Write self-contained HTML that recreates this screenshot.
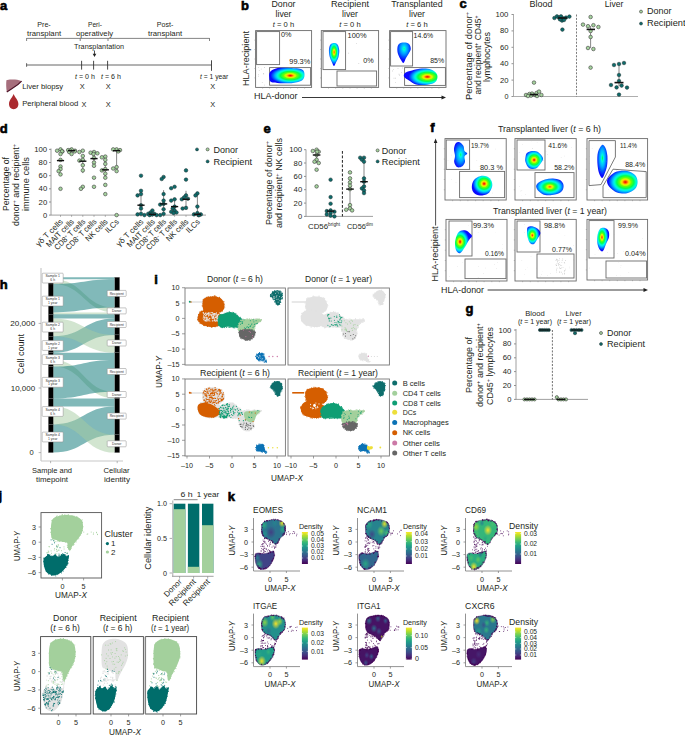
<!DOCTYPE html>
<html><head><meta charset="utf-8"><style>
html,body{margin:0;padding:0;background:#fff;}
svg{display:block;font-family:"Liberation Sans",sans-serif;}
</style></head><body>
<svg width="685" height="736" viewBox="0 0 685 736" fill="#231f20">
<defs><radialGradient id="jg1" cx="0.6" cy="0.5" fx="0.6" fy="0.5" r="0.62"><stop offset="0.000" stop-color="#f00000"/><stop offset="0.050" stop-color="#f93200"/><stop offset="0.100" stop-color="#ff7000"/><stop offset="0.150" stop-color="#ffc000"/><stop offset="0.200" stop-color="#e9ed00"/><stop offset="0.250" stop-color="#b6ff00"/><stop offset="0.300" stop-color="#70ff00"/><stop offset="0.350" stop-color="#4bff1b"/><stop offset="0.400" stop-color="#25ff35"/><stop offset="0.450" stop-color="#00ff50"/><stop offset="0.500" stop-color="#00ff87"/><stop offset="0.550" stop-color="#00ffbf"/><stop offset="0.600" stop-color="#00f2e6"/><stop offset="0.650" stop-color="#00d3f6"/><stop offset="0.700" stop-color="#00b0ff"/><stop offset="0.750" stop-color="#0088ff"/><stop offset="0.800" stop-color="#0060ff"/><stop offset="0.850" stop-color="#0535ff"/><stop offset="0.900" stop-color="#0a0aff"/><stop offset="0.950" stop-color="#0a0aff"/><stop offset="1.000" stop-color="#0a0aff"/></radialGradient>
<radialGradient id="jg2" cx="0.5" cy="0.4" fx="0.5" fy="0.4" r="0.6"><stop offset="0.000" stop-color="#fb3a00"/><stop offset="0.050" stop-color="#ff7100"/><stop offset="0.100" stop-color="#ffb500"/><stop offset="0.150" stop-color="#eee300"/><stop offset="0.200" stop-color="#c8ff00"/><stop offset="0.250" stop-color="#84ff00"/><stop offset="0.300" stop-color="#43ff20"/><stop offset="0.350" stop-color="#21ff39"/><stop offset="0.400" stop-color="#00ff52"/><stop offset="0.450" stop-color="#00ff7e"/><stop offset="0.500" stop-color="#00ffb1"/><stop offset="0.550" stop-color="#00fde1"/><stop offset="0.600" stop-color="#00e4ed"/><stop offset="0.650" stop-color="#00c7fb"/><stop offset="0.700" stop-color="#00a2ff"/><stop offset="0.750" stop-color="#007dff"/><stop offset="0.800" stop-color="#0159ff"/><stop offset="0.850" stop-color="#0532ff"/><stop offset="0.900" stop-color="#0a0aff"/><stop offset="0.950" stop-color="#0a0aff"/><stop offset="1.000" stop-color="#0a0aff"/></radialGradient>
<radialGradient id="jg3" cx="0.5" cy="0.3" fx="0.5" fy="0.3" r="0.6"><stop offset="0.000" stop-color="#00ff8a"/><stop offset="0.050" stop-color="#00ffae"/><stop offset="0.100" stop-color="#00ffd4"/><stop offset="0.150" stop-color="#00f2e6"/><stop offset="0.200" stop-color="#00e0ef"/><stop offset="0.250" stop-color="#00d0f7"/><stop offset="0.300" stop-color="#00c0ff"/><stop offset="0.350" stop-color="#00b3ff"/><stop offset="0.400" stop-color="#00a6ff"/><stop offset="0.450" stop-color="#009aff"/><stop offset="0.500" stop-color="#008bff"/><stop offset="0.550" stop-color="#007cff"/><stop offset="0.600" stop-color="#006cff"/><stop offset="0.650" stop-color="#0159ff"/><stop offset="0.700" stop-color="#0349ff"/><stop offset="0.750" stop-color="#043bff"/><stop offset="0.800" stop-color="#062cff"/><stop offset="0.850" stop-color="#081bff"/><stop offset="0.900" stop-color="#0a0aff"/><stop offset="0.950" stop-color="#0a0aff"/><stop offset="1.000" stop-color="#0a0aff"/></radialGradient>
<radialGradient id="jg4" cx="0.7" cy="0.5" fx="0.7" fy="0.5" r="0.62"><stop offset="0.000" stop-color="#f00000"/><stop offset="0.050" stop-color="#f93200"/><stop offset="0.100" stop-color="#ff7000"/><stop offset="0.150" stop-color="#ffc000"/><stop offset="0.200" stop-color="#e9ed00"/><stop offset="0.250" stop-color="#b6ff00"/><stop offset="0.300" stop-color="#70ff00"/><stop offset="0.350" stop-color="#4bff1b"/><stop offset="0.400" stop-color="#25ff35"/><stop offset="0.450" stop-color="#00ff50"/><stop offset="0.500" stop-color="#00ff87"/><stop offset="0.550" stop-color="#00ffbf"/><stop offset="0.600" stop-color="#00f2e6"/><stop offset="0.650" stop-color="#00d3f6"/><stop offset="0.700" stop-color="#00b0ff"/><stop offset="0.750" stop-color="#0088ff"/><stop offset="0.800" stop-color="#0060ff"/><stop offset="0.850" stop-color="#0535ff"/><stop offset="0.900" stop-color="#0a0aff"/><stop offset="0.950" stop-color="#0a0aff"/><stop offset="1.000" stop-color="#0a0aff"/></radialGradient>
<radialGradient id="jg5" cx="0.5" cy="0.5" fx="0.5" fy="0.5" r="0.6"><stop offset="0.000" stop-color="#00ff70"/><stop offset="0.050" stop-color="#00ff95"/><stop offset="0.100" stop-color="#00ffbd"/><stop offset="0.150" stop-color="#00fbe2"/><stop offset="0.200" stop-color="#00e8eb"/><stop offset="0.250" stop-color="#00d7f4"/><stop offset="0.300" stop-color="#00c6fc"/><stop offset="0.350" stop-color="#00bcff"/><stop offset="0.400" stop-color="#00afff"/><stop offset="0.450" stop-color="#00a1ff"/><stop offset="0.500" stop-color="#0092ff"/><stop offset="0.550" stop-color="#0082ff"/><stop offset="0.600" stop-color="#0071ff"/><stop offset="0.650" stop-color="#005dff"/><stop offset="0.700" stop-color="#024cff"/><stop offset="0.750" stop-color="#043dff"/><stop offset="0.800" stop-color="#062eff"/><stop offset="0.850" stop-color="#081cff"/><stop offset="0.900" stop-color="#0a0aff"/><stop offset="0.950" stop-color="#0a0aff"/><stop offset="1.000" stop-color="#0a0aff"/></radialGradient>
<radialGradient id="jg6" cx="0.6" cy="0.4" fx="0.6" fy="0.4" r="0.62"><stop offset="0.000" stop-color="#f00000"/><stop offset="0.050" stop-color="#f93200"/><stop offset="0.100" stop-color="#ff7000"/><stop offset="0.150" stop-color="#ffc000"/><stop offset="0.200" stop-color="#e9ed00"/><stop offset="0.250" stop-color="#b6ff00"/><stop offset="0.300" stop-color="#70ff00"/><stop offset="0.350" stop-color="#4bff1b"/><stop offset="0.400" stop-color="#25ff35"/><stop offset="0.450" stop-color="#00ff50"/><stop offset="0.500" stop-color="#00ff87"/><stop offset="0.550" stop-color="#00ffbf"/><stop offset="0.600" stop-color="#00f2e6"/><stop offset="0.650" stop-color="#00d3f6"/><stop offset="0.700" stop-color="#00b0ff"/><stop offset="0.750" stop-color="#0088ff"/><stop offset="0.800" stop-color="#0060ff"/><stop offset="0.850" stop-color="#0535ff"/><stop offset="0.900" stop-color="#0a0aff"/><stop offset="0.950" stop-color="#0a0aff"/><stop offset="1.000" stop-color="#0a0aff"/></radialGradient>
<radialGradient id="jg7" cx="0.5" cy="0.5" fx="0.5" fy="0.5" r="0.62"><stop offset="0.000" stop-color="#f00000"/><stop offset="0.050" stop-color="#f93200"/><stop offset="0.100" stop-color="#ff7000"/><stop offset="0.150" stop-color="#ffc000"/><stop offset="0.200" stop-color="#e9ed00"/><stop offset="0.250" stop-color="#b6ff00"/><stop offset="0.300" stop-color="#70ff00"/><stop offset="0.350" stop-color="#4bff1b"/><stop offset="0.400" stop-color="#25ff35"/><stop offset="0.450" stop-color="#00ff50"/><stop offset="0.500" stop-color="#00ff87"/><stop offset="0.550" stop-color="#00ffbf"/><stop offset="0.600" stop-color="#00f2e6"/><stop offset="0.650" stop-color="#00d3f6"/><stop offset="0.700" stop-color="#00b0ff"/><stop offset="0.750" stop-color="#0088ff"/><stop offset="0.800" stop-color="#0060ff"/><stop offset="0.850" stop-color="#0535ff"/><stop offset="0.900" stop-color="#0a0aff"/><stop offset="0.950" stop-color="#0a0aff"/><stop offset="1.000" stop-color="#0a0aff"/></radialGradient>
<radialGradient id="jg8" cx="0.5" cy="0.5" fx="0.5" fy="0.5" r="0.6"><stop offset="0.000" stop-color="#fe4800"/><stop offset="0.050" stop-color="#ff8400"/><stop offset="0.100" stop-color="#fdc400"/><stop offset="0.150" stop-color="#e9ec00"/><stop offset="0.200" stop-color="#baff00"/><stop offset="0.250" stop-color="#77ff00"/><stop offset="0.300" stop-color="#38ff28"/><stop offset="0.350" stop-color="#16ff40"/><stop offset="0.400" stop-color="#00ff5e"/><stop offset="0.450" stop-color="#00ff8a"/><stop offset="0.500" stop-color="#00ffbb"/><stop offset="0.550" stop-color="#00f9e3"/><stop offset="0.600" stop-color="#00e1ef"/><stop offset="0.650" stop-color="#00c4fd"/><stop offset="0.700" stop-color="#009eff"/><stop offset="0.750" stop-color="#007aff"/><stop offset="0.800" stop-color="#0157ff"/><stop offset="0.850" stop-color="#0531ff"/><stop offset="0.900" stop-color="#0a0aff"/><stop offset="0.950" stop-color="#0a0aff"/><stop offset="1.000" stop-color="#0a0aff"/></radialGradient>
<radialGradient id="jg9" cx="0.5" cy="0.4" fx="0.5" fy="0.4" r="0.58"><stop offset="0.000" stop-color="#06ff4c"/><stop offset="0.050" stop-color="#00ff71"/><stop offset="0.100" stop-color="#00ff9c"/><stop offset="0.150" stop-color="#00ffca"/><stop offset="0.200" stop-color="#00f4e5"/><stop offset="0.250" stop-color="#00e1ef"/><stop offset="0.300" stop-color="#00d0f7"/><stop offset="0.350" stop-color="#00c6fc"/><stop offset="0.400" stop-color="#00bbff"/><stop offset="0.450" stop-color="#00adff"/><stop offset="0.500" stop-color="#009cff"/><stop offset="0.550" stop-color="#008cff"/><stop offset="0.600" stop-color="#0079ff"/><stop offset="0.650" stop-color="#0063ff"/><stop offset="0.700" stop-color="#0251ff"/><stop offset="0.750" stop-color="#0441ff"/><stop offset="0.800" stop-color="#0631ff"/><stop offset="0.850" stop-color="#081dff"/><stop offset="0.900" stop-color="#0a0aff"/><stop offset="0.950" stop-color="#0a0aff"/><stop offset="1.000" stop-color="#0a0aff"/></radialGradient>
<radialGradient id="jg10" cx="0.6" cy="0.5" fx="0.6" fy="0.5" r="0.62"><stop offset="0.000" stop-color="#f00000"/><stop offset="0.050" stop-color="#f93200"/><stop offset="0.100" stop-color="#ff7000"/><stop offset="0.150" stop-color="#ffc000"/><stop offset="0.200" stop-color="#e9ed00"/><stop offset="0.250" stop-color="#b6ff00"/><stop offset="0.300" stop-color="#70ff00"/><stop offset="0.350" stop-color="#4bff1b"/><stop offset="0.400" stop-color="#25ff35"/><stop offset="0.450" stop-color="#00ff50"/><stop offset="0.500" stop-color="#00ff87"/><stop offset="0.550" stop-color="#00ffbf"/><stop offset="0.600" stop-color="#00f2e6"/><stop offset="0.650" stop-color="#00d3f6"/><stop offset="0.700" stop-color="#00b0ff"/><stop offset="0.750" stop-color="#0088ff"/><stop offset="0.800" stop-color="#0060ff"/><stop offset="0.850" stop-color="#0535ff"/><stop offset="0.900" stop-color="#0a0aff"/><stop offset="0.950" stop-color="#0a0aff"/><stop offset="1.000" stop-color="#0a0aff"/></radialGradient>
<radialGradient id="jg11" cx="0.3" cy="0.5" fx="0.3" fy="0.5" r="0.6"><stop offset="0.000" stop-color="#f00000"/><stop offset="0.050" stop-color="#f93200"/><stop offset="0.100" stop-color="#ff7000"/><stop offset="0.150" stop-color="#ffc000"/><stop offset="0.200" stop-color="#e9ed00"/><stop offset="0.250" stop-color="#b6ff00"/><stop offset="0.300" stop-color="#70ff00"/><stop offset="0.350" stop-color="#4bff1b"/><stop offset="0.400" stop-color="#25ff35"/><stop offset="0.450" stop-color="#00ff50"/><stop offset="0.500" stop-color="#00ff87"/><stop offset="0.550" stop-color="#00ffbf"/><stop offset="0.600" stop-color="#00f2e6"/><stop offset="0.650" stop-color="#00d3f6"/><stop offset="0.700" stop-color="#00b0ff"/><stop offset="0.750" stop-color="#0088ff"/><stop offset="0.800" stop-color="#0060ff"/><stop offset="0.850" stop-color="#0535ff"/><stop offset="0.900" stop-color="#0a0aff"/><stop offset="0.950" stop-color="#0a0aff"/><stop offset="1.000" stop-color="#0a0aff"/></radialGradient>
<radialGradient id="jg12" cx="0.4" cy="0.5" fx="0.4" fy="0.5" r="0.6"><stop offset="0.000" stop-color="#f72400"/><stop offset="0.050" stop-color="#ff5500"/><stop offset="0.100" stop-color="#ff9b00"/><stop offset="0.150" stop-color="#f4d600"/><stop offset="0.200" stop-color="#ddff00"/><stop offset="0.250" stop-color="#96ff00"/><stop offset="0.300" stop-color="#54ff14"/><stop offset="0.350" stop-color="#31ff2d"/><stop offset="0.400" stop-color="#0dff47"/><stop offset="0.450" stop-color="#00ff6d"/><stop offset="0.500" stop-color="#00ffa1"/><stop offset="0.550" stop-color="#00ffd6"/><stop offset="0.600" stop-color="#00eaeb"/><stop offset="0.650" stop-color="#00ccf9"/><stop offset="0.700" stop-color="#00a7ff"/><stop offset="0.750" stop-color="#0081ff"/><stop offset="0.800" stop-color="#015cff"/><stop offset="0.850" stop-color="#0533ff"/><stop offset="0.900" stop-color="#0a0aff"/><stop offset="0.950" stop-color="#0a0aff"/><stop offset="1.000" stop-color="#0a0aff"/></radialGradient>
<radialGradient id="jg13" cx="0.4" cy="0.4" fx="0.4" fy="0.4" r="0.6"><stop offset="0.000" stop-color="#f72400"/><stop offset="0.050" stop-color="#ff5500"/><stop offset="0.100" stop-color="#ff9b00"/><stop offset="0.150" stop-color="#f4d600"/><stop offset="0.200" stop-color="#ddff00"/><stop offset="0.250" stop-color="#96ff00"/><stop offset="0.300" stop-color="#54ff14"/><stop offset="0.350" stop-color="#31ff2d"/><stop offset="0.400" stop-color="#0dff47"/><stop offset="0.450" stop-color="#00ff6d"/><stop offset="0.500" stop-color="#00ffa1"/><stop offset="0.550" stop-color="#00ffd6"/><stop offset="0.600" stop-color="#00eaeb"/><stop offset="0.650" stop-color="#00ccf9"/><stop offset="0.700" stop-color="#00a7ff"/><stop offset="0.750" stop-color="#0081ff"/><stop offset="0.800" stop-color="#015cff"/><stop offset="0.850" stop-color="#0533ff"/><stop offset="0.900" stop-color="#0a0aff"/><stop offset="0.950" stop-color="#0a0aff"/><stop offset="1.000" stop-color="#0a0aff"/></radialGradient>
<clipPath id="kc14"><path d="M261.8 524.9 C262.3 523.6 263.2 522.2 264.4 521.4 C265.7 520.6 267.7 520.5 269.3 520.2 C271 519.8 272.7 519.4 274.5 519.5 C276.2 519.6 278.2 520 279.8 520.6 C281.4 521.2 283.2 521.9 284.1 523.1 C285 524.3 285.3 525.9 285.4 527.5 C285.6 529.1 285.3 531.4 285 532.8 C284.6 534.1 284 534.5 283.3 535.4 C282.5 536.3 281.4 536.8 280.5 538 C279.6 539.2 278.8 541.3 278 542.4 C277.2 543.5 276.5 544.5 275.8 544.6 C275.1 544.7 274.4 543.9 273.6 543.3 C272.8 542.6 272 541.5 271 540.7 C270 540 268.7 539.5 267.5 538.9 C266.3 538.3 264.9 538.1 264 537.2 C263 536.3 262.2 535 261.8 533.7 C261.4 532.4 261.5 530.9 261.5 529.4 C261.5 527.9 261.3 526.2 261.8 524.9 Z"/><path d="M255.3 554.2 C255.9 553.2 257.5 553 258.8 552.9 C260.1 552.8 261.7 553.8 263.1 553.8 C264.6 553.8 266.2 553.3 267.5 552.9 C268.8 552.6 270 551.9 271 551.7 C272 551.4 273 550.6 273.6 551.2 C274.2 551.9 274.6 554 274.5 555.6 C274.4 557.2 273.5 559.2 272.8 560.8 C272.1 562.4 271.1 563.9 270.1 565.2 C269.1 566.4 267.9 567.6 266.6 568.3 C265.3 569 263.6 569.6 262.3 569.6 C261 569.6 259.8 569.2 258.8 568.3 C257.8 567.4 256.7 565.8 256.1 564.3 C255.5 562.8 255.2 560.8 255.1 559.1 C255 557.4 254.7 555.2 255.3 554.2 Z"/></clipPath>
<radialGradient id="hs15"><stop offset="0" stop-color="#eae527" stop-opacity="0.95"/><stop offset="1" stop-color="#eae527" stop-opacity="0"/></radialGradient>
<radialGradient id="hs16"><stop offset="0" stop-color="#28a883" stop-opacity="0.95"/><stop offset="1" stop-color="#28a883" stop-opacity="0"/></radialGradient>
<radialGradient id="hs17"><stop offset="0" stop-color="#2cac80" stop-opacity="0.95"/><stop offset="1" stop-color="#2cac80" stop-opacity="0"/></radialGradient>
<radialGradient id="hs18"><stop offset="0" stop-color="#22908c" stop-opacity="0.95"/><stop offset="1" stop-color="#22908c" stop-opacity="0"/></radialGradient>
<radialGradient id="hs19"><stop offset="0" stop-color="#423d83" stop-opacity="0.95"/><stop offset="1" stop-color="#423d83" stop-opacity="0"/></radialGradient>
<radialGradient id="hs20"><stop offset="0" stop-color="#26838e" stop-opacity="0.95"/><stop offset="1" stop-color="#26838e" stop-opacity="0"/></radialGradient>
<radialGradient id="hs21"><stop offset="0" stop-color="#2cac80" stop-opacity="0.95"/><stop offset="1" stop-color="#2cac80" stop-opacity="0"/></radialGradient>
<radialGradient id="hs22"><stop offset="0" stop-color="#26838e" stop-opacity="0.95"/><stop offset="1" stop-color="#26838e" stop-opacity="0"/></radialGradient>
<linearGradient id="vg23" x1="0" y1="1" x2="0" y2="0"><stop offset="0.00" stop-color="#440154"/><stop offset="0.11" stop-color="#482878"/><stop offset="0.22" stop-color="#3e4a89"/><stop offset="0.33" stop-color="#31688e"/><stop offset="0.44" stop-color="#26828e"/><stop offset="0.56" stop-color="#1f9e89"/><stop offset="0.67" stop-color="#35b779"/><stop offset="0.78" stop-color="#6ece58"/><stop offset="0.89" stop-color="#b5de2b"/><stop offset="1.00" stop-color="#fde725"/></linearGradient>
<clipPath id="kc24"><path d="M365.8 524.9 C366.3 523.6 367.2 522.2 368.4 521.4 C369.7 520.6 371.7 520.5 373.3 520.2 C375 519.8 376.7 519.4 378.5 519.5 C380.2 519.6 382.2 520 383.8 520.6 C385.4 521.2 387.2 521.9 388.1 523.1 C389 524.3 389.3 525.9 389.4 527.5 C389.6 529.1 389.3 531.4 389 532.8 C388.6 534.1 388 534.5 387.3 535.4 C386.5 536.3 385.4 536.8 384.5 538 C383.6 539.2 382.8 541.3 382 542.4 C381.2 543.5 380.5 544.5 379.8 544.6 C379.1 544.7 378.4 543.9 377.6 543.3 C376.8 542.6 376 541.5 375 540.7 C374 540 372.7 539.5 371.5 538.9 C370.3 538.3 368.9 538.1 368 537.2 C367 536.3 366.2 535 365.8 533.7 C365.4 532.4 365.5 530.9 365.5 529.4 C365.5 527.9 365.3 526.2 365.8 524.9 Z"/><path d="M359.3 554.2 C359.9 553.2 361.5 553 362.8 552.9 C364.1 552.8 365.7 553.8 367.1 553.8 C368.6 553.8 370.2 553.3 371.5 552.9 C372.8 552.6 374 551.9 375 551.7 C376 551.4 377 550.6 377.6 551.2 C378.2 551.9 378.6 554 378.5 555.6 C378.4 557.2 377.5 559.2 376.8 560.8 C376.1 562.4 375.1 563.9 374.1 565.2 C373.1 566.4 371.9 567.6 370.6 568.3 C369.3 569 367.6 569.6 366.3 569.6 C365 569.6 363.8 569.2 362.8 568.3 C361.8 567.4 360.7 565.8 360.1 564.3 C359.5 562.8 359.2 560.8 359.1 559.1 C359 557.4 358.7 555.2 359.3 554.2 Z"/></clipPath>
<radialGradient id="hs25"><stop offset="0" stop-color="#eae527" stop-opacity="0.95"/><stop offset="1" stop-color="#eae527" stop-opacity="0"/></radialGradient>
<radialGradient id="hs26"><stop offset="0" stop-color="#6fce57" stop-opacity="0.95"/><stop offset="1" stop-color="#6fce57" stop-opacity="0"/></radialGradient>
<radialGradient id="hs27"><stop offset="0" stop-color="#46be6f" stop-opacity="0.95"/><stop offset="1" stop-color="#46be6f" stop-opacity="0"/></radialGradient>
<radialGradient id="hs28"><stop offset="0" stop-color="#28a883" stop-opacity="0.95"/><stop offset="1" stop-color="#28a883" stop-opacity="0"/></radialGradient>
<radialGradient id="hs29"><stop offset="0" stop-color="#404386" stop-opacity="0.95"/><stop offset="1" stop-color="#404386" stop-opacity="0"/></radialGradient>
<radialGradient id="hs30"><stop offset="0" stop-color="#28a883" stop-opacity="0.95"/><stop offset="1" stop-color="#28a883" stop-opacity="0"/></radialGradient>
<linearGradient id="vg31" x1="0" y1="1" x2="0" y2="0"><stop offset="0.00" stop-color="#440154"/><stop offset="0.11" stop-color="#482878"/><stop offset="0.22" stop-color="#3e4a89"/><stop offset="0.33" stop-color="#31688e"/><stop offset="0.44" stop-color="#26828e"/><stop offset="0.56" stop-color="#1f9e89"/><stop offset="0.67" stop-color="#35b779"/><stop offset="0.78" stop-color="#6ece58"/><stop offset="0.89" stop-color="#b5de2b"/><stop offset="1.00" stop-color="#fde725"/></linearGradient>
<clipPath id="kc32"><path d="M473.8 524.9 C474.3 523.6 475.2 522.2 476.4 521.4 C477.7 520.6 479.7 520.5 481.3 520.2 C483 519.8 484.7 519.4 486.5 519.5 C488.2 519.6 490.2 520 491.8 520.6 C493.4 521.2 495.2 521.9 496.1 523.1 C497 524.3 497.3 525.9 497.4 527.5 C497.6 529.1 497.3 531.4 497 532.8 C496.6 534.1 496 534.5 495.3 535.4 C494.5 536.3 493.4 536.8 492.5 538 C491.6 539.2 490.8 541.3 490 542.4 C489.2 543.5 488.5 544.5 487.8 544.6 C487.1 544.7 486.4 543.9 485.6 543.3 C484.8 542.6 484 541.5 483 540.7 C482 540 480.7 539.5 479.5 538.9 C478.3 538.3 476.9 538.1 476 537.2 C475 536.3 474.2 535 473.8 533.7 C473.4 532.4 473.5 530.9 473.5 529.4 C473.5 527.9 473.3 526.2 473.8 524.9 Z"/><path d="M467.3 554.2 C467.9 553.2 469.5 553 470.8 552.9 C472.1 552.8 473.7 553.8 475.1 553.8 C476.6 553.8 478.2 553.3 479.5 552.9 C480.8 552.6 482 551.9 483 551.7 C484 551.4 485 550.6 485.6 551.2 C486.2 551.9 486.6 554 486.5 555.6 C486.4 557.2 485.5 559.2 484.8 560.8 C484.1 562.4 483.1 563.9 482.1 565.2 C481.1 566.4 479.9 567.6 478.6 568.3 C477.3 569 475.6 569.6 474.3 569.6 C473 569.6 471.8 569.2 470.8 568.3 C469.8 567.4 468.7 565.8 468.1 564.3 C467.5 562.8 467.2 560.8 467.1 559.1 C467 557.4 466.7 555.2 467.3 554.2 Z"/></clipPath>
<radialGradient id="hs33"><stop offset="0" stop-color="#fde725" stop-opacity="0.95"/><stop offset="1" stop-color="#fde725" stop-opacity="0"/></radialGradient>
<radialGradient id="hs34"><stop offset="0" stop-color="#9cd83b" stop-opacity="0.95"/><stop offset="1" stop-color="#9cd83b" stop-opacity="0"/></radialGradient>
<radialGradient id="hs35"><stop offset="0" stop-color="#46be6f" stop-opacity="0.95"/><stop offset="1" stop-color="#46be6f" stop-opacity="0"/></radialGradient>
<radialGradient id="hs36"><stop offset="0" stop-color="#46be6f" stop-opacity="0.95"/><stop offset="1" stop-color="#46be6f" stop-opacity="0"/></radialGradient>
<radialGradient id="hs37"><stop offset="0" stop-color="#28a883" stop-opacity="0.95"/><stop offset="1" stop-color="#28a883" stop-opacity="0"/></radialGradient>
<radialGradient id="hs38"><stop offset="0" stop-color="#26838e" stop-opacity="0.95"/><stop offset="1" stop-color="#26838e" stop-opacity="0"/></radialGradient>
<radialGradient id="hs39"><stop offset="0" stop-color="#fde725" stop-opacity="0.95"/><stop offset="1" stop-color="#fde725" stop-opacity="0"/></radialGradient>
<radialGradient id="hs40"><stop offset="0" stop-color="#60c860" stop-opacity="0.95"/><stop offset="1" stop-color="#60c860" stop-opacity="0"/></radialGradient>
<radialGradient id="hs41"><stop offset="0" stop-color="#46be6f" stop-opacity="0.95"/><stop offset="1" stop-color="#46be6f" stop-opacity="0"/></radialGradient>
<radialGradient id="hs42"><stop offset="0" stop-color="#2a788e" stop-opacity="0.95"/><stop offset="1" stop-color="#2a788e" stop-opacity="0"/></radialGradient>
<linearGradient id="vg43" x1="0" y1="1" x2="0" y2="0"><stop offset="0.00" stop-color="#440154"/><stop offset="0.11" stop-color="#482878"/><stop offset="0.22" stop-color="#3e4a89"/><stop offset="0.33" stop-color="#31688e"/><stop offset="0.44" stop-color="#26828e"/><stop offset="0.56" stop-color="#1f9e89"/><stop offset="0.67" stop-color="#35b779"/><stop offset="0.78" stop-color="#6ece58"/><stop offset="0.89" stop-color="#b5de2b"/><stop offset="1.00" stop-color="#fde725"/></linearGradient>
<clipPath id="kc44"><path d="M261.8 620.5 C262.3 619.2 263.2 617.8 264.4 617 C265.7 616.2 267.7 616.1 269.3 615.8 C271 615.4 272.7 615 274.5 615.1 C276.2 615.2 278.2 615.6 279.8 616.2 C281.4 616.8 283.2 617.5 284.1 618.7 C285 619.9 285.3 621.5 285.4 623.1 C285.6 624.7 285.3 627 285 628.4 C284.6 629.7 284 630.1 283.3 631 C282.5 631.9 281.4 632.4 280.5 633.6 C279.6 634.8 278.8 636.9 278 638 C277.2 639.1 276.5 640.1 275.8 640.2 C275.1 640.3 274.4 639.5 273.6 638.9 C272.8 638.2 272 637.1 271 636.3 C270 635.6 268.7 635.1 267.5 634.5 C266.3 633.9 264.9 633.7 264 632.8 C263 631.9 262.2 630.6 261.8 629.3 C261.4 628 261.5 626.5 261.5 625 C261.5 623.5 261.3 621.8 261.8 620.5 Z"/><path d="M255.3 649.8 C255.9 648.8 257.5 648.6 258.8 648.5 C260.1 648.5 261.7 649.4 263.1 649.4 C264.6 649.4 266.2 648.9 267.5 648.5 C268.8 648.2 270 647.5 271 647.3 C272 647 273 646.2 273.6 646.8 C274.2 647.5 274.6 649.6 274.5 651.2 C274.4 652.8 273.5 654.8 272.8 656.4 C272.1 658 271.1 659.5 270.1 660.8 C269.1 662 267.9 663.2 266.6 663.9 C265.3 664.6 263.6 665.2 262.3 665.2 C261 665.2 259.8 664.8 258.8 663.9 C257.8 663 256.7 661.4 256.1 659.9 C255.5 658.4 255.2 656.4 255.1 654.7 C255 653 254.7 650.8 255.3 649.8 Z"/></clipPath>
<radialGradient id="hs45"><stop offset="0" stop-color="#fde725" stop-opacity="0.95"/><stop offset="1" stop-color="#fde725" stop-opacity="0"/></radialGradient>
<radialGradient id="hs46"><stop offset="0" stop-color="#89d447" stop-opacity="0.95"/><stop offset="1" stop-color="#89d447" stop-opacity="0"/></radialGradient>
<radialGradient id="hs47"><stop offset="0" stop-color="#60c860" stop-opacity="0.95"/><stop offset="1" stop-color="#60c860" stop-opacity="0"/></radialGradient>
<radialGradient id="hs48"><stop offset="0" stop-color="#9cd83b" stop-opacity="0.95"/><stop offset="1" stop-color="#9cd83b" stop-opacity="0"/></radialGradient>
<radialGradient id="hs49"><stop offset="0" stop-color="#2f6c8e" stop-opacity="0.95"/><stop offset="1" stop-color="#2f6c8e" stop-opacity="0"/></radialGradient>
<radialGradient id="hs50"><stop offset="0" stop-color="#fde725" stop-opacity="0.95"/><stop offset="1" stop-color="#fde725" stop-opacity="0"/></radialGradient>
<radialGradient id="hs51"><stop offset="0" stop-color="#28a883" stop-opacity="0.95"/><stop offset="1" stop-color="#28a883" stop-opacity="0"/></radialGradient>
<radialGradient id="hs52"><stop offset="0" stop-color="#32b37b" stop-opacity="0.95"/><stop offset="1" stop-color="#32b37b" stop-opacity="0"/></radialGradient>
<linearGradient id="vg53" x1="0" y1="1" x2="0" y2="0"><stop offset="0.00" stop-color="#440154"/><stop offset="0.11" stop-color="#482878"/><stop offset="0.22" stop-color="#3e4a89"/><stop offset="0.33" stop-color="#31688e"/><stop offset="0.44" stop-color="#26828e"/><stop offset="0.56" stop-color="#1f9e89"/><stop offset="0.67" stop-color="#35b779"/><stop offset="0.78" stop-color="#6ece58"/><stop offset="0.89" stop-color="#b5de2b"/><stop offset="1.00" stop-color="#fde725"/></linearGradient>
<clipPath id="kc54"><path d="M365.8 620.5 C366.3 619.2 367.2 617.8 368.4 617 C369.7 616.2 371.7 616.1 373.3 615.8 C375 615.4 376.7 615 378.5 615.1 C380.2 615.2 382.2 615.6 383.8 616.2 C385.4 616.8 387.2 617.5 388.1 618.7 C389 619.9 389.3 621.5 389.4 623.1 C389.6 624.7 389.3 627 389 628.4 C388.6 629.7 388 630.1 387.3 631 C386.5 631.9 385.4 632.4 384.5 633.6 C383.6 634.8 382.8 636.9 382 638 C381.2 639.1 380.5 640.1 379.8 640.2 C379.1 640.3 378.4 639.5 377.6 638.9 C376.8 638.2 376 637.1 375 636.3 C374 635.6 372.7 635.1 371.5 634.5 C370.3 633.9 368.9 633.7 368 632.8 C367 631.9 366.2 630.6 365.8 629.3 C365.4 628 365.5 626.5 365.5 625 C365.5 623.5 365.3 621.8 365.8 620.5 Z"/><path d="M359.3 649.8 C359.9 648.8 361.5 648.6 362.8 648.5 C364.1 648.5 365.7 649.4 367.1 649.4 C368.6 649.4 370.2 648.9 371.5 648.5 C372.8 648.2 374 647.5 375 647.3 C376 647 377 646.2 377.6 646.8 C378.2 647.5 378.6 649.6 378.5 651.2 C378.4 652.8 377.5 654.8 376.8 656.4 C376.1 658 375.1 659.5 374.1 660.8 C373.1 662 371.9 663.2 370.6 663.9 C369.3 664.6 367.6 665.2 366.3 665.2 C365 665.2 363.8 664.8 362.8 663.9 C361.8 663 360.7 661.4 360.1 659.9 C359.5 658.4 359.2 656.4 359.1 654.7 C359 653 358.7 650.8 359.3 649.8 Z"/></clipPath>
<radialGradient id="hs55"><stop offset="0" stop-color="#2f6c8e" stop-opacity="0.95"/><stop offset="1" stop-color="#2f6c8e" stop-opacity="0"/></radialGradient>
<radialGradient id="hs56"><stop offset="0" stop-color="#355f8c" stop-opacity="0.95"/><stop offset="1" stop-color="#355f8c" stop-opacity="0"/></radialGradient>
<radialGradient id="hs57"><stop offset="0" stop-color="#2c738e" stop-opacity="0.95"/><stop offset="1" stop-color="#2c738e" stop-opacity="0"/></radialGradient>
<radialGradient id="hs58"><stop offset="0" stop-color="#355f8c" stop-opacity="0.95"/><stop offset="1" stop-color="#355f8c" stop-opacity="0"/></radialGradient>
<radialGradient id="hs59"><stop offset="0" stop-color="#bcdf2a" stop-opacity="0.95"/><stop offset="1" stop-color="#bcdf2a" stop-opacity="0"/></radialGradient>
<radialGradient id="hs60"><stop offset="0" stop-color="#28a883" stop-opacity="0.95"/><stop offset="1" stop-color="#28a883" stop-opacity="0"/></radialGradient>
<radialGradient id="hs61"><stop offset="0" stop-color="#3b528a" stop-opacity="0.95"/><stop offset="1" stop-color="#3b528a" stop-opacity="0"/></radialGradient>
<radialGradient id="hs62"><stop offset="0" stop-color="#3b528a" stop-opacity="0.95"/><stop offset="1" stop-color="#3b528a" stop-opacity="0"/></radialGradient>
<radialGradient id="hs63"><stop offset="0" stop-color="#355f8c" stop-opacity="0.95"/><stop offset="1" stop-color="#355f8c" stop-opacity="0"/></radialGradient>
<radialGradient id="hs64"><stop offset="0" stop-color="#404386" stop-opacity="0.95"/><stop offset="1" stop-color="#404386" stop-opacity="0"/></radialGradient>
<linearGradient id="vg65" x1="0" y1="1" x2="0" y2="0"><stop offset="0.00" stop-color="#440154"/><stop offset="0.11" stop-color="#482878"/><stop offset="0.22" stop-color="#3e4a89"/><stop offset="0.33" stop-color="#31688e"/><stop offset="0.44" stop-color="#26828e"/><stop offset="0.56" stop-color="#1f9e89"/><stop offset="0.67" stop-color="#35b779"/><stop offset="0.78" stop-color="#6ece58"/><stop offset="0.89" stop-color="#b5de2b"/><stop offset="1.00" stop-color="#fde725"/></linearGradient>
<clipPath id="kc66"><path d="M473.8 620.5 C474.3 619.2 475.2 617.8 476.4 617 C477.7 616.2 479.7 616.1 481.3 615.8 C483 615.4 484.7 615 486.5 615.1 C488.2 615.2 490.2 615.6 491.8 616.2 C493.4 616.8 495.2 617.5 496.1 618.7 C497 619.9 497.3 621.5 497.4 623.1 C497.6 624.7 497.3 627 497 628.4 C496.6 629.7 496 630.1 495.3 631 C494.5 631.9 493.4 632.4 492.5 633.6 C491.6 634.8 490.8 636.9 490 638 C489.2 639.1 488.5 640.1 487.8 640.2 C487.1 640.3 486.4 639.5 485.6 638.9 C484.8 638.2 484 637.1 483 636.3 C482 635.6 480.7 635.1 479.5 634.5 C478.3 633.9 476.9 633.7 476 632.8 C475 631.9 474.2 630.6 473.8 629.3 C473.4 628 473.5 626.5 473.5 625 C473.5 623.5 473.3 621.8 473.8 620.5 Z"/><path d="M467.3 649.8 C467.9 648.8 469.5 648.6 470.8 648.5 C472.1 648.5 473.7 649.4 475.1 649.4 C476.6 649.4 478.2 648.9 479.5 648.5 C480.8 648.2 482 647.5 483 647.3 C484 647 485 646.2 485.6 646.8 C486.2 647.5 486.6 649.6 486.5 651.2 C486.4 652.8 485.5 654.8 484.8 656.4 C484.1 658 483.1 659.5 482.1 660.8 C481.1 662 479.9 663.2 478.6 663.9 C477.3 664.6 475.6 665.2 474.3 665.2 C473 665.2 471.8 664.8 470.8 663.9 C469.8 663 468.7 661.4 468.1 659.9 C467.5 658.4 467.2 656.4 467.1 654.7 C467 653 466.7 650.8 467.3 649.8 Z"/></clipPath>
<radialGradient id="hs67"><stop offset="0" stop-color="#fde725" stop-opacity="0.95"/><stop offset="1" stop-color="#fde725" stop-opacity="0"/></radialGradient>
<radialGradient id="hs68"><stop offset="0" stop-color="#7cd14f" stop-opacity="0.95"/><stop offset="1" stop-color="#7cd14f" stop-opacity="0"/></radialGradient>
<radialGradient id="hs69"><stop offset="0" stop-color="#32b37b" stop-opacity="0.95"/><stop offset="1" stop-color="#32b37b" stop-opacity="0"/></radialGradient>
<radialGradient id="hs70"><stop offset="0" stop-color="#32b37b" stop-opacity="0.95"/><stop offset="1" stop-color="#32b37b" stop-opacity="0"/></radialGradient>
<radialGradient id="hs71"><stop offset="0" stop-color="#1f9d89" stop-opacity="0.95"/><stop offset="1" stop-color="#1f9d89" stop-opacity="0"/></radialGradient>
<radialGradient id="hs72"><stop offset="0" stop-color="#3b528a" stop-opacity="0.95"/><stop offset="1" stop-color="#3b528a" stop-opacity="0"/></radialGradient>
<radialGradient id="hs73"><stop offset="0" stop-color="#423d83" stop-opacity="0.95"/><stop offset="1" stop-color="#423d83" stop-opacity="0"/></radialGradient>
<radialGradient id="hs74"><stop offset="0" stop-color="#472b79" stop-opacity="0.95"/><stop offset="1" stop-color="#472b79" stop-opacity="0"/></radialGradient>
<linearGradient id="vg75" x1="0" y1="1" x2="0" y2="0"><stop offset="0.00" stop-color="#440154"/><stop offset="0.11" stop-color="#482878"/><stop offset="0.22" stop-color="#3e4a89"/><stop offset="0.33" stop-color="#31688e"/><stop offset="0.44" stop-color="#26828e"/><stop offset="0.56" stop-color="#1f9e89"/><stop offset="0.67" stop-color="#35b779"/><stop offset="0.78" stop-color="#6ece58"/><stop offset="0.89" stop-color="#b5de2b"/><stop offset="1.00" stop-color="#fde725"/></linearGradient></defs>
<text x="0" y="10.2" font-size="13" font-weight="bold" fill="#000" stroke="#000" stroke-width="0.6">a</text>
<text x="241" y="10" font-size="13" font-weight="bold" fill="#000" stroke="#000" stroke-width="0.6">b</text>
<text x="459.5" y="8.4" font-size="13" font-weight="bold" fill="#000" stroke="#000" stroke-width="0.6">c</text>
<text x="-0.3" y="132.7" font-size="13" font-weight="bold" fill="#000" stroke="#000" stroke-width="0.6">d</text>
<text x="263.5" y="132.5" font-size="13" font-weight="bold" fill="#000" stroke="#000" stroke-width="0.6">e</text>
<text x="430.3" y="132.2" font-size="13" font-weight="bold" fill="#000" stroke="#000" stroke-width="0.6">f</text>
<text x="465.5" y="312.5" font-size="13" font-weight="bold" fill="#000" stroke="#000" stroke-width="0.6">g</text>
<text x="-0.3" y="289" font-size="13" font-weight="bold" fill="#000" stroke="#000" stroke-width="0.6">h</text>
<text x="154.3" y="284.3" font-size="13" font-weight="bold" fill="#000" stroke="#000" stroke-width="0.6">i</text>
<text x="-1.6" y="499.5" font-size="13" font-weight="bold" fill="#000" stroke="#000" stroke-width="0.6">j</text>
<text x="227.8" y="501" font-size="13" font-weight="bold" fill="#000" stroke="#000" stroke-width="0.6">k</text>
<text x="44" y="26.8" font-size="7.4" text-anchor="middle" textLength="13.5" lengthAdjust="spacingAndGlyphs">Pre-</text>
<text x="27" y="36" font-size="7.4" textLength="34.2" lengthAdjust="spacingAndGlyphs">transplant</text>
<text x="95" y="26.8" font-size="7.4" text-anchor="middle" textLength="14" lengthAdjust="spacingAndGlyphs">Peri-</text>
<text x="76" y="36" font-size="7.4" textLength="37.2" lengthAdjust="spacingAndGlyphs">operatively</text>
<text x="165" y="26.8" font-size="7.4" text-anchor="middle" textLength="16.5" lengthAdjust="spacingAndGlyphs">Post-</text>
<text x="148" y="36" font-size="7.4" textLength="34.2" lengthAdjust="spacingAndGlyphs">transplant</text>
<line x1="26.6" y1="38.4" x2="209.5" y2="38.4" stroke="#777" stroke-width="0.9"/>
<line x1="26.6" y1="38" x2="26.6" y2="41" stroke="#777" stroke-width="0.9"/>
<line x1="80.2" y1="38" x2="80.2" y2="41" stroke="#777" stroke-width="0.9"/>
<line x1="108" y1="38" x2="108" y2="41" stroke="#777" stroke-width="0.9"/>
<line x1="209.5" y1="38" x2="209.5" y2="41" stroke="#777" stroke-width="0.9"/>
<text x="74" y="48.6" font-size="7.4" textLength="50" lengthAdjust="spacingAndGlyphs">Transplantation</text>
<line x1="94.5" y1="50.5" x2="94.5" y2="54.5" stroke="#222" stroke-width="0.8"/>
<path d="M92.7 53.8 L96.3 53.8 L94.5 57 Z" fill="#222"/>
<line x1="26.4" y1="65" x2="211.5" y2="65" stroke="#555" stroke-width="0.9"/>
<line x1="26.6" y1="63.2" x2="26.6" y2="66.8" stroke="#555" stroke-width="0.9"/>
<line x1="81.6" y1="60.8" x2="81.6" y2="69.6" stroke="#333" stroke-width="0.9"/>
<line x1="93.6" y1="60.8" x2="93.6" y2="69.6" stroke="#333" stroke-width="0.9"/>
<line x1="107.6" y1="60.8" x2="107.6" y2="69.6" stroke="#333" stroke-width="0.9"/>
<line x1="211.5" y1="60.3" x2="211.5" y2="70.8" stroke="#333" stroke-width="0.9"/>
<text x="75" y="79" font-size="7.4" textLength="20" lengthAdjust="spacingAndGlyphs"><tspan font-style="italic">t</tspan> = 0 h</text>
<text x="101" y="79" font-size="7.4" textLength="20" lengthAdjust="spacingAndGlyphs"><tspan font-style="italic">t</tspan> = 6 h</text>
<text x="200" y="79" font-size="7.4" textLength="28.3" lengthAdjust="spacingAndGlyphs"><tspan font-style="italic">t</tspan> = 1 year</text>
<text x="22.2" y="88.6" font-size="7.5" textLength="41" lengthAdjust="spacingAndGlyphs">Liver biopsy</text>
<text x="22.2" y="106.4" font-size="7.5" textLength="56" lengthAdjust="spacingAndGlyphs">Peripheral blood</text>
<text x="82.2" y="88.6" font-size="7.4" text-anchor="middle">X</text>
<text x="108.2" y="88.6" font-size="7.4" text-anchor="middle">X</text>
<text x="212.6" y="88.6" font-size="7.4" text-anchor="middle">X</text>
<text x="84" y="106.8" font-size="7.4" text-anchor="middle">X</text>
<text x="108.2" y="106.8" font-size="7.4" text-anchor="middle">X</text>
<text x="212.6" y="106.8" font-size="7.4" text-anchor="middle">X</text>
<path d="M6.4 80.2 C8 79.3 12 79.2 15 79.6 C18 80 20.5 80.6 21.6 81.2 C19.5 83.6 16 86.2 12.5 88.3 C10.5 89.7 8.5 91 6.8 92 C6.2 88 6 84 6.4 80.2 Z" fill="#a66e7c"/>
<path d="M21.6 81.2 C19.5 83.6 16 86.2 12.5 88.3 C10.5 89.7 8.5 91 6.8 92" fill="none" stroke="#4c1428" stroke-width="1.1"/>
<path d="M13.6 94 C12.4 97.5 9 100 9 104 C9 107 11 109.2 13.7 109.2 C16.4 109.2 18.4 107 18.4 104 C18.4 100 15 97.5 13.6 94 Z" fill="#ab2a2f"/>
<text x="283.5" y="6.7" font-size="8.2" text-anchor="middle" textLength="24" lengthAdjust="spacingAndGlyphs">Donor</text>
<text x="283.5" y="16.9" font-size="8.2" text-anchor="middle" textLength="16" lengthAdjust="spacingAndGlyphs">liver</text>
<text x="283.5" y="26.9" font-size="8" text-anchor="middle" textLength="21.3" lengthAdjust="spacingAndGlyphs"><tspan font-style="italic">t</tspan> = 0 h</text>
<text x="350" y="6.7" font-size="8.2" text-anchor="middle" textLength="38" lengthAdjust="spacingAndGlyphs">Recipient</text>
<text x="350" y="16.9" font-size="8.2" text-anchor="middle" textLength="16" lengthAdjust="spacingAndGlyphs">liver</text>
<text x="350" y="26.9" font-size="8" text-anchor="middle" textLength="21.3" lengthAdjust="spacingAndGlyphs"><tspan font-style="italic">t</tspan> = 0 h</text>
<text x="417" y="6.7" font-size="8.2" text-anchor="middle" textLength="51.5" lengthAdjust="spacingAndGlyphs">Transplanted</text>
<text x="417" y="16.9" font-size="8.2" text-anchor="middle" textLength="16" lengthAdjust="spacingAndGlyphs">liver</text>
<text x="417" y="26.9" font-size="8" text-anchor="middle" textLength="21.3" lengthAdjust="spacingAndGlyphs"><tspan font-style="italic">t</tspan> = 6 h</text>
<rect x="255.6" y="30.6" width="56" height="56.8" fill="none" stroke="#6b6b6b" stroke-width="0.9"/>
<line x1="254.4" y1="40.1" x2="255.6" y2="40.1" stroke="#888" stroke-width="0.5"/>
<line x1="254.4" y1="49.5" x2="255.6" y2="49.5" stroke="#888" stroke-width="0.5"/>
<line x1="254.4" y1="59" x2="255.6" y2="59" stroke="#888" stroke-width="0.5"/>
<line x1="254.4" y1="68.5" x2="255.6" y2="68.5" stroke="#888" stroke-width="0.5"/>
<line x1="254.4" y1="77.9" x2="255.6" y2="77.9" stroke="#888" stroke-width="0.5"/>
<line x1="262.6" y1="87.4" x2="262.6" y2="88.6" stroke="#888" stroke-width="0.5"/>
<line x1="269.6" y1="87.4" x2="269.6" y2="88.6" stroke="#888" stroke-width="0.5"/>
<line x1="276.6" y1="87.4" x2="276.6" y2="88.6" stroke="#888" stroke-width="0.5"/>
<line x1="283.6" y1="87.4" x2="283.6" y2="88.6" stroke="#888" stroke-width="0.5"/>
<line x1="290.6" y1="87.4" x2="290.6" y2="88.6" stroke="#888" stroke-width="0.5"/>
<line x1="297.6" y1="87.4" x2="297.6" y2="88.6" stroke="#888" stroke-width="0.5"/>
<line x1="304.6" y1="87.4" x2="304.6" y2="88.6" stroke="#888" stroke-width="0.5"/>
<rect x="256.6" y="31.6" width="23" height="33" fill="none" stroke="#6b6b6b" stroke-width="0.9"/>
<rect x="269.6" y="67.6" width="41" height="17.6" fill="none" stroke="#6b6b6b" stroke-width="0.9"/>
<path d="M270 72 C271.1 70.6 272.7 69.1 276 68.4 C279.3 67.7 285.7 67.8 290 68 C294.3 68.2 299.6 68.3 302 69.5 C304.4 70.7 304.5 73.2 304.5 75 C304.5 76.8 303.9 79.2 302 80.5 C300.1 81.8 296.7 82.5 293 83 C289.3 83.5 283.7 83.4 280 83.2 C276.3 83 272.8 83 271 82 C269.2 81 269.4 78.7 269.2 77 C269 75.3 268.9 73.4 270 72 Z" fill="url(#jg1)"/>
<text x="281" y="37.2" font-size="6.6" textLength="10.5" lengthAdjust="spacingAndGlyphs">0%</text>
<text x="289.3" y="64.3" font-size="6.6" textLength="21" lengthAdjust="spacingAndGlyphs">99.3%</text>
<rect x="321.3" y="30.6" width="57.3" height="56.8" fill="none" stroke="#6b6b6b" stroke-width="0.9"/>
<line x1="320.1" y1="40.1" x2="321.3" y2="40.1" stroke="#888" stroke-width="0.5"/>
<line x1="320.1" y1="49.5" x2="321.3" y2="49.5" stroke="#888" stroke-width="0.5"/>
<line x1="320.1" y1="59" x2="321.3" y2="59" stroke="#888" stroke-width="0.5"/>
<line x1="320.1" y1="68.5" x2="321.3" y2="68.5" stroke="#888" stroke-width="0.5"/>
<line x1="320.1" y1="77.9" x2="321.3" y2="77.9" stroke="#888" stroke-width="0.5"/>
<line x1="328.5" y1="87.4" x2="328.5" y2="88.6" stroke="#888" stroke-width="0.5"/>
<line x1="335.6" y1="87.4" x2="335.6" y2="88.6" stroke="#888" stroke-width="0.5"/>
<line x1="342.8" y1="87.4" x2="342.8" y2="88.6" stroke="#888" stroke-width="0.5"/>
<line x1="350" y1="87.4" x2="350" y2="88.6" stroke="#888" stroke-width="0.5"/>
<line x1="357.1" y1="87.4" x2="357.1" y2="88.6" stroke="#888" stroke-width="0.5"/>
<line x1="364.3" y1="87.4" x2="364.3" y2="88.6" stroke="#888" stroke-width="0.5"/>
<line x1="371.4" y1="87.4" x2="371.4" y2="88.6" stroke="#888" stroke-width="0.5"/>
<rect x="323" y="31.6" width="22.6" height="38" fill="none" stroke="#6b6b6b" stroke-width="0.9"/>
<rect x="337" y="71" width="39.6" height="15" fill="none" stroke="#6b6b6b" stroke-width="0.9"/>
<path d="M334 43 C335.2 43 336.6 43.3 337.5 44.5 C338.4 45.7 339 47.9 339.2 50 C339.4 52.1 339 54.9 338.5 57 C338 59.1 336.8 61 336 62.5 C335.2 64 334.7 66 334 66 C333.3 66 332.8 64.2 332 62.5 C331.2 60.8 330 58.2 329.5 56 C329 53.8 328.8 50.9 329 49 C329.2 47.1 329.7 45.5 330.5 44.5 C331.3 43.5 332.8 43 334 43 Z" fill="url(#jg2)"/>
<text x="347.5" y="37.8" font-size="6.6" textLength="19" lengthAdjust="spacingAndGlyphs">100%</text>
<text x="363.2" y="63" font-size="6.6" textLength="10.5" lengthAdjust="spacingAndGlyphs">0%</text>
<rect x="389.6" y="30.6" width="56.4" height="56.8" fill="none" stroke="#6b6b6b" stroke-width="0.9"/>
<line x1="388.4" y1="40.1" x2="389.6" y2="40.1" stroke="#888" stroke-width="0.5"/>
<line x1="388.4" y1="49.5" x2="389.6" y2="49.5" stroke="#888" stroke-width="0.5"/>
<line x1="388.4" y1="59" x2="389.6" y2="59" stroke="#888" stroke-width="0.5"/>
<line x1="388.4" y1="68.5" x2="389.6" y2="68.5" stroke="#888" stroke-width="0.5"/>
<line x1="388.4" y1="77.9" x2="389.6" y2="77.9" stroke="#888" stroke-width="0.5"/>
<line x1="396.7" y1="87.4" x2="396.7" y2="88.6" stroke="#888" stroke-width="0.5"/>
<line x1="403.7" y1="87.4" x2="403.7" y2="88.6" stroke="#888" stroke-width="0.5"/>
<line x1="410.8" y1="87.4" x2="410.8" y2="88.6" stroke="#888" stroke-width="0.5"/>
<line x1="417.8" y1="87.4" x2="417.8" y2="88.6" stroke="#888" stroke-width="0.5"/>
<line x1="424.9" y1="87.4" x2="424.9" y2="88.6" stroke="#888" stroke-width="0.5"/>
<line x1="431.9" y1="87.4" x2="431.9" y2="88.6" stroke="#888" stroke-width="0.5"/>
<line x1="438.9" y1="87.4" x2="438.9" y2="88.6" stroke="#888" stroke-width="0.5"/>
<rect x="390.6" y="31.6" width="22" height="34.4" fill="none" stroke="#6b6b6b" stroke-width="0.9"/>
<rect x="404.6" y="67.6" width="40.8" height="17.8" fill="none" stroke="#6b6b6b" stroke-width="0.9"/>
<path d="M399 44 C400.1 43.1 402.3 42.6 404 42.6 C405.7 42.6 407.9 42.9 409 44 C410.1 45.1 410.9 47.3 410.8 49 C410.7 50.7 409.3 52.5 408.5 54 C407.7 55.5 406.8 56.5 406 58 C405.2 59.5 404.3 62.7 403.5 63 C402.7 63.3 401.9 61.5 401 60 C400.1 58.5 398.6 56 398 54 C397.4 52 397.2 49.7 397.4 48 C397.6 46.3 397.9 44.9 399 44 Z" fill="url(#jg3)"/>
<path d="M405 73 C406.3 71.9 409.2 71.2 412 70.5 C414.8 69.8 418.8 68.8 422 68.6 C425.2 68.4 428.6 68.7 431 69.5 C433.4 70.3 435.4 72 436.5 73.5 C437.6 75 437.7 76.9 437.3 78.5 C436.9 80.1 436.1 81.9 434 83 C431.9 84.1 428 84.8 425 85 C422 85.2 418.7 85.2 416 84.5 C413.3 83.8 411 81.8 409 80.5 C407 79.2 404.9 78.2 404.2 77 C403.5 75.8 403.7 74.1 405 73 Z" fill="url(#jg4)"/>
<text x="413.6" y="37.8" font-size="6.6" textLength="19.6" lengthAdjust="spacingAndGlyphs">14.6%</text>
<text x="430.2" y="63" font-size="6.6" textLength="14" lengthAdjust="spacingAndGlyphs">85%</text>
<circle cx="261.2" cy="69" r="0.3" fill="#777"/>
<circle cx="264.5" cy="67.4" r="0.3" fill="#777"/>
<circle cx="263.4" cy="73.3" r="0.3" fill="#777"/>
<circle cx="258.6" cy="76.1" r="0.3" fill="#777"/>
<circle cx="258.4" cy="74.7" r="0.3" fill="#777"/>
<circle cx="258.7" cy="67.8" r="0.3" fill="#777"/>
<circle cx="262.2" cy="82.5" r="0.3" fill="#777"/>
<circle cx="259.2" cy="70.5" r="0.3" fill="#777"/>
<circle cx="264.3" cy="85" r="0.3" fill="#777"/>
<circle cx="263.8" cy="73.9" r="0.3" fill="#777"/>
<circle cx="402.7" cy="67.9" r="0.3" fill="#777"/>
<circle cx="401.4" cy="72.5" r="0.3" fill="#777"/>
<circle cx="393.6" cy="69.2" r="0.3" fill="#777"/>
<circle cx="395.4" cy="82.5" r="0.3" fill="#777"/>
<circle cx="394" cy="78.1" r="0.3" fill="#777"/>
<circle cx="399" cy="74.1" r="0.3" fill="#777"/>
<circle cx="398" cy="68.2" r="0.3" fill="#777"/>
<circle cx="392.7" cy="70.9" r="0.3" fill="#777"/>
<circle cx="399.5" cy="75.1" r="0.3" fill="#777"/>
<circle cx="395.5" cy="78.1" r="0.3" fill="#777"/>
<circle cx="356.3" cy="43.5" r="0.3" fill="#777"/>
<circle cx="368.6" cy="57.5" r="0.3" fill="#777"/>
<circle cx="348.8" cy="53.1" r="0.3" fill="#777"/>
<circle cx="358.9" cy="63.6" r="0.3" fill="#777"/>
<text x="248.8" y="58.5" font-size="8.6" text-anchor="middle" textLength="55" lengthAdjust="spacingAndGlyphs" transform="rotate(-90 248.8 58.5)">HLA-recipient</text>
<text x="254" y="99.4" font-size="8.6" textLength="43.5" lengthAdjust="spacingAndGlyphs">HLA-donor</text>
<line x1="302" y1="97.5" x2="442" y2="97.5" stroke="#222" stroke-width="0.9"/>
<path d="M441.5 95.6 L446 97.5 L441.5 99.4 Z" fill="#222"/>
<text x="541" y="7" font-size="8.2" text-anchor="middle" textLength="23" lengthAdjust="spacingAndGlyphs">Blood</text>
<text x="614" y="7" font-size="8.2" text-anchor="middle" textLength="18.5" lengthAdjust="spacingAndGlyphs">Liver</text>
<text x="508.4" y="98.9" font-size="7" text-anchor="end" textLength="4" lengthAdjust="spacingAndGlyphs">0</text>
<line x1="511.5" y1="96.5" x2="513.5" y2="96.5" stroke="#777" stroke-width="0.8"/>
<text x="508.4" y="82.5" font-size="7" text-anchor="end" textLength="8.5" lengthAdjust="spacingAndGlyphs">20</text>
<line x1="511.5" y1="80.1" x2="513.5" y2="80.1" stroke="#777" stroke-width="0.8"/>
<text x="508.4" y="66.1" font-size="7" text-anchor="end" textLength="8.5" lengthAdjust="spacingAndGlyphs">40</text>
<line x1="511.5" y1="63.7" x2="513.5" y2="63.7" stroke="#777" stroke-width="0.8"/>
<text x="508.4" y="49.7" font-size="7" text-anchor="end" textLength="8.5" lengthAdjust="spacingAndGlyphs">60</text>
<line x1="511.5" y1="47.3" x2="513.5" y2="47.3" stroke="#777" stroke-width="0.8"/>
<text x="508.4" y="33.3" font-size="7" text-anchor="end" textLength="8.5" lengthAdjust="spacingAndGlyphs">80</text>
<line x1="511.5" y1="30.9" x2="513.5" y2="30.9" stroke="#777" stroke-width="0.8"/>
<text x="508.4" y="16.9" font-size="7" text-anchor="end" textLength="13" lengthAdjust="spacingAndGlyphs">100</text>
<line x1="511.5" y1="14.5" x2="513.5" y2="14.5" stroke="#777" stroke-width="0.8"/>
<line x1="513.5" y1="14" x2="513.5" y2="96.8" stroke="#999" stroke-width="0.8"/>
<line x1="513.5" y1="96.5" x2="638" y2="96.5" stroke="#999" stroke-width="0.8"/>
<line x1="576.5" y1="14.5" x2="576.5" y2="96.5" stroke="#444" stroke-width="0.7" stroke-dasharray="2 1.4"/>
<text x="471.5" y="56" font-size="8.4" text-anchor="middle" textLength="88" lengthAdjust="spacingAndGlyphs" transform="rotate(-90 471.5 56)">Percentage of donor<tspan font-size="5" dy="-3">+</tspan></text>
<text x="480.6" y="55" font-size="8.4" text-anchor="middle" textLength="79" lengthAdjust="spacingAndGlyphs" transform="rotate(-90 480.6 55)">and recipient<tspan font-size="5" dy="-3">+</tspan><tspan dy="3"> CD45</tspan><tspan font-size="5" dy="-3">+</tspan></text>
<text x="490.2" y="57" font-size="8.4" text-anchor="middle" textLength="50" lengthAdjust="spacingAndGlyphs" transform="rotate(-90 490.2 57)">lymphocytes</text>
<circle cx="534" cy="82.6" r="1.8" fill="#a6d49f" stroke="#3a3a3a" stroke-width="0.6"/>
<circle cx="526" cy="95" r="1.8" fill="#a6d49f" stroke="#3a3a3a" stroke-width="0.6"/>
<circle cx="529.4" cy="94" r="1.8" fill="#a6d49f" stroke="#3a3a3a" stroke-width="0.6"/>
<circle cx="532" cy="93.6" r="1.8" fill="#a6d49f" stroke="#3a3a3a" stroke-width="0.6"/>
<circle cx="535" cy="95" r="1.8" fill="#a6d49f" stroke="#3a3a3a" stroke-width="0.6"/>
<circle cx="536.6" cy="93" r="1.8" fill="#a6d49f" stroke="#3a3a3a" stroke-width="0.6"/>
<circle cx="539" cy="91.6" r="1.8" fill="#a6d49f" stroke="#3a3a3a" stroke-width="0.6"/>
<circle cx="541.4" cy="95" r="1.8" fill="#a6d49f" stroke="#3a3a3a" stroke-width="0.6"/>
<circle cx="537" cy="96" r="1.8" fill="#a6d49f" stroke="#3a3a3a" stroke-width="0.6"/>
<circle cx="531" cy="95.6" r="1.8" fill="#a6d49f" stroke="#3a3a3a" stroke-width="0.6"/>
<circle cx="528" cy="96" r="1.8" fill="#a6d49f" stroke="#3a3a3a" stroke-width="0.6"/>
<line x1="530" y1="94.6" x2="538" y2="94.6" stroke="#111" stroke-width="1.6"/>
<circle cx="554.4" cy="18" r="1.8" fill="#0e6b6b" stroke="#1f2f2f" stroke-width="0.5"/>
<circle cx="557" cy="16.4" r="1.8" fill="#0e6b6b" stroke="#1f2f2f" stroke-width="0.5"/>
<circle cx="559" cy="17.6" r="1.8" fill="#0e6b6b" stroke="#1f2f2f" stroke-width="0.5"/>
<circle cx="561" cy="16.4" r="1.8" fill="#0e6b6b" stroke="#1f2f2f" stroke-width="0.5"/>
<circle cx="563" cy="18.4" r="1.8" fill="#0e6b6b" stroke="#1f2f2f" stroke-width="0.5"/>
<circle cx="566" cy="17.6" r="1.8" fill="#0e6b6b" stroke="#1f2f2f" stroke-width="0.5"/>
<circle cx="569.4" cy="16.6" r="1.8" fill="#0e6b6b" stroke="#1f2f2f" stroke-width="0.5"/>
<circle cx="562" cy="20.6" r="1.8" fill="#0e6b6b" stroke="#1f2f2f" stroke-width="0.5"/>
<circle cx="564" cy="20" r="1.8" fill="#0e6b6b" stroke="#1f2f2f" stroke-width="0.5"/>
<circle cx="562.4" cy="29.6" r="1.8" fill="#0e6b6b" stroke="#1f2f2f" stroke-width="0.5"/>
<circle cx="560" cy="19.4" r="1.8" fill="#0e6b6b" stroke="#1f2f2f" stroke-width="0.5"/>
<line x1="558" y1="18" x2="567" y2="18" stroke="#111" stroke-width="1.6"/>
<line x1="590.6" y1="26" x2="590.6" y2="48" stroke="#555" stroke-width="0.7"/>
<circle cx="590.6" cy="17" r="1.8" fill="#a6d49f" stroke="#3a3a3a" stroke-width="0.6"/>
<circle cx="583" cy="24.6" r="1.8" fill="#a6d49f" stroke="#3a3a3a" stroke-width="0.6"/>
<circle cx="588" cy="26.2" r="1.8" fill="#a6d49f" stroke="#3a3a3a" stroke-width="0.6"/>
<circle cx="593.4" cy="25.2" r="1.8" fill="#a6d49f" stroke="#3a3a3a" stroke-width="0.6"/>
<circle cx="598.4" cy="27" r="1.8" fill="#a6d49f" stroke="#3a3a3a" stroke-width="0.6"/>
<circle cx="590.6" cy="31" r="1.8" fill="#a6d49f" stroke="#3a3a3a" stroke-width="0.6"/>
<circle cx="590.6" cy="37" r="1.8" fill="#a6d49f" stroke="#3a3a3a" stroke-width="0.6"/>
<circle cx="588" cy="48" r="1.8" fill="#a6d49f" stroke="#3a3a3a" stroke-width="0.6"/>
<circle cx="593.4" cy="49" r="1.8" fill="#a6d49f" stroke="#3a3a3a" stroke-width="0.6"/>
<circle cx="590.6" cy="67.6" r="1.8" fill="#a6d49f" stroke="#3a3a3a" stroke-width="0.6"/>
<line x1="586.6" y1="29.4" x2="595" y2="29.4" stroke="#111" stroke-width="1.6"/>
<line x1="619" y1="64" x2="619" y2="86" stroke="#555" stroke-width="0.7"/>
<circle cx="614" cy="65" r="1.8" fill="#0e6b6b" stroke="#1f2f2f" stroke-width="0.5"/>
<circle cx="619" cy="64" r="1.8" fill="#0e6b6b" stroke="#1f2f2f" stroke-width="0.5"/>
<circle cx="624" cy="63" r="1.8" fill="#0e6b6b" stroke="#1f2f2f" stroke-width="0.5"/>
<circle cx="619" cy="75" r="1.8" fill="#0e6b6b" stroke="#1f2f2f" stroke-width="0.5"/>
<circle cx="619" cy="81" r="1.8" fill="#0e6b6b" stroke="#1f2f2f" stroke-width="0.5"/>
<circle cx="611" cy="85" r="1.8" fill="#0e6b6b" stroke="#1f2f2f" stroke-width="0.5"/>
<circle cx="616.6" cy="87.4" r="1.8" fill="#0e6b6b" stroke="#1f2f2f" stroke-width="0.5"/>
<circle cx="621.6" cy="85.6" r="1.8" fill="#0e6b6b" stroke="#1f2f2f" stroke-width="0.5"/>
<circle cx="627" cy="87.6" r="1.8" fill="#0e6b6b" stroke="#1f2f2f" stroke-width="0.5"/>
<circle cx="619" cy="94.6" r="1.8" fill="#0e6b6b" stroke="#1f2f2f" stroke-width="0.5"/>
<line x1="614.5" y1="82.6" x2="623.5" y2="82.6" stroke="#111" stroke-width="1.6"/>
<circle cx="641" cy="11.6" r="1.5" fill="#a6d49f" stroke="#3a3a3a" stroke-width="0.6"/>
<circle cx="641" cy="23.6" r="1.5" fill="#0e6b6b" stroke="#1f2f2f" stroke-width="0.5"/>
<text x="647" y="13.9" font-size="8.6" textLength="24.5" lengthAdjust="spacingAndGlyphs">Donor</text>
<text x="647" y="25.7" font-size="8.6" textLength="38.5" lengthAdjust="spacingAndGlyphs">Recipient</text>
<text x="47.2" y="217.6" font-size="7.2" text-anchor="end" textLength="4.2" lengthAdjust="spacingAndGlyphs">0</text>
<line x1="49" y1="215.1" x2="51" y2="215.1" stroke="#777" stroke-width="0.8"/>
<text x="47.2" y="204.5" font-size="7.2" text-anchor="end" textLength="8.6" lengthAdjust="spacingAndGlyphs">20</text>
<line x1="49" y1="202" x2="51" y2="202" stroke="#777" stroke-width="0.8"/>
<text x="47.2" y="191.3" font-size="7.2" text-anchor="end" textLength="8.6" lengthAdjust="spacingAndGlyphs">40</text>
<line x1="49" y1="188.8" x2="51" y2="188.8" stroke="#777" stroke-width="0.8"/>
<text x="47.2" y="178.2" font-size="7.2" text-anchor="end" textLength="8.6" lengthAdjust="spacingAndGlyphs">60</text>
<line x1="49" y1="175.7" x2="51" y2="175.7" stroke="#777" stroke-width="0.8"/>
<text x="47.2" y="165" font-size="7.2" text-anchor="end" textLength="8.6" lengthAdjust="spacingAndGlyphs">80</text>
<line x1="49" y1="162.5" x2="51" y2="162.5" stroke="#777" stroke-width="0.8"/>
<text x="47.2" y="151.9" font-size="7.2" text-anchor="end" textLength="13" lengthAdjust="spacingAndGlyphs">100</text>
<line x1="49" y1="149.4" x2="51" y2="149.4" stroke="#777" stroke-width="0.8"/>
<line x1="51" y1="148.5" x2="51" y2="215.1" stroke="#888" stroke-width="0.8"/>
<line x1="51" y1="215.1" x2="206" y2="215.1" stroke="#888" stroke-width="0.8"/>
<text x="8.6" y="184" font-size="8.6" text-anchor="middle" textLength="54" lengthAdjust="spacingAndGlyphs" transform="rotate(-90 8.6 184)">Percentage of</text>
<text x="18.8" y="185" font-size="8.6" text-anchor="middle" textLength="82" lengthAdjust="spacingAndGlyphs" transform="rotate(-90 18.8 185)">donor<tspan font-size="5.5" dy="-3">+</tspan><tspan dy="3"> and recipient</tspan><tspan font-size="5.5" dy="-3">+</tspan></text>
<text x="28.5" y="184" font-size="8.6" text-anchor="middle" textLength="54" lengthAdjust="spacingAndGlyphs" transform="rotate(-90 28.5 184)">immune cells</text>
<line x1="60.5" y1="215.1" x2="60.5" y2="216.8" stroke="#888" stroke-width="0.7"/>
<text x="63.5" y="222.2" font-size="8" text-anchor="end" textLength="35" lengthAdjust="spacingAndGlyphs" transform="rotate(-45 63.5 222.2)">&#947;&#948; T cells</text>
<line x1="71.6" y1="215.1" x2="71.6" y2="216.8" stroke="#888" stroke-width="0.7"/>
<text x="74.6" y="222.2" font-size="8" text-anchor="end" textLength="36" lengthAdjust="spacingAndGlyphs" transform="rotate(-45 74.6 222.2)">MAIT cells</text>
<line x1="82.8" y1="215.1" x2="82.8" y2="216.8" stroke="#888" stroke-width="0.7"/>
<text x="85.8" y="222.2" font-size="8" text-anchor="end" textLength="40" lengthAdjust="spacingAndGlyphs" transform="rotate(-45 85.8 222.2)">CD8<tspan font-size="4.5" dy="-2.5">+</tspan><tspan dy="2.5"> T cells</tspan></text>
<line x1="94" y1="215.1" x2="94" y2="216.8" stroke="#888" stroke-width="0.7"/>
<text x="97" y="222.2" font-size="8" text-anchor="end" textLength="40" lengthAdjust="spacingAndGlyphs" transform="rotate(-45 97 222.2)">CD8<tspan font-size="4.5" dy="-2.5">&#8211;</tspan><tspan dy="2.5"> T cells</tspan></text>
<line x1="105.3" y1="215.1" x2="105.3" y2="216.8" stroke="#888" stroke-width="0.7"/>
<text x="108.3" y="222.2" font-size="8" text-anchor="end" textLength="28" lengthAdjust="spacingAndGlyphs" transform="rotate(-45 108.3 222.2)">NK cells</text>
<line x1="116.6" y1="215.1" x2="116.6" y2="216.8" stroke="#888" stroke-width="0.7"/>
<text x="119.6" y="222.2" font-size="8" text-anchor="end" textLength="16" lengthAdjust="spacingAndGlyphs" transform="rotate(-45 119.6 222.2)">ILCs</text>
<line x1="141" y1="215.1" x2="141" y2="216.8" stroke="#888" stroke-width="0.7"/>
<text x="144" y="222.2" font-size="8" text-anchor="end" textLength="35" lengthAdjust="spacingAndGlyphs" transform="rotate(-45 144 222.2)">&#947;&#948; T cells</text>
<line x1="152.4" y1="215.1" x2="152.4" y2="216.8" stroke="#888" stroke-width="0.7"/>
<text x="155.4" y="222.2" font-size="8" text-anchor="end" textLength="36" lengthAdjust="spacingAndGlyphs" transform="rotate(-45 155.4 222.2)">MAIT cells</text>
<line x1="163.6" y1="215.1" x2="163.6" y2="216.8" stroke="#888" stroke-width="0.7"/>
<text x="166.6" y="222.2" font-size="8" text-anchor="end" textLength="40" lengthAdjust="spacingAndGlyphs" transform="rotate(-45 166.6 222.2)">CD8<tspan font-size="4.5" dy="-2.5">+</tspan><tspan dy="2.5"> T cells</tspan></text>
<line x1="174.6" y1="215.1" x2="174.6" y2="216.8" stroke="#888" stroke-width="0.7"/>
<text x="177.6" y="222.2" font-size="8" text-anchor="end" textLength="40" lengthAdjust="spacingAndGlyphs" transform="rotate(-45 177.6 222.2)">CD8<tspan font-size="4.5" dy="-2.5">&#8211;</tspan><tspan dy="2.5"> T cells</tspan></text>
<line x1="186" y1="215.1" x2="186" y2="216.8" stroke="#888" stroke-width="0.7"/>
<text x="189" y="222.2" font-size="8" text-anchor="end" textLength="28" lengthAdjust="spacingAndGlyphs" transform="rotate(-45 189 222.2)">NK cells</text>
<line x1="197.4" y1="215.1" x2="197.4" y2="216.8" stroke="#888" stroke-width="0.7"/>
<text x="200.4" y="222.2" font-size="8" text-anchor="end" textLength="16" lengthAdjust="spacingAndGlyphs" transform="rotate(-45 200.4 222.2)">ILCs</text>
<circle cx="60.5" cy="149.4" r="1.8" fill="#a6d49f" stroke="#3a3a3a" stroke-width="0.6"/>
<circle cx="57.1" cy="150.7" r="1.8" fill="#a6d49f" stroke="#3a3a3a" stroke-width="0.6"/>
<circle cx="62.4" cy="151.4" r="1.8" fill="#a6d49f" stroke="#3a3a3a" stroke-width="0.6"/>
<circle cx="62" cy="151.4" r="1.8" fill="#a6d49f" stroke="#3a3a3a" stroke-width="0.6"/>
<circle cx="60.5" cy="154" r="1.8" fill="#a6d49f" stroke="#3a3a3a" stroke-width="0.6"/>
<circle cx="60.5" cy="159.9" r="1.8" fill="#a6d49f" stroke="#3a3a3a" stroke-width="0.6"/>
<circle cx="60.5" cy="166.5" r="1.8" fill="#a6d49f" stroke="#3a3a3a" stroke-width="0.6"/>
<circle cx="60.5" cy="169.1" r="1.8" fill="#a6d49f" stroke="#3a3a3a" stroke-width="0.6"/>
<circle cx="58.6" cy="171.1" r="1.8" fill="#a6d49f" stroke="#3a3a3a" stroke-width="0.6"/>
<circle cx="60.5" cy="174.4" r="1.8" fill="#a6d49f" stroke="#3a3a3a" stroke-width="0.6"/>
<circle cx="60.5" cy="188.8" r="1.8" fill="#a6d49f" stroke="#3a3a3a" stroke-width="0.6"/>
<line x1="56.9" y1="160.6" x2="64.1" y2="160.6" stroke="#111" stroke-width="1.4"/>
<circle cx="71.6" cy="149.4" r="1.8" fill="#a6d49f" stroke="#3a3a3a" stroke-width="0.6"/>
<circle cx="68.2" cy="150.1" r="1.8" fill="#a6d49f" stroke="#3a3a3a" stroke-width="0.6"/>
<circle cx="75" cy="150.7" r="1.8" fill="#a6d49f" stroke="#3a3a3a" stroke-width="0.6"/>
<circle cx="70.2" cy="150.7" r="1.8" fill="#a6d49f" stroke="#3a3a3a" stroke-width="0.6"/>
<circle cx="74.7" cy="151.4" r="1.8" fill="#a6d49f" stroke="#3a3a3a" stroke-width="0.6"/>
<circle cx="69.2" cy="152" r="1.8" fill="#a6d49f" stroke="#3a3a3a" stroke-width="0.6"/>
<circle cx="71.6" cy="154" r="1.8" fill="#a6d49f" stroke="#3a3a3a" stroke-width="0.6"/>
<line x1="68" y1="150.7" x2="75.2" y2="150.7" stroke="#111" stroke-width="1.4"/>
<line x1="82.8" y1="159.9" x2="82.8" y2="173.1" stroke="#555" stroke-width="0.7"/>
<circle cx="82.8" cy="150.7" r="1.8" fill="#a6d49f" stroke="#3a3a3a" stroke-width="0.6"/>
<circle cx="79.4" cy="152" r="1.8" fill="#a6d49f" stroke="#3a3a3a" stroke-width="0.6"/>
<circle cx="82.8" cy="156" r="1.8" fill="#a6d49f" stroke="#3a3a3a" stroke-width="0.6"/>
<circle cx="82.8" cy="159.9" r="1.8" fill="#a6d49f" stroke="#3a3a3a" stroke-width="0.6"/>
<circle cx="79.4" cy="160.6" r="1.8" fill="#a6d49f" stroke="#3a3a3a" stroke-width="0.6"/>
<circle cx="82.8" cy="165.2" r="1.8" fill="#a6d49f" stroke="#3a3a3a" stroke-width="0.6"/>
<circle cx="82.8" cy="170.4" r="1.8" fill="#a6d49f" stroke="#3a3a3a" stroke-width="0.6"/>
<circle cx="82.8" cy="186.8" r="1.8" fill="#a6d49f" stroke="#3a3a3a" stroke-width="0.6"/>
<circle cx="80.9" cy="188.8" r="1.8" fill="#a6d49f" stroke="#3a3a3a" stroke-width="0.6"/>
<line x1="79.2" y1="161.2" x2="86.4" y2="161.2" stroke="#111" stroke-width="1.4"/>
<line x1="94" y1="154" x2="94" y2="165.2" stroke="#555" stroke-width="0.7"/>
<circle cx="94" cy="152" r="1.8" fill="#a6d49f" stroke="#3a3a3a" stroke-width="0.6"/>
<circle cx="90.6" cy="152.7" r="1.8" fill="#a6d49f" stroke="#3a3a3a" stroke-width="0.6"/>
<circle cx="97.4" cy="153.3" r="1.8" fill="#a6d49f" stroke="#3a3a3a" stroke-width="0.6"/>
<circle cx="93.5" cy="154" r="1.8" fill="#a6d49f" stroke="#3a3a3a" stroke-width="0.6"/>
<circle cx="94" cy="157.9" r="1.8" fill="#a6d49f" stroke="#3a3a3a" stroke-width="0.6"/>
<circle cx="94" cy="162.5" r="1.8" fill="#a6d49f" stroke="#3a3a3a" stroke-width="0.6"/>
<circle cx="94" cy="165.8" r="1.8" fill="#a6d49f" stroke="#3a3a3a" stroke-width="0.6"/>
<circle cx="94" cy="177.7" r="1.8" fill="#a6d49f" stroke="#3a3a3a" stroke-width="0.6"/>
<circle cx="94" cy="186.8" r="1.8" fill="#a6d49f" stroke="#3a3a3a" stroke-width="0.6"/>
<line x1="90.4" y1="158.6" x2="97.6" y2="158.6" stroke="#111" stroke-width="1.4"/>
<line x1="105.3" y1="157.3" x2="105.3" y2="177.7" stroke="#555" stroke-width="0.7"/>
<circle cx="105.3" cy="156.6" r="1.8" fill="#a6d49f" stroke="#3a3a3a" stroke-width="0.6"/>
<circle cx="101.9" cy="157.3" r="1.8" fill="#a6d49f" stroke="#3a3a3a" stroke-width="0.6"/>
<circle cx="105.3" cy="159.9" r="1.8" fill="#a6d49f" stroke="#3a3a3a" stroke-width="0.6"/>
<circle cx="105.3" cy="163.9" r="1.8" fill="#a6d49f" stroke="#3a3a3a" stroke-width="0.6"/>
<circle cx="105.3" cy="169.1" r="1.8" fill="#a6d49f" stroke="#3a3a3a" stroke-width="0.6"/>
<circle cx="101.9" cy="170.4" r="1.8" fill="#a6d49f" stroke="#3a3a3a" stroke-width="0.6"/>
<circle cx="105.3" cy="173.7" r="1.8" fill="#a6d49f" stroke="#3a3a3a" stroke-width="0.6"/>
<circle cx="105.3" cy="177.7" r="1.8" fill="#a6d49f" stroke="#3a3a3a" stroke-width="0.6"/>
<circle cx="105.3" cy="184.9" r="1.8" fill="#a6d49f" stroke="#3a3a3a" stroke-width="0.6"/>
<circle cx="105.3" cy="194.1" r="1.8" fill="#a6d49f" stroke="#3a3a3a" stroke-width="0.6"/>
<line x1="101.7" y1="169.8" x2="108.9" y2="169.8" stroke="#111" stroke-width="1.4"/>
<line x1="116.6" y1="149.4" x2="116.6" y2="170.4" stroke="#555" stroke-width="0.7"/>
<circle cx="116.6" cy="149.4" r="1.8" fill="#a6d49f" stroke="#3a3a3a" stroke-width="0.6"/>
<circle cx="113.2" cy="149.4" r="1.8" fill="#a6d49f" stroke="#3a3a3a" stroke-width="0.6"/>
<circle cx="120" cy="150.1" r="1.8" fill="#a6d49f" stroke="#3a3a3a" stroke-width="0.6"/>
<circle cx="118.2" cy="151.4" r="1.8" fill="#a6d49f" stroke="#3a3a3a" stroke-width="0.6"/>
<circle cx="116.6" cy="167.1" r="1.8" fill="#a6d49f" stroke="#3a3a3a" stroke-width="0.6"/>
<circle cx="113.2" cy="168.5" r="1.8" fill="#a6d49f" stroke="#3a3a3a" stroke-width="0.6"/>
<circle cx="116.6" cy="171.1" r="1.8" fill="#a6d49f" stroke="#3a3a3a" stroke-width="0.6"/>
<circle cx="116.6" cy="215.1" r="1.8" fill="#a6d49f" stroke="#3a3a3a" stroke-width="0.6"/>
<line x1="113" y1="150.7" x2="120.2" y2="150.7" stroke="#111" stroke-width="1.4"/>
<line x1="141" y1="194.1" x2="141" y2="214.4" stroke="#555" stroke-width="0.7"/>
<circle cx="141" cy="175.7" r="1.8" fill="#0e6b6b" stroke="#1f2f2f" stroke-width="0.5"/>
<circle cx="141" cy="190.8" r="1.8" fill="#0e6b6b" stroke="#1f2f2f" stroke-width="0.5"/>
<circle cx="141" cy="194.1" r="1.8" fill="#0e6b6b" stroke="#1f2f2f" stroke-width="0.5"/>
<circle cx="137.6" cy="195.4" r="1.8" fill="#0e6b6b" stroke="#1f2f2f" stroke-width="0.5"/>
<circle cx="141" cy="205.2" r="1.8" fill="#0e6b6b" stroke="#1f2f2f" stroke-width="0.5"/>
<circle cx="141" cy="208.5" r="1.8" fill="#0e6b6b" stroke="#1f2f2f" stroke-width="0.5"/>
<circle cx="141" cy="213.8" r="1.8" fill="#0e6b6b" stroke="#1f2f2f" stroke-width="0.5"/>
<circle cx="137.6" cy="214.4" r="1.8" fill="#0e6b6b" stroke="#1f2f2f" stroke-width="0.5"/>
<circle cx="144.4" cy="215.1" r="1.8" fill="#0e6b6b" stroke="#1f2f2f" stroke-width="0.5"/>
<line x1="137.4" y1="205.2" x2="144.6" y2="205.2" stroke="#111" stroke-width="1.4"/>
<circle cx="152.4" cy="210.5" r="1.8" fill="#0e6b6b" stroke="#1f2f2f" stroke-width="0.5"/>
<circle cx="150.5" cy="212.5" r="1.8" fill="#0e6b6b" stroke="#1f2f2f" stroke-width="0.5"/>
<circle cx="154.3" cy="213.8" r="1.8" fill="#0e6b6b" stroke="#1f2f2f" stroke-width="0.5"/>
<circle cx="148.2" cy="213.8" r="1.8" fill="#0e6b6b" stroke="#1f2f2f" stroke-width="0.5"/>
<circle cx="150.2" cy="214.4" r="1.8" fill="#0e6b6b" stroke="#1f2f2f" stroke-width="0.5"/>
<circle cx="152.3" cy="214.4" r="1.8" fill="#0e6b6b" stroke="#1f2f2f" stroke-width="0.5"/>
<circle cx="156.6" cy="215.1" r="1.8" fill="#0e6b6b" stroke="#1f2f2f" stroke-width="0.5"/>
<circle cx="149.5" cy="215.1" r="1.8" fill="#0e6b6b" stroke="#1f2f2f" stroke-width="0.5"/>
<line x1="148.8" y1="214.4" x2="156" y2="214.4" stroke="#111" stroke-width="1.4"/>
<line x1="163.6" y1="190.1" x2="163.6" y2="211.8" stroke="#555" stroke-width="0.7"/>
<circle cx="163.6" cy="177" r="1.8" fill="#0e6b6b" stroke="#1f2f2f" stroke-width="0.5"/>
<circle cx="161.7" cy="179" r="1.8" fill="#0e6b6b" stroke="#1f2f2f" stroke-width="0.5"/>
<circle cx="163.6" cy="194.1" r="1.8" fill="#0e6b6b" stroke="#1f2f2f" stroke-width="0.5"/>
<circle cx="163.6" cy="200.6" r="1.8" fill="#0e6b6b" stroke="#1f2f2f" stroke-width="0.5"/>
<circle cx="163.6" cy="203.9" r="1.8" fill="#0e6b6b" stroke="#1f2f2f" stroke-width="0.5"/>
<circle cx="160.2" cy="204.6" r="1.8" fill="#0e6b6b" stroke="#1f2f2f" stroke-width="0.5"/>
<circle cx="163.6" cy="209.2" r="1.8" fill="#0e6b6b" stroke="#1f2f2f" stroke-width="0.5"/>
<circle cx="163.6" cy="213.8" r="1.8" fill="#0e6b6b" stroke="#1f2f2f" stroke-width="0.5"/>
<circle cx="160.2" cy="215.1" r="1.8" fill="#0e6b6b" stroke="#1f2f2f" stroke-width="0.5"/>
<line x1="160" y1="203.9" x2="167.2" y2="203.9" stroke="#111" stroke-width="1.4"/>
<line x1="174.6" y1="198" x2="174.6" y2="211.8" stroke="#555" stroke-width="0.7"/>
<circle cx="174.6" cy="186.8" r="1.8" fill="#0e6b6b" stroke="#1f2f2f" stroke-width="0.5"/>
<circle cx="171.2" cy="188.2" r="1.8" fill="#0e6b6b" stroke="#1f2f2f" stroke-width="0.5"/>
<circle cx="174.6" cy="199.3" r="1.8" fill="#0e6b6b" stroke="#1f2f2f" stroke-width="0.5"/>
<circle cx="171.2" cy="200.6" r="1.8" fill="#0e6b6b" stroke="#1f2f2f" stroke-width="0.5"/>
<circle cx="174.6" cy="206.6" r="1.8" fill="#0e6b6b" stroke="#1f2f2f" stroke-width="0.5"/>
<circle cx="172.7" cy="208.5" r="1.8" fill="#0e6b6b" stroke="#1f2f2f" stroke-width="0.5"/>
<circle cx="174.6" cy="210.5" r="1.8" fill="#0e6b6b" stroke="#1f2f2f" stroke-width="0.5"/>
<circle cx="171.2" cy="211.8" r="1.8" fill="#0e6b6b" stroke="#1f2f2f" stroke-width="0.5"/>
<circle cx="176.5" cy="212.5" r="1.8" fill="#0e6b6b" stroke="#1f2f2f" stroke-width="0.5"/>
<circle cx="173.6" cy="213.1" r="1.8" fill="#0e6b6b" stroke="#1f2f2f" stroke-width="0.5"/>
<line x1="171" y1="206.6" x2="178.2" y2="206.6" stroke="#111" stroke-width="1.4"/>
<line x1="186" y1="190.8" x2="186" y2="207.2" stroke="#555" stroke-width="0.7"/>
<circle cx="186" cy="170.4" r="1.8" fill="#0e6b6b" stroke="#1f2f2f" stroke-width="0.5"/>
<circle cx="186" cy="179.6" r="1.8" fill="#0e6b6b" stroke="#1f2f2f" stroke-width="0.5"/>
<circle cx="186" cy="195.4" r="1.8" fill="#0e6b6b" stroke="#1f2f2f" stroke-width="0.5"/>
<circle cx="184.1" cy="197.4" r="1.8" fill="#0e6b6b" stroke="#1f2f2f" stroke-width="0.5"/>
<circle cx="187.9" cy="198.7" r="1.8" fill="#0e6b6b" stroke="#1f2f2f" stroke-width="0.5"/>
<circle cx="181.8" cy="199.3" r="1.8" fill="#0e6b6b" stroke="#1f2f2f" stroke-width="0.5"/>
<circle cx="186" cy="207.9" r="1.8" fill="#0e6b6b" stroke="#1f2f2f" stroke-width="0.5"/>
<circle cx="182.6" cy="208.5" r="1.8" fill="#0e6b6b" stroke="#1f2f2f" stroke-width="0.5"/>
<line x1="182.4" y1="199.3" x2="189.6" y2="199.3" stroke="#111" stroke-width="1.4"/>
<line x1="197.4" y1="193.4" x2="197.4" y2="215.1" stroke="#555" stroke-width="0.7"/>
<circle cx="197.4" cy="193.4" r="1.8" fill="#0e6b6b" stroke="#1f2f2f" stroke-width="0.5"/>
<circle cx="195.5" cy="195.4" r="1.8" fill="#0e6b6b" stroke="#1f2f2f" stroke-width="0.5"/>
<circle cx="197.4" cy="206.6" r="1.8" fill="#0e6b6b" stroke="#1f2f2f" stroke-width="0.5"/>
<circle cx="197.4" cy="213.1" r="1.8" fill="#0e6b6b" stroke="#1f2f2f" stroke-width="0.5"/>
<circle cx="194" cy="214.4" r="1.8" fill="#0e6b6b" stroke="#1f2f2f" stroke-width="0.5"/>
<circle cx="200.8" cy="214.4" r="1.8" fill="#0e6b6b" stroke="#1f2f2f" stroke-width="0.5"/>
<circle cx="198.5" cy="215.1" r="1.8" fill="#0e6b6b" stroke="#1f2f2f" stroke-width="0.5"/>
<circle cx="199.1" cy="215.1" r="1.8" fill="#0e6b6b" stroke="#1f2f2f" stroke-width="0.5"/>
<line x1="193.8" y1="214.4" x2="201" y2="214.4" stroke="#111" stroke-width="1.4"/>
<circle cx="197" cy="149.4" r="1.5" fill="#0e6b6b" stroke="#1f2f2f" stroke-width="0.5"/>
<circle cx="207.6" cy="149.4" r="1.5" fill="#a6d49f" stroke="#3a3a3a" stroke-width="0.6"/>
<circle cx="207.6" cy="161.4" r="1.5" fill="#0e6b6b" stroke="#1f2f2f" stroke-width="0.5"/>
<text x="213.6" y="152.6" font-size="8.6" textLength="24.5" lengthAdjust="spacingAndGlyphs">Donor</text>
<text x="213.6" y="164.6" font-size="8.6" textLength="38.5" lengthAdjust="spacingAndGlyphs">Recipient</text>
<text x="302.2" y="218.9" font-size="7.2" text-anchor="end" textLength="4.2" lengthAdjust="spacingAndGlyphs">0</text>
<line x1="304" y1="216.4" x2="306" y2="216.4" stroke="#777" stroke-width="0.8"/>
<text x="302.2" y="205.6" font-size="7.2" text-anchor="end" textLength="8.6" lengthAdjust="spacingAndGlyphs">20</text>
<line x1="304" y1="203.1" x2="306" y2="203.1" stroke="#777" stroke-width="0.8"/>
<text x="302.2" y="192.2" font-size="7.2" text-anchor="end" textLength="8.6" lengthAdjust="spacingAndGlyphs">40</text>
<line x1="304" y1="189.7" x2="306" y2="189.7" stroke="#777" stroke-width="0.8"/>
<text x="302.2" y="178.9" font-size="7.2" text-anchor="end" textLength="8.6" lengthAdjust="spacingAndGlyphs">60</text>
<line x1="304" y1="176.4" x2="306" y2="176.4" stroke="#777" stroke-width="0.8"/>
<text x="302.2" y="165.5" font-size="7.2" text-anchor="end" textLength="8.6" lengthAdjust="spacingAndGlyphs">80</text>
<line x1="304" y1="163" x2="306" y2="163" stroke="#777" stroke-width="0.8"/>
<text x="302.2" y="152.2" font-size="7.2" text-anchor="end" textLength="13" lengthAdjust="spacingAndGlyphs">100</text>
<line x1="304" y1="149.7" x2="306" y2="149.7" stroke="#777" stroke-width="0.8"/>
<line x1="306" y1="149.5" x2="306" y2="216.4" stroke="#888" stroke-width="0.8"/>
<line x1="306" y1="216.4" x2="373" y2="216.4" stroke="#888" stroke-width="0.8"/>
<line x1="342.4" y1="151" x2="342.4" y2="216.4" stroke="#222" stroke-width="1" stroke-dasharray="2.8 1.7"/>
<text x="271.6" y="183" font-size="8.6" text-anchor="middle" textLength="84" lengthAdjust="spacingAndGlyphs" transform="rotate(-90 271.6 183)">Percentage of donor<tspan font-size="5.5" dy="-3">+</tspan></text>
<text x="282.4" y="183" font-size="8.6" text-anchor="middle" textLength="90" lengthAdjust="spacingAndGlyphs" transform="rotate(-90 282.4 183)">and recipient<tspan font-size="5.5" dy="-3">+</tspan><tspan dy="3"> NK cells</tspan></text>
<text x="308" y="229.2" font-size="7.6" textLength="32" lengthAdjust="spacingAndGlyphs">CD56<tspan font-size="4.6" dy="-3.2">bright</tspan></text>
<text x="347" y="229.2" font-size="7.6" textLength="26" lengthAdjust="spacingAndGlyphs">CD56<tspan font-size="4.6" dy="-3.2">dim</tspan></text>
<line x1="316.6" y1="151.7" x2="316.6" y2="163" stroke="#555" stroke-width="0.7"/>
<circle cx="316.6" cy="149.7" r="1.8" fill="#a6d49f" stroke="#3a3a3a" stroke-width="0.6"/>
<circle cx="312.8" cy="151" r="1.8" fill="#a6d49f" stroke="#3a3a3a" stroke-width="0.6"/>
<circle cx="318.7" cy="151.7" r="1.8" fill="#a6d49f" stroke="#3a3a3a" stroke-width="0.6"/>
<circle cx="317.1" cy="151.7" r="1.8" fill="#a6d49f" stroke="#3a3a3a" stroke-width="0.6"/>
<circle cx="316.6" cy="155" r="1.8" fill="#a6d49f" stroke="#3a3a3a" stroke-width="0.6"/>
<circle cx="316.6" cy="159.7" r="1.8" fill="#a6d49f" stroke="#3a3a3a" stroke-width="0.6"/>
<circle cx="314.5" cy="161.7" r="1.8" fill="#a6d49f" stroke="#3a3a3a" stroke-width="0.6"/>
<circle cx="318.7" cy="163" r="1.8" fill="#a6d49f" stroke="#3a3a3a" stroke-width="0.6"/>
<circle cx="316.6" cy="169.7" r="1.8" fill="#a6d49f" stroke="#3a3a3a" stroke-width="0.6"/>
<circle cx="316.6" cy="186.4" r="1.8" fill="#a6d49f" stroke="#3a3a3a" stroke-width="0.6"/>
<line x1="312.8" y1="155" x2="320.4" y2="155" stroke="#111" stroke-width="1.4"/>
<circle cx="330.6" cy="179.7" r="1.8" fill="#0e6b6b" stroke="#1f2f2f" stroke-width="0.5"/>
<circle cx="330.6" cy="197.1" r="1.8" fill="#0e6b6b" stroke="#1f2f2f" stroke-width="0.5"/>
<circle cx="330.6" cy="203.7" r="1.8" fill="#0e6b6b" stroke="#1f2f2f" stroke-width="0.5"/>
<circle cx="330.6" cy="210.4" r="1.8" fill="#0e6b6b" stroke="#1f2f2f" stroke-width="0.5"/>
<circle cx="326.8" cy="211.1" r="1.8" fill="#0e6b6b" stroke="#1f2f2f" stroke-width="0.5"/>
<circle cx="334.4" cy="211.7" r="1.8" fill="#0e6b6b" stroke="#1f2f2f" stroke-width="0.5"/>
<circle cx="330.6" cy="213.1" r="1.8" fill="#0e6b6b" stroke="#1f2f2f" stroke-width="0.5"/>
<circle cx="326.8" cy="214.4" r="1.8" fill="#0e6b6b" stroke="#1f2f2f" stroke-width="0.5"/>
<circle cx="330.6" cy="215.7" r="1.8" fill="#0e6b6b" stroke="#1f2f2f" stroke-width="0.5"/>
<circle cx="334.4" cy="216.4" r="1.8" fill="#0e6b6b" stroke="#1f2f2f" stroke-width="0.5"/>
<line x1="326.8" y1="211.1" x2="334.4" y2="211.1" stroke="#111" stroke-width="1.4"/>
<line x1="350" y1="179.7" x2="350" y2="208.4" stroke="#555" stroke-width="0.7"/>
<circle cx="350" cy="172.4" r="1.8" fill="#a6d49f" stroke="#3a3a3a" stroke-width="0.6"/>
<circle cx="350" cy="178.4" r="1.8" fill="#a6d49f" stroke="#3a3a3a" stroke-width="0.6"/>
<circle cx="350" cy="182.4" r="1.8" fill="#a6d49f" stroke="#3a3a3a" stroke-width="0.6"/>
<circle cx="350" cy="185.7" r="1.8" fill="#a6d49f" stroke="#3a3a3a" stroke-width="0.6"/>
<circle cx="350" cy="189.1" r="1.8" fill="#a6d49f" stroke="#3a3a3a" stroke-width="0.6"/>
<circle cx="350" cy="205.1" r="1.8" fill="#a6d49f" stroke="#3a3a3a" stroke-width="0.6"/>
<circle cx="350" cy="208.4" r="1.8" fill="#a6d49f" stroke="#3a3a3a" stroke-width="0.6"/>
<circle cx="346.2" cy="209.7" r="1.8" fill="#a6d49f" stroke="#3a3a3a" stroke-width="0.6"/>
<circle cx="352.1" cy="210.4" r="1.8" fill="#a6d49f" stroke="#3a3a3a" stroke-width="0.6"/>
<line x1="346.2" y1="189.1" x2="353.8" y2="189.1" stroke="#111" stroke-width="1.4"/>
<line x1="364" y1="157.7" x2="364" y2="189.7" stroke="#555" stroke-width="0.7"/>
<circle cx="364" cy="157.7" r="1.8" fill="#0e6b6b" stroke="#1f2f2f" stroke-width="0.5"/>
<circle cx="360.2" cy="157.7" r="1.8" fill="#0e6b6b" stroke="#1f2f2f" stroke-width="0.5"/>
<circle cx="361.9" cy="159.7" r="1.8" fill="#0e6b6b" stroke="#1f2f2f" stroke-width="0.5"/>
<circle cx="364" cy="161.7" r="1.8" fill="#0e6b6b" stroke="#1f2f2f" stroke-width="0.5"/>
<circle cx="364" cy="178.4" r="1.8" fill="#0e6b6b" stroke="#1f2f2f" stroke-width="0.5"/>
<circle cx="364" cy="181.7" r="1.8" fill="#0e6b6b" stroke="#1f2f2f" stroke-width="0.5"/>
<circle cx="364" cy="186.4" r="1.8" fill="#0e6b6b" stroke="#1f2f2f" stroke-width="0.5"/>
<circle cx="361.9" cy="188.4" r="1.8" fill="#0e6b6b" stroke="#1f2f2f" stroke-width="0.5"/>
<circle cx="364" cy="190.4" r="1.8" fill="#0e6b6b" stroke="#1f2f2f" stroke-width="0.5"/>
<circle cx="364" cy="193.1" r="1.8" fill="#0e6b6b" stroke="#1f2f2f" stroke-width="0.5"/>
<line x1="360.2" y1="181.7" x2="367.8" y2="181.7" stroke="#111" stroke-width="1.4"/>
<circle cx="377.6" cy="150.4" r="1.5" fill="#a6d49f" stroke="#3a3a3a" stroke-width="0.6"/>
<circle cx="377.6" cy="161.4" r="1.5" fill="#0e6b6b" stroke="#1f2f2f" stroke-width="0.5"/>
<text x="381.8" y="153.6" font-size="8.6" textLength="24.4" lengthAdjust="spacingAndGlyphs">Donor</text>
<text x="381.8" y="164.6" font-size="8.6" textLength="38" lengthAdjust="spacingAndGlyphs">Recipient</text>
<line x1="435.6" y1="142" x2="435.6" y2="225.5" stroke="#222" stroke-width="0.8"/>
<path d="M433.8 143 L435.6 138.6 L437.4 143 Z" fill="#222"/>
<text x="438" y="254" font-size="8.6" text-anchor="middle" textLength="55" lengthAdjust="spacingAndGlyphs" transform="rotate(-90 438 254)">HLA-recipient</text>
<text x="441" y="293.2" font-size="8.6" textLength="43" lengthAdjust="spacingAndGlyphs">HLA-donor</text>
<line x1="487.6" y1="290" x2="644" y2="290" stroke="#222" stroke-width="0.9"/>
<path d="M643.5 288.1 L648 290 L643.5 291.9 Z" fill="#222"/>
<text x="498" y="131.6" font-size="8.2" textLength="103" lengthAdjust="spacingAndGlyphs">Transplanted liver (<tspan font-style="italic">t</tspan> = 6 h)</text>
<text x="493" y="214" font-size="8.2" textLength="114" lengthAdjust="spacingAndGlyphs">Transplanted liver (<tspan font-style="italic">t</tspan> = 1 year)</text>
<rect x="445" y="138.6" width="61.2" height="61.4" fill="none" stroke="#6b6b6b" stroke-width="0.9"/>
<line x1="443.8" y1="148.8" x2="445" y2="148.8" stroke="#888" stroke-width="0.5"/>
<line x1="443.8" y1="159.1" x2="445" y2="159.1" stroke="#888" stroke-width="0.5"/>
<line x1="443.8" y1="169.3" x2="445" y2="169.3" stroke="#888" stroke-width="0.5"/>
<line x1="443.8" y1="179.5" x2="445" y2="179.5" stroke="#888" stroke-width="0.5"/>
<line x1="443.8" y1="189.8" x2="445" y2="189.8" stroke="#888" stroke-width="0.5"/>
<line x1="452.6" y1="200" x2="452.6" y2="201.2" stroke="#888" stroke-width="0.5"/>
<line x1="460.3" y1="200" x2="460.3" y2="201.2" stroke="#888" stroke-width="0.5"/>
<line x1="467.9" y1="200" x2="467.9" y2="201.2" stroke="#888" stroke-width="0.5"/>
<line x1="475.6" y1="200" x2="475.6" y2="201.2" stroke="#888" stroke-width="0.5"/>
<line x1="483.2" y1="200" x2="483.2" y2="201.2" stroke="#888" stroke-width="0.5"/>
<line x1="490.9" y1="200" x2="490.9" y2="201.2" stroke="#888" stroke-width="0.5"/>
<line x1="498.6" y1="200" x2="498.6" y2="201.2" stroke="#888" stroke-width="0.5"/>
<rect x="446.2" y="140" width="23.4" height="29.4" fill="none" stroke="#6b6b6b" stroke-width="0.9"/>
<rect x="459.6" y="171.4" width="45" height="26.2" fill="none" stroke="#6b6b6b" stroke-width="0.9"/>
<path d="M456 143 C457 141.9 458.8 141.9 460 142.4 C461.2 142.9 462.8 144.6 463.5 146 C464.2 147.4 463.9 149.8 464.5 151 C465.1 152.2 467.3 152.6 467.3 153.5 C467.3 154.4 464.9 155.1 464.5 156.5 C464.1 157.9 465.4 160.3 465 162 C464.6 163.7 463.3 165.7 462 166.5 C460.7 167.3 458.3 167.8 457 167 C455.7 166.2 454.5 163.8 454.2 162 C453.9 160.2 455 158.2 455 156 C455 153.8 453.8 151.2 454 149 C454.2 146.8 455 144.1 456 143 Z" fill="url(#jg5)"/>
<path d="M474 180 C475.4 178.2 477.8 176.8 480 176.2 C482.2 175.6 485.1 175.7 487 176.5 C488.9 177.3 490.7 179.2 491.5 181 C492.3 182.8 492.6 184.9 492 187 C491.4 189.1 490 192.1 488 193.5 C486 194.9 482.3 195.7 480 195.6 C477.7 195.5 475.4 194.4 474 193 C472.6 191.6 471.8 189.2 471.8 187 C471.8 184.8 472.6 181.8 474 180 Z" fill="url(#jg6)"/>
<text x="471" y="147.6" font-size="6.6" textLength="18" lengthAdjust="spacingAndGlyphs">19.7%</text>
<text x="480" y="170" font-size="6.6" textLength="23" lengthAdjust="spacingAndGlyphs">80.3 %</text>
<rect x="515" y="138.6" width="61.2" height="61.4" fill="none" stroke="#6b6b6b" stroke-width="0.9"/>
<line x1="513.8" y1="148.8" x2="515" y2="148.8" stroke="#888" stroke-width="0.5"/>
<line x1="513.8" y1="159.1" x2="515" y2="159.1" stroke="#888" stroke-width="0.5"/>
<line x1="513.8" y1="169.3" x2="515" y2="169.3" stroke="#888" stroke-width="0.5"/>
<line x1="513.8" y1="179.5" x2="515" y2="179.5" stroke="#888" stroke-width="0.5"/>
<line x1="513.8" y1="189.8" x2="515" y2="189.8" stroke="#888" stroke-width="0.5"/>
<line x1="522.6" y1="200" x2="522.6" y2="201.2" stroke="#888" stroke-width="0.5"/>
<line x1="530.3" y1="200" x2="530.3" y2="201.2" stroke="#888" stroke-width="0.5"/>
<line x1="538" y1="200" x2="538" y2="201.2" stroke="#888" stroke-width="0.5"/>
<line x1="545.6" y1="200" x2="545.6" y2="201.2" stroke="#888" stroke-width="0.5"/>
<line x1="553.2" y1="200" x2="553.2" y2="201.2" stroke="#888" stroke-width="0.5"/>
<line x1="560.9" y1="200" x2="560.9" y2="201.2" stroke="#888" stroke-width="0.5"/>
<line x1="568.6" y1="200" x2="568.6" y2="201.2" stroke="#888" stroke-width="0.5"/>
<rect x="517" y="140" width="28" height="30" fill="none" stroke="#6b6b6b" stroke-width="0.9"/>
<rect x="535" y="172.6" width="39" height="25" fill="none" stroke="#6b6b6b" stroke-width="0.9"/>
<path d="M527 153 C528.1 152 530.2 151.2 532 151 C533.8 150.8 536.2 150.8 538 152 C539.8 153.2 542.5 156.2 543 158 C543.5 159.8 542.2 161.2 541 163 C539.8 164.8 538 167.7 536 168.5 C534 169.3 530.8 169.1 529 168 C527.2 166.9 526.1 163.8 525.5 162 C524.9 160.2 525.2 158.5 525.5 157 C525.8 155.5 525.9 154 527 153 Z" fill="url(#jg7)"/>
<path d="M538 183 C539.5 181.8 542.5 180.3 545 179.5 C547.5 178.7 550.5 178.3 553 178.4 C555.5 178.5 558.2 178.9 560 180 C561.8 181.1 563.2 183.2 563.5 185 C563.8 186.8 563.4 189.4 562 191 C560.6 192.6 557.8 193.9 555 194.6 C552.2 195.3 547.7 195.5 545 195 C542.3 194.5 540.5 192.8 539 191.5 C537.5 190.2 536.4 188.4 536.2 187 C536 185.6 536.5 184.2 538 183 Z" fill="url(#jg8)"/>
<text x="548.2" y="147.6" font-size="6.6" textLength="19" lengthAdjust="spacingAndGlyphs">41.6%</text>
<text x="554.2" y="170" font-size="6.6" textLength="20" lengthAdjust="spacingAndGlyphs">58.2%</text>
<rect x="587" y="138.6" width="60.6" height="61.4" fill="none" stroke="#6b6b6b" stroke-width="0.9"/>
<line x1="585.8" y1="148.8" x2="587" y2="148.8" stroke="#888" stroke-width="0.5"/>
<line x1="585.8" y1="159.1" x2="587" y2="159.1" stroke="#888" stroke-width="0.5"/>
<line x1="585.8" y1="169.3" x2="587" y2="169.3" stroke="#888" stroke-width="0.5"/>
<line x1="585.8" y1="179.5" x2="587" y2="179.5" stroke="#888" stroke-width="0.5"/>
<line x1="585.8" y1="189.8" x2="587" y2="189.8" stroke="#888" stroke-width="0.5"/>
<line x1="594.6" y1="200" x2="594.6" y2="201.2" stroke="#888" stroke-width="0.5"/>
<line x1="602.1" y1="200" x2="602.1" y2="201.2" stroke="#888" stroke-width="0.5"/>
<line x1="609.7" y1="200" x2="609.7" y2="201.2" stroke="#888" stroke-width="0.5"/>
<line x1="617.3" y1="200" x2="617.3" y2="201.2" stroke="#888" stroke-width="0.5"/>
<line x1="624.9" y1="200" x2="624.9" y2="201.2" stroke="#888" stroke-width="0.5"/>
<line x1="632.5" y1="200" x2="632.5" y2="201.2" stroke="#888" stroke-width="0.5"/>
<line x1="640" y1="200" x2="640" y2="201.2" stroke="#888" stroke-width="0.5"/>
<path d="M589 140.6 L615.4 140.6 L615.4 157 L601 184.6 L589 185.6 Z" fill="none" stroke="#6b6b6b" stroke-width="0.9"/>
<path d="M603 197.6 L603 186 L613 169.2 L646.2 171.6 L646.2 197.6 Z" fill="none" stroke="#6b6b6b" stroke-width="0.9"/>
<path d="M602 145 C603.2 144.3 604.6 146.2 605.5 148 C606.4 149.8 607.1 153 607.4 156 C607.6 159 607.5 163 607 166 C606.5 169 605.3 172 604.5 174 C603.7 176 602.9 178.2 602 178 C601.1 177.8 599.8 175.5 599 173 C598.2 170.5 597.6 166.5 597.4 163 C597.2 159.5 597.2 155 598 152 C598.8 149 600.8 145.7 602 145 Z" fill="url(#jg9)"/>
<path d="M610 176 C611.7 174.4 614.2 172.3 617 171.5 C619.8 170.7 624 170.4 627 171 C630 171.6 633.2 173.2 635 175 C636.8 176.8 637.6 179.7 637.6 182 C637.6 184.3 636.8 187.1 635 189 C633.2 190.9 630 192.6 627 193.2 C624 193.8 619.9 193.4 617 192.4 C614.1 191.4 611.2 188.9 609.5 187 C607.8 185.1 606.9 182.8 607 181 C607.1 179.2 608.3 177.6 610 176 Z" fill="url(#jg10)"/>
<text x="620" y="147.6" font-size="6.6" textLength="17" lengthAdjust="spacingAndGlyphs">11.4%</text>
<text x="625.2" y="167" font-size="6.6" textLength="20" lengthAdjust="spacingAndGlyphs">88.4%</text>
<rect x="446" y="219.4" width="61" height="61.6" fill="none" stroke="#6b6b6b" stroke-width="0.9"/>
<line x1="444.8" y1="229.7" x2="446" y2="229.7" stroke="#888" stroke-width="0.5"/>
<line x1="444.8" y1="239.9" x2="446" y2="239.9" stroke="#888" stroke-width="0.5"/>
<line x1="444.8" y1="250.2" x2="446" y2="250.2" stroke="#888" stroke-width="0.5"/>
<line x1="444.8" y1="260.5" x2="446" y2="260.5" stroke="#888" stroke-width="0.5"/>
<line x1="444.8" y1="270.7" x2="446" y2="270.7" stroke="#888" stroke-width="0.5"/>
<line x1="453.6" y1="281" x2="453.6" y2="282.2" stroke="#888" stroke-width="0.5"/>
<line x1="461.2" y1="281" x2="461.2" y2="282.2" stroke="#888" stroke-width="0.5"/>
<line x1="468.9" y1="281" x2="468.9" y2="282.2" stroke="#888" stroke-width="0.5"/>
<line x1="476.5" y1="281" x2="476.5" y2="282.2" stroke="#888" stroke-width="0.5"/>
<line x1="484.1" y1="281" x2="484.1" y2="282.2" stroke="#888" stroke-width="0.5"/>
<line x1="491.8" y1="281" x2="491.8" y2="282.2" stroke="#888" stroke-width="0.5"/>
<line x1="499.4" y1="281" x2="499.4" y2="282.2" stroke="#888" stroke-width="0.5"/>
<rect x="449" y="221" width="23" height="35" fill="none" stroke="#6b6b6b" stroke-width="0.9"/>
<rect x="465" y="259" width="41" height="19.6" fill="none" stroke="#6b6b6b" stroke-width="0.9"/>
<path d="M460 231 C461.6 230.1 464.4 230.2 466 230.5 C467.6 230.8 468.5 232.1 469.5 233 C470.5 233.9 472.1 234.8 472 236 C471.9 237.2 470.2 238.2 469 240 C467.8 241.8 466.5 244.8 465 247 C463.5 249.2 461.5 252.7 460 253.2 C458.5 253.7 456.8 251.7 456 250 C455.2 248.3 454.9 245.3 455 243 C455.1 240.7 455.7 238 456.5 236 C457.3 234 458.4 231.9 460 231 Z" fill="url(#jg11)"/>
<text x="473" y="228" font-size="6.6" textLength="21" lengthAdjust="spacingAndGlyphs">99.3%</text>
<text x="485" y="256" font-size="6.6" textLength="19" lengthAdjust="spacingAndGlyphs">0.16%</text>
<rect x="515" y="219.4" width="61.2" height="61.6" fill="none" stroke="#6b6b6b" stroke-width="0.9"/>
<line x1="513.8" y1="229.7" x2="515" y2="229.7" stroke="#888" stroke-width="0.5"/>
<line x1="513.8" y1="239.9" x2="515" y2="239.9" stroke="#888" stroke-width="0.5"/>
<line x1="513.8" y1="250.2" x2="515" y2="250.2" stroke="#888" stroke-width="0.5"/>
<line x1="513.8" y1="260.5" x2="515" y2="260.5" stroke="#888" stroke-width="0.5"/>
<line x1="513.8" y1="270.7" x2="515" y2="270.7" stroke="#888" stroke-width="0.5"/>
<line x1="522.6" y1="281" x2="522.6" y2="282.2" stroke="#888" stroke-width="0.5"/>
<line x1="530.3" y1="281" x2="530.3" y2="282.2" stroke="#888" stroke-width="0.5"/>
<line x1="538" y1="281" x2="538" y2="282.2" stroke="#888" stroke-width="0.5"/>
<line x1="545.6" y1="281" x2="545.6" y2="282.2" stroke="#888" stroke-width="0.5"/>
<line x1="553.2" y1="281" x2="553.2" y2="282.2" stroke="#888" stroke-width="0.5"/>
<line x1="560.9" y1="281" x2="560.9" y2="282.2" stroke="#888" stroke-width="0.5"/>
<line x1="568.6" y1="281" x2="568.6" y2="282.2" stroke="#888" stroke-width="0.5"/>
<rect x="517" y="221" width="23" height="31" fill="none" stroke="#6b6b6b" stroke-width="0.9"/>
<rect x="537" y="254" width="37" height="24" fill="none" stroke="#6b6b6b" stroke-width="0.9"/>
<path d="M528 227 C529 226.2 531.3 226.1 533 226.4 C534.7 226.7 536.8 227.9 538 229 C539.2 230.1 540.4 231.5 540.4 233 C540.4 234.5 539.1 236.2 538 238 C536.9 239.8 535.3 243.2 534 244 C532.7 244.8 531.1 244.2 530 243 C528.9 241.8 528 239 527.5 237 C527 235 526.9 232.7 527 231 C527.1 229.3 527 227.8 528 227 Z" fill="url(#jg12)"/>
<text x="544" y="228" font-size="6.6" textLength="21" lengthAdjust="spacingAndGlyphs">98.8%</text>
<text x="552" y="252" font-size="6.6" textLength="20" lengthAdjust="spacingAndGlyphs">0.77%</text>
<circle cx="564.8" cy="263" r="0.3" fill="#888"/>
<circle cx="563" cy="267.5" r="0.3" fill="#888"/>
<circle cx="561.8" cy="265.3" r="0.3" fill="#888"/>
<circle cx="564.4" cy="273.1" r="0.3" fill="#888"/>
<circle cx="560.7" cy="268.6" r="0.3" fill="#888"/>
<circle cx="556.6" cy="269.2" r="0.3" fill="#888"/>
<circle cx="562.5" cy="273.9" r="0.3" fill="#888"/>
<circle cx="564.2" cy="262.6" r="0.3" fill="#888"/>
<circle cx="559.9" cy="268.7" r="0.3" fill="#888"/>
<circle cx="556.2" cy="265.4" r="0.3" fill="#888"/>
<circle cx="557.7" cy="259.9" r="0.3" fill="#888"/>
<circle cx="556.6" cy="270.3" r="0.3" fill="#888"/>
<circle cx="557.3" cy="262" r="0.3" fill="#888"/>
<circle cx="559.9" cy="271.9" r="0.3" fill="#888"/>
<circle cx="556.8" cy="265.2" r="0.3" fill="#888"/>
<circle cx="561.5" cy="272.1" r="0.3" fill="#888"/>
<circle cx="564.2" cy="271.8" r="0.3" fill="#888"/>
<circle cx="558.8" cy="264.6" r="0.3" fill="#888"/>
<circle cx="559.6" cy="272.1" r="0.3" fill="#888"/>
<circle cx="565.6" cy="260.4" r="0.3" fill="#888"/>
<circle cx="557.8" cy="261.7" r="0.3" fill="#888"/>
<circle cx="558.3" cy="265.8" r="0.3" fill="#888"/>
<circle cx="561.9" cy="262.2" r="0.3" fill="#888"/>
<circle cx="556" cy="264.7" r="0.3" fill="#888"/>
<circle cx="559.7" cy="267.1" r="0.3" fill="#888"/>
<circle cx="565.5" cy="269" r="0.3" fill="#888"/>
<circle cx="561.2" cy="267.9" r="0.3" fill="#888"/>
<circle cx="562.8" cy="258.9" r="0.3" fill="#888"/>
<circle cx="565" cy="270.5" r="0.3" fill="#888"/>
<circle cx="564.7" cy="270.8" r="0.3" fill="#888"/>
<circle cx="559.9" cy="264.4" r="0.3" fill="#888"/>
<circle cx="557" cy="268.1" r="0.3" fill="#888"/>
<circle cx="556.6" cy="259.1" r="0.3" fill="#888"/>
<circle cx="558.1" cy="260.6" r="0.3" fill="#888"/>
<circle cx="559.4" cy="258.8" r="0.3" fill="#888"/>
<circle cx="556" cy="260.4" r="0.3" fill="#888"/>
<circle cx="557" cy="263.8" r="0.3" fill="#888"/>
<circle cx="556.3" cy="272" r="0.3" fill="#888"/>
<circle cx="562.1" cy="260.4" r="0.3" fill="#888"/>
<circle cx="558.5" cy="263.6" r="0.3" fill="#888"/>
<circle cx="559.6" cy="260" r="0.3" fill="#888"/>
<circle cx="564.5" cy="273.9" r="0.3" fill="#888"/>
<circle cx="560.7" cy="265.7" r="0.3" fill="#888"/>
<circle cx="556.9" cy="259.6" r="0.3" fill="#888"/>
<circle cx="559.4" cy="262.2" r="0.3" fill="#888"/>
<rect x="587" y="219.4" width="60.6" height="60.6" fill="none" stroke="#6b6b6b" stroke-width="0.9"/>
<line x1="585.8" y1="229.5" x2="587" y2="229.5" stroke="#888" stroke-width="0.5"/>
<line x1="585.8" y1="239.6" x2="587" y2="239.6" stroke="#888" stroke-width="0.5"/>
<line x1="585.8" y1="249.7" x2="587" y2="249.7" stroke="#888" stroke-width="0.5"/>
<line x1="585.8" y1="259.8" x2="587" y2="259.8" stroke="#888" stroke-width="0.5"/>
<line x1="585.8" y1="269.9" x2="587" y2="269.9" stroke="#888" stroke-width="0.5"/>
<line x1="594.6" y1="280" x2="594.6" y2="281.2" stroke="#888" stroke-width="0.5"/>
<line x1="602.1" y1="280" x2="602.1" y2="281.2" stroke="#888" stroke-width="0.5"/>
<line x1="609.7" y1="280" x2="609.7" y2="281.2" stroke="#888" stroke-width="0.5"/>
<line x1="617.3" y1="280" x2="617.3" y2="281.2" stroke="#888" stroke-width="0.5"/>
<line x1="624.9" y1="280" x2="624.9" y2="281.2" stroke="#888" stroke-width="0.5"/>
<line x1="632.5" y1="280" x2="632.5" y2="281.2" stroke="#888" stroke-width="0.5"/>
<line x1="640" y1="280" x2="640" y2="281.2" stroke="#888" stroke-width="0.5"/>
<rect x="589" y="220.6" width="25" height="37.4" fill="none" stroke="#6b6b6b" stroke-width="0.9"/>
<rect x="606" y="261" width="40.6" height="17" fill="none" stroke="#6b6b6b" stroke-width="0.9"/>
<path d="M600 229 C601.3 227.7 603.6 227.7 605 228 C606.4 228.3 607.8 229.5 608.5 231 C609.2 232.5 609.4 234.8 609 237 C608.6 239.2 607 241.7 606 244 C605 246.3 604 250 603 251 C602 252 600.9 251.2 600 250 C599.1 248.8 597.9 246.3 597.5 244 C597.1 241.7 597 238.5 597.4 236 C597.8 233.5 598.7 230.3 600 229 Z" fill="url(#jg13)"/>
<text x="618" y="227.6" font-size="6.6" textLength="20" lengthAdjust="spacingAndGlyphs">99.9%</text>
<text x="625" y="256" font-size="6.6" textLength="20.6" lengthAdjust="spacingAndGlyphs">0.04%</text>
<circle cx="495.2" cy="232.9" r="0.2" fill="#999"/>
<circle cx="449.3" cy="276.3" r="0.2" fill="#999"/>
<circle cx="478.1" cy="232.1" r="0.2" fill="#999"/>
<circle cx="479" cy="225.5" r="0.2" fill="#999"/>
<circle cx="478.1" cy="277.8" r="0.2" fill="#999"/>
<circle cx="497.2" cy="262.3" r="0.2" fill="#999"/>
<circle cx="462.9" cy="244.2" r="0.2" fill="#999"/>
<circle cx="457.5" cy="266.5" r="0.2" fill="#999"/>
<circle cx="478.4" cy="266.8" r="0.2" fill="#999"/>
<circle cx="466.8" cy="236.3" r="0.2" fill="#999"/>
<circle cx="494.3" cy="278.2" r="0.2" fill="#999"/>
<circle cx="496.6" cy="268.3" r="0.2" fill="#999"/>
<circle cx="494.6" cy="264.7" r="0.2" fill="#999"/>
<circle cx="460.9" cy="252.5" r="0.2" fill="#999"/>
<circle cx="468.3" cy="225.6" r="0.2" fill="#999"/>
<circle cx="449.6" cy="239.4" r="0.2" fill="#999"/>
<circle cx="462.8" cy="262.1" r="0.2" fill="#999"/>
<circle cx="502.5" cy="248.6" r="0.2" fill="#999"/>
<circle cx="501.4" cy="278.3" r="0.2" fill="#999"/>
<circle cx="502.4" cy="244.1" r="0.2" fill="#999"/>
<circle cx="460.6" cy="236.5" r="0.2" fill="#999"/>
<circle cx="459.2" cy="235.2" r="0.2" fill="#999"/>
<circle cx="483.6" cy="273.5" r="0.2" fill="#999"/>
<circle cx="495.9" cy="250.4" r="0.2" fill="#999"/>
<circle cx="485.2" cy="268" r="0.2" fill="#999"/>
<circle cx="521.9" cy="260.3" r="0.2" fill="#999"/>
<circle cx="569.8" cy="267" r="0.2" fill="#999"/>
<circle cx="560.5" cy="250.3" r="0.2" fill="#999"/>
<circle cx="527.4" cy="267.4" r="0.2" fill="#999"/>
<circle cx="536.3" cy="268" r="0.2" fill="#999"/>
<circle cx="573.4" cy="245.8" r="0.2" fill="#999"/>
<circle cx="540.3" cy="276.1" r="0.2" fill="#999"/>
<circle cx="559" cy="233.4" r="0.2" fill="#999"/>
<circle cx="524.4" cy="232.3" r="0.2" fill="#999"/>
<circle cx="569.5" cy="268.4" r="0.2" fill="#999"/>
<circle cx="525.5" cy="269.5" r="0.2" fill="#999"/>
<circle cx="573.9" cy="260.1" r="0.2" fill="#999"/>
<circle cx="537.3" cy="254.2" r="0.2" fill="#999"/>
<circle cx="524.6" cy="224.8" r="0.2" fill="#999"/>
<circle cx="573.3" cy="259.7" r="0.2" fill="#999"/>
<circle cx="547.5" cy="275.3" r="0.2" fill="#999"/>
<circle cx="542.2" cy="271.9" r="0.2" fill="#999"/>
<circle cx="564.9" cy="235.6" r="0.2" fill="#999"/>
<circle cx="531.6" cy="240.1" r="0.2" fill="#999"/>
<circle cx="531" cy="256.3" r="0.2" fill="#999"/>
<circle cx="532" cy="247" r="0.2" fill="#999"/>
<circle cx="524.6" cy="274.1" r="0.2" fill="#999"/>
<circle cx="537.5" cy="249.2" r="0.2" fill="#999"/>
<circle cx="550.8" cy="273.7" r="0.2" fill="#999"/>
<circle cx="541.4" cy="274.5" r="0.2" fill="#999"/>
<circle cx="617.6" cy="253.3" r="0.2" fill="#999"/>
<circle cx="618.8" cy="225" r="0.2" fill="#999"/>
<circle cx="614.1" cy="234.1" r="0.2" fill="#999"/>
<circle cx="589.2" cy="268" r="0.2" fill="#999"/>
<circle cx="598.8" cy="250" r="0.2" fill="#999"/>
<circle cx="630.3" cy="254.6" r="0.2" fill="#999"/>
<circle cx="607.6" cy="252.5" r="0.2" fill="#999"/>
<circle cx="620.7" cy="267.1" r="0.2" fill="#999"/>
<circle cx="595" cy="254.8" r="0.2" fill="#999"/>
<circle cx="603.2" cy="239.2" r="0.2" fill="#999"/>
<circle cx="633" cy="251.9" r="0.2" fill="#999"/>
<circle cx="621" cy="265.8" r="0.2" fill="#999"/>
<circle cx="641" cy="248.4" r="0.2" fill="#999"/>
<circle cx="623.9" cy="251.8" r="0.2" fill="#999"/>
<circle cx="618.2" cy="262.1" r="0.2" fill="#999"/>
<circle cx="614.8" cy="253.3" r="0.2" fill="#999"/>
<circle cx="616.2" cy="275.8" r="0.2" fill="#999"/>
<circle cx="628.9" cy="272.2" r="0.2" fill="#999"/>
<circle cx="642.7" cy="238.3" r="0.2" fill="#999"/>
<circle cx="620.9" cy="275.9" r="0.2" fill="#999"/>
<circle cx="495.7" cy="149" r="0.2" fill="#999"/>
<circle cx="454.1" cy="166.6" r="0.2" fill="#999"/>
<circle cx="451.2" cy="155" r="0.2" fill="#999"/>
<circle cx="451.2" cy="179.8" r="0.2" fill="#999"/>
<circle cx="492.5" cy="193" r="0.2" fill="#999"/>
<circle cx="456" cy="182.5" r="0.2" fill="#999"/>
<circle cx="485.3" cy="149.3" r="0.2" fill="#999"/>
<circle cx="498.2" cy="197.1" r="0.2" fill="#999"/>
<circle cx="459.7" cy="196.2" r="0.2" fill="#999"/>
<circle cx="470.1" cy="169.3" r="0.2" fill="#999"/>
<circle cx="504.4" cy="189.3" r="0.2" fill="#999"/>
<circle cx="456.4" cy="166" r="0.2" fill="#999"/>
<circle cx="476.9" cy="160.7" r="0.2" fill="#999"/>
<circle cx="458.4" cy="159.5" r="0.2" fill="#999"/>
<circle cx="488.9" cy="142.1" r="0.2" fill="#999"/>
<circle cx="479.1" cy="166.5" r="0.2" fill="#999"/>
<circle cx="448" cy="160.2" r="0.2" fill="#999"/>
<circle cx="483.2" cy="170.7" r="0.2" fill="#999"/>
<circle cx="450.7" cy="198.1" r="0.2" fill="#999"/>
<circle cx="492.7" cy="197.4" r="0.2" fill="#999"/>
<circle cx="523.1" cy="156.4" r="0.2" fill="#999"/>
<circle cx="519.3" cy="186.2" r="0.2" fill="#999"/>
<circle cx="532.7" cy="148.5" r="0.2" fill="#999"/>
<circle cx="541.5" cy="193.9" r="0.2" fill="#999"/>
<circle cx="564.5" cy="156" r="0.2" fill="#999"/>
<circle cx="525.7" cy="194.3" r="0.2" fill="#999"/>
<circle cx="550.1" cy="181.6" r="0.2" fill="#999"/>
<circle cx="522.2" cy="144.3" r="0.2" fill="#999"/>
<circle cx="556.9" cy="165.7" r="0.2" fill="#999"/>
<circle cx="521.2" cy="195.4" r="0.2" fill="#999"/>
<circle cx="553.8" cy="187.5" r="0.2" fill="#999"/>
<circle cx="521.9" cy="190.7" r="0.2" fill="#999"/>
<circle cx="520.9" cy="191" r="0.2" fill="#999"/>
<circle cx="543.3" cy="160.7" r="0.2" fill="#999"/>
<circle cx="549.1" cy="194.7" r="0.2" fill="#999"/>
<circle cx="532.5" cy="148.5" r="0.2" fill="#999"/>
<circle cx="547.6" cy="154.8" r="0.2" fill="#999"/>
<circle cx="523.3" cy="150.4" r="0.2" fill="#999"/>
<circle cx="519.9" cy="152.7" r="0.2" fill="#999"/>
<circle cx="535.1" cy="158.7" r="0.2" fill="#999"/>
<circle cx="561.1" cy="157.8" r="0.2" fill="#999"/>
<circle cx="546" cy="151.3" r="0.2" fill="#999"/>
<circle cx="537.1" cy="142.1" r="0.2" fill="#999"/>
<circle cx="531.5" cy="141.9" r="0.2" fill="#999"/>
<circle cx="559.5" cy="173" r="0.2" fill="#999"/>
<circle cx="528" cy="168.5" r="0.2" fill="#999"/>
<circle cx="571.2" cy="147.2" r="0.2" fill="#999"/>
<circle cx="564.5" cy="166.1" r="0.2" fill="#999"/>
<circle cx="545.7" cy="189.4" r="0.2" fill="#999"/>
<circle cx="539.8" cy="170.4" r="0.2" fill="#999"/>
<circle cx="628.2" cy="198" r="0.2" fill="#999"/>
<circle cx="608.5" cy="189.3" r="0.2" fill="#999"/>
<circle cx="629.3" cy="177.9" r="0.2" fill="#999"/>
<circle cx="612.1" cy="161.2" r="0.2" fill="#999"/>
<circle cx="592.1" cy="148.5" r="0.2" fill="#999"/>
<circle cx="593" cy="184" r="0.2" fill="#999"/>
<circle cx="603.6" cy="150.5" r="0.2" fill="#999"/>
<circle cx="593.8" cy="189.8" r="0.2" fill="#999"/>
<circle cx="638.6" cy="179.9" r="0.2" fill="#999"/>
<circle cx="605.1" cy="155" r="0.2" fill="#999"/>
<circle cx="605.7" cy="167.6" r="0.2" fill="#999"/>
<circle cx="598" cy="166.9" r="0.2" fill="#999"/>
<circle cx="604" cy="196.8" r="0.2" fill="#999"/>
<circle cx="644.4" cy="172.7" r="0.2" fill="#999"/>
<circle cx="602.9" cy="197" r="0.2" fill="#999"/>
<circle cx="606.6" cy="161.7" r="0.2" fill="#999"/>
<circle cx="589.1" cy="163.1" r="0.2" fill="#999"/>
<circle cx="616.1" cy="170.2" r="0.2" fill="#999"/>
<circle cx="600.5" cy="170.3" r="0.2" fill="#999"/>
<circle cx="589.3" cy="156.3" r="0.2" fill="#999"/>
<text x="535" y="316" font-size="7.6" text-anchor="middle" textLength="19.5" lengthAdjust="spacingAndGlyphs">Blood</text>
<text x="573.6" y="316" font-size="7.6" text-anchor="middle" textLength="16" lengthAdjust="spacingAndGlyphs">Liver</text>
<text x="518" y="324" font-size="7.6" textLength="34" lengthAdjust="spacingAndGlyphs">(<tspan font-style="italic">t</tspan> = 1 year)</text>
<text x="557" y="324" font-size="7.6" textLength="34" lengthAdjust="spacingAndGlyphs">(<tspan font-style="italic">t</tspan> = 1 year)</text>
<text x="511.4" y="401.9" font-size="7.2" text-anchor="end" textLength="4.2" lengthAdjust="spacingAndGlyphs">0</text>
<line x1="514" y1="399.4" x2="516" y2="399.4" stroke="#777" stroke-width="0.8"/>
<text x="511.4" y="388" font-size="7.2" text-anchor="end" textLength="8.6" lengthAdjust="spacingAndGlyphs">20</text>
<line x1="514" y1="385.5" x2="516" y2="385.5" stroke="#777" stroke-width="0.8"/>
<text x="511.4" y="374.1" font-size="7.2" text-anchor="end" textLength="8.6" lengthAdjust="spacingAndGlyphs">40</text>
<line x1="514" y1="371.6" x2="516" y2="371.6" stroke="#777" stroke-width="0.8"/>
<text x="511.4" y="360.3" font-size="7.2" text-anchor="end" textLength="8.6" lengthAdjust="spacingAndGlyphs">60</text>
<line x1="514" y1="357.8" x2="516" y2="357.8" stroke="#777" stroke-width="0.8"/>
<text x="511.4" y="346.4" font-size="7.2" text-anchor="end" textLength="8.6" lengthAdjust="spacingAndGlyphs">80</text>
<line x1="514" y1="343.9" x2="516" y2="343.9" stroke="#777" stroke-width="0.8"/>
<text x="511.4" y="332.5" font-size="7.2" text-anchor="end" textLength="13" lengthAdjust="spacingAndGlyphs">100</text>
<line x1="514" y1="330" x2="516" y2="330" stroke="#777" stroke-width="0.8"/>
<line x1="516" y1="329" x2="516" y2="399.4" stroke="#888" stroke-width="0.8"/>
<line x1="516" y1="399.4" x2="588" y2="399.4" stroke="#888" stroke-width="0.8"/>
<line x1="552.4" y1="330" x2="552.4" y2="399.4" stroke="#333" stroke-width="0.7" stroke-dasharray="2 1.4"/>
<text x="472.4" y="365" font-size="8.6" text-anchor="middle" textLength="56" lengthAdjust="spacingAndGlyphs" transform="rotate(-90 472.4 365)">Percentage of</text>
<text x="483.2" y="365" font-size="8.6" text-anchor="middle" textLength="84" lengthAdjust="spacingAndGlyphs" transform="rotate(-90 483.2 365)">donor<tspan font-size="5.5" dy="-3">+</tspan><tspan dy="3"> and recipient</tspan><tspan font-size="5.5" dy="-3">+</tspan></text>
<text x="492.8" y="366" font-size="8.6" text-anchor="middle" textLength="78" lengthAdjust="spacingAndGlyphs" transform="rotate(-90 492.8 366)">CD45<tspan font-size="5.5" dy="-3">+</tspan><tspan dy="3"> lymphocytes</tspan></text>
<circle cx="524.5" cy="399.4" r="1.6" fill="#a6d49f" stroke="#3a3a3a" stroke-width="0.6"/>
<circle cx="527" cy="399.4" r="1.6" fill="#a6d49f" stroke="#3a3a3a" stroke-width="0.6"/>
<circle cx="529.5" cy="399.4" r="1.6" fill="#a6d49f" stroke="#3a3a3a" stroke-width="0.6"/>
<circle cx="532" cy="399.4" r="1.6" fill="#a6d49f" stroke="#3a3a3a" stroke-width="0.6"/>
<circle cx="534.5" cy="399.4" r="1.6" fill="#a6d49f" stroke="#3a3a3a" stroke-width="0.6"/>
<line x1="524" y1="399.4" x2="535" y2="399.4" stroke="#111" stroke-width="1.3"/>
<circle cx="540" cy="330" r="1.6" fill="#0e6b6b" stroke="#1f2f2f" stroke-width="0.5"/>
<circle cx="542.2" cy="330" r="1.6" fill="#0e6b6b" stroke="#1f2f2f" stroke-width="0.5"/>
<circle cx="544.4" cy="330" r="1.6" fill="#0e6b6b" stroke="#1f2f2f" stroke-width="0.5"/>
<circle cx="546.6" cy="330" r="1.6" fill="#0e6b6b" stroke="#1f2f2f" stroke-width="0.5"/>
<circle cx="548.8" cy="330" r="1.6" fill="#0e6b6b" stroke="#1f2f2f" stroke-width="0.5"/>
<line x1="538.9" y1="330" x2="549.9" y2="330" stroke="#111" stroke-width="1.3"/>
<circle cx="556.8" cy="397.2" r="1.6" fill="#a6d49f" stroke="#3a3a3a" stroke-width="0.6"/>
<circle cx="558.5" cy="399.4" r="1.6" fill="#a6d49f" stroke="#3a3a3a" stroke-width="0.6"/>
<circle cx="561" cy="399.4" r="1.6" fill="#a6d49f" stroke="#3a3a3a" stroke-width="0.6"/>
<circle cx="563.5" cy="399.4" r="1.6" fill="#a6d49f" stroke="#3a3a3a" stroke-width="0.6"/>
<circle cx="566" cy="399.4" r="1.6" fill="#a6d49f" stroke="#3a3a3a" stroke-width="0.6"/>
<line x1="556.5" y1="399.4" x2="565.5" y2="399.4" stroke="#111" stroke-width="1.3"/>
<circle cx="575" cy="333.2" r="1.6" fill="#0e6b6b" stroke="#1f2f2f" stroke-width="0.5"/>
<circle cx="571.5" cy="330" r="1.6" fill="#0e6b6b" stroke="#1f2f2f" stroke-width="0.5"/>
<circle cx="574" cy="330" r="1.6" fill="#0e6b6b" stroke="#1f2f2f" stroke-width="0.5"/>
<circle cx="576.5" cy="330" r="1.6" fill="#0e6b6b" stroke="#1f2f2f" stroke-width="0.5"/>
<circle cx="579" cy="330" r="1.6" fill="#0e6b6b" stroke="#1f2f2f" stroke-width="0.5"/>
<circle cx="581.5" cy="330" r="1.6" fill="#0e6b6b" stroke="#1f2f2f" stroke-width="0.5"/>
<line x1="571" y1="330" x2="582" y2="330" stroke="#111" stroke-width="1.3"/>
<circle cx="601" cy="333" r="1.5" fill="#a6d49f" stroke="#3a3a3a" stroke-width="0.6"/>
<circle cx="601" cy="344" r="1.5" fill="#0e6b6b" stroke="#1f2f2f" stroke-width="0.5"/>
<text x="607" y="336.2" font-size="8.6" textLength="24.2" lengthAdjust="spacingAndGlyphs">Donor</text>
<text x="607" y="347.2" font-size="8.6" textLength="38" lengthAdjust="spacingAndGlyphs">Recipient</text>
<line x1="41" y1="268" x2="41" y2="461" stroke="#c8c8c8" stroke-width="1.2"/>
<line x1="41" y1="461" x2="123" y2="461" stroke="#c8c8c8" stroke-width="1.2"/>
<line x1="50.6" y1="461" x2="50.6" y2="463.2" stroke="#999" stroke-width="0.7"/>
<line x1="117.2" y1="461" x2="117.2" y2="463.2" stroke="#999" stroke-width="0.7"/>
<text x="33.8" y="455.2" font-size="7.6" text-anchor="end" textLength="4.2" lengthAdjust="spacingAndGlyphs">0</text>
<line x1="38.6" y1="452.6" x2="41" y2="452.6" stroke="#999" stroke-width="0.7"/>
<text x="35.2" y="390.6" font-size="7.6" text-anchor="end" textLength="24.5" lengthAdjust="spacingAndGlyphs">10,000</text>
<line x1="38.6" y1="388" x2="41" y2="388" stroke="#999" stroke-width="0.7"/>
<text x="35.2" y="326" font-size="7.6" text-anchor="end" textLength="25" lengthAdjust="spacingAndGlyphs">20,000</text>
<line x1="38.6" y1="323.4" x2="41" y2="323.4" stroke="#999" stroke-width="0.7"/>
<text x="24.2" y="354" font-size="8.6" text-anchor="middle" textLength="40" lengthAdjust="spacingAndGlyphs" transform="rotate(-90 24.2 354)">Cell count</text>
<text x="52" y="473.2" font-size="7.6" text-anchor="middle" textLength="40" lengthAdjust="spacingAndGlyphs">Sample and</text>
<text x="52" y="481.8" font-size="7.6" text-anchor="middle" textLength="32" lengthAdjust="spacingAndGlyphs">timepoint</text>
<text x="116.5" y="473.2" font-size="7.6" text-anchor="middle" textLength="26" lengthAdjust="spacingAndGlyphs">Cellular</text>
<text x="117" y="481.8" font-size="7.6" text-anchor="middle" textLength="26" lengthAdjust="spacingAndGlyphs">identity</text>
<path d="M53 279.2 C83.9 279.2 83.9 307.6 114.8 307.6 L114.8 312.4 C83.9 312.4 83.9 284 53 284 Z" fill="#a5cba1" fill-opacity="0.5"/>
<path d="M53 312.4 C83.9 312.4 83.9 312.4 114.8 312.4 L114.8 314.3 C83.9 314.3 83.9 314.3 53 314.3 Z" fill="#a5cba1" fill-opacity="0.5"/>
<path d="M53 277.3 C83.9 277.3 83.9 277.3 114.8 277.3 L114.8 279.2 C83.9 279.2 83.9 279.2 53 279.2 Z" fill="#037373" fill-opacity="0.5"/>
<path d="M53 284 C83.9 284 83.9 279.2 114.8 279.2 L114.8 307.6 C83.9 307.6 83.9 312.4 53 312.4 Z" fill="#037373" fill-opacity="0.5"/>
<path d="M53 314.3 C83.9 314.3 83.9 314.3 114.8 314.3 L114.8 318.5 C83.9 318.5 83.9 318.5 53 318.5 Z" fill="#037373" fill-opacity="0.5"/>
<path d="M53 336.3 C83.9 336.3 83.9 318.5 114.8 318.5 L114.8 334.9 C83.9 334.9 83.9 352.7 53 352.7 Z" fill="#037373" fill-opacity="0.5"/>
<path d="M53 318.5 C83.9 318.5 83.9 334.9 114.8 334.9 L114.8 352.7 C83.9 352.7 83.9 336.3 53 336.3 Z" fill="#a5cba1" fill-opacity="0.5"/>
<path d="M53 359.9 C83.9 359.9 83.9 391.8 114.8 391.8 L114.8 398.5 C83.9 398.5 83.9 366.6 53 366.6 Z" fill="#a5cba1" fill-opacity="0.5"/>
<path d="M53 352.7 C83.9 352.7 83.9 352.7 114.8 352.7 L114.8 359.9 C83.9 359.9 83.9 359.9 53 359.9 Z" fill="#037373" fill-opacity="0.5"/>
<path d="M53 366.6 C83.9 366.6 83.9 359.9 114.8 359.9 L114.8 391.8 C83.9 391.8 83.9 398.5 53 398.5 Z" fill="#037373" fill-opacity="0.5"/>
<path d="M53 398.5 C83.9 398.5 83.9 398.5 114.8 398.5 L114.8 406.6 C83.9 406.6 83.9 406.6 53 406.6 Z" fill="#037373" fill-opacity="0.5"/>
<path d="M53 424.4 C83.9 424.4 83.9 406.6 114.8 406.6 L114.8 434.8 C83.9 434.8 83.9 452.6 53 452.6 Z" fill="#037373" fill-opacity="0.5"/>
<path d="M53 406.6 C83.9 406.6 83.9 434.8 114.8 434.8 L114.8 452.6 C83.9 452.6 83.9 424.4 53 424.4 Z" fill="#a5cba1" fill-opacity="0.5"/>
<rect x="48.4" y="277.3" width="4.8" height="6.7" fill="#000" stroke="#777" stroke-width="0.3"/>
<rect x="48.4" y="284" width="4.8" height="30.3" fill="#000" stroke="#777" stroke-width="0.3"/>
<rect x="48.4" y="314.3" width="4.8" height="22" fill="#000" stroke="#777" stroke-width="0.3"/>
<rect x="48.4" y="336.3" width="4.8" height="16.4" fill="#000" stroke="#777" stroke-width="0.3"/>
<rect x="48.4" y="352.7" width="4.8" height="13.9" fill="#000" stroke="#777" stroke-width="0.3"/>
<rect x="48.4" y="366.6" width="4.8" height="31.9" fill="#000" stroke="#777" stroke-width="0.3"/>
<rect x="48.4" y="398.5" width="4.8" height="25.9" fill="#000" stroke="#777" stroke-width="0.3"/>
<rect x="48.4" y="424.4" width="4.8" height="28.2" fill="#000" stroke="#777" stroke-width="0.3"/>
<rect x="114.8" y="277.3" width="4.8" height="30.3" fill="#000" stroke="#777" stroke-width="0.3"/>
<rect x="114.8" y="307.6" width="4.8" height="6.7" fill="#000" stroke="#777" stroke-width="0.3"/>
<rect x="114.8" y="314.3" width="4.8" height="20.6" fill="#000" stroke="#777" stroke-width="0.3"/>
<rect x="114.8" y="334.9" width="4.8" height="17.8" fill="#000" stroke="#777" stroke-width="0.3"/>
<rect x="114.8" y="352.7" width="4.8" height="39.1" fill="#000" stroke="#777" stroke-width="0.3"/>
<rect x="114.8" y="391.8" width="4.8" height="6.7" fill="#000" stroke="#777" stroke-width="0.3"/>
<rect x="114.8" y="398.5" width="4.8" height="36.3" fill="#000" stroke="#777" stroke-width="0.3"/>
<rect x="114.8" y="434.8" width="4.8" height="17.8" fill="#000" stroke="#777" stroke-width="0.3"/>
<rect x="42.2" y="273.2" width="21" height="9.8" fill="#fff" stroke="#8a8a8a" stroke-width="0.5" rx="0.8"/>
<text x="52.7" y="277.4" font-size="3.4" text-anchor="middle" fill="#333">Sample 1</text>
<text x="52.7" y="281.2" font-size="3.4" text-anchor="middle" fill="#333">6 h</text>
<rect x="42.2" y="296.2" width="21" height="9.8" fill="#fff" stroke="#8a8a8a" stroke-width="0.5" rx="0.8"/>
<text x="52.7" y="300.4" font-size="3.4" text-anchor="middle" fill="#333">Sample 1</text>
<text x="52.7" y="304.2" font-size="3.4" text-anchor="middle" fill="#333">1 year</text>
<rect x="42.2" y="322.2" width="21" height="9.8" fill="#fff" stroke="#8a8a8a" stroke-width="0.5" rx="0.8"/>
<text x="52.7" y="326.4" font-size="3.4" text-anchor="middle" fill="#333">Sample 2</text>
<text x="52.7" y="330.2" font-size="3.4" text-anchor="middle" fill="#333">6 h</text>
<rect x="42.2" y="340.6" width="21" height="9.8" fill="#fff" stroke="#8a8a8a" stroke-width="0.5" rx="0.8"/>
<text x="52.7" y="344.8" font-size="3.4" text-anchor="middle" fill="#333">Sample 2</text>
<text x="52.7" y="348.6" font-size="3.4" text-anchor="middle" fill="#333">1 year</text>
<rect x="42.2" y="354.7" width="21" height="9.8" fill="#fff" stroke="#8a8a8a" stroke-width="0.5" rx="0.8"/>
<text x="52.7" y="358.9" font-size="3.4" text-anchor="middle" fill="#333">Sample 3</text>
<text x="52.7" y="362.8" font-size="3.4" text-anchor="middle" fill="#333">6 h</text>
<rect x="42.2" y="377.4" width="21" height="9.8" fill="#fff" stroke="#8a8a8a" stroke-width="0.5" rx="0.8"/>
<text x="52.7" y="381.6" font-size="3.4" text-anchor="middle" fill="#333">Sample 3</text>
<text x="52.7" y="385.4" font-size="3.4" text-anchor="middle" fill="#333">1 year</text>
<rect x="42.2" y="406.6" width="21" height="9.8" fill="#fff" stroke="#8a8a8a" stroke-width="0.5" rx="0.8"/>
<text x="52.7" y="410.8" font-size="3.4" text-anchor="middle" fill="#333">Sample 4</text>
<text x="52.7" y="414.6" font-size="3.4" text-anchor="middle" fill="#333">6 h</text>
<rect x="42.2" y="432.1" width="21" height="9.8" fill="#fff" stroke="#8a8a8a" stroke-width="0.5" rx="0.8"/>
<text x="52.7" y="436.2" font-size="3.4" text-anchor="middle" fill="#333">Sample 4</text>
<text x="52.7" y="440.1" font-size="3.4" text-anchor="middle" fill="#333">1 year</text>
<rect x="107.2" y="290.4" width="19" height="6" fill="#fff" stroke="#8a8a8a" stroke-width="0.5" rx="0.8"/>
<text x="116.7" y="294.6" font-size="3.4" text-anchor="middle" fill="#333">Recipient</text>
<rect x="107.2" y="307.9" width="19" height="6" fill="#fff" stroke="#8a8a8a" stroke-width="0.5" rx="0.8"/>
<text x="116.7" y="312.1" font-size="3.4" text-anchor="middle" fill="#333">Donor</text>
<rect x="107.2" y="321.5" width="19" height="6" fill="#fff" stroke="#8a8a8a" stroke-width="0.5" rx="0.8"/>
<text x="116.7" y="325.7" font-size="3.4" text-anchor="middle" fill="#333">Recipient</text>
<rect x="107.2" y="340" width="19" height="6" fill="#fff" stroke="#8a8a8a" stroke-width="0.5" rx="0.8"/>
<text x="116.7" y="344.2" font-size="3.4" text-anchor="middle" fill="#333">Donor</text>
<rect x="107.2" y="368.5" width="19" height="6" fill="#fff" stroke="#8a8a8a" stroke-width="0.5" rx="0.8"/>
<text x="116.7" y="372.7" font-size="3.4" text-anchor="middle" fill="#333">Recipient</text>
<rect x="107.2" y="391.5" width="19" height="6" fill="#fff" stroke="#8a8a8a" stroke-width="0.5" rx="0.8"/>
<text x="116.7" y="395.7" font-size="3.4" text-anchor="middle" fill="#333">Donor</text>
<rect x="107.2" y="413.1" width="19" height="6" fill="#fff" stroke="#8a8a8a" stroke-width="0.5" rx="0.8"/>
<text x="116.7" y="417.3" font-size="3.4" text-anchor="middle" fill="#333">Recipient</text>
<rect x="107.2" y="440.8" width="19" height="6" fill="#fff" stroke="#8a8a8a" stroke-width="0.5" rx="0.8"/>
<text x="116.7" y="445" font-size="3.4" text-anchor="middle" fill="#333">Donor</text>
<rect x="185" y="288" width="100.4" height="77" fill="none" stroke="#777" stroke-width="0.9"/>
<path d="M202.6 302.1 C202.8 300.5 203.3 299.3 204.4 298.4 C205.4 297.6 207 297.2 208.8 296.9 C210.7 296.6 213.5 296.4 215.5 296.6 C217.5 296.9 219.4 297.6 220.7 298.4 C222.1 299.3 222.8 300.3 223.4 301.7 C224 303.1 224.5 305.2 224.5 306.6 C224.4 308.1 224 309.3 223 310.3 C222 311.3 220.4 312.2 218.5 312.6 C216.6 312.9 214 312.7 211.8 312.6 C209.6 312.4 206.6 312.6 205.1 311.8 C203.6 311.1 203.3 309.7 202.9 308.1 C202.4 306.5 202.3 303.8 202.6 302.1 Z" fill="#e2e2e2"/>
<path d="M205.7 297.7h0M203.1 299.5h0M219.1 297.4h0M220.7 311.6h0M210.5 312.4h0M212.7 312.3h0M223.2 300.9h0M202.1 303.1h0M212.2 312.5h0M204 299.8h0M203.3 308.8h0M211.6 312.3h0M208.7 296.8h0M223.7 307.9h0M207.1 311.8h0M220.6 311.2h0M214.8 312.5h0M214.4 296h0M208.3 296.8h0M206.8 297.9h0M222.2 310.7h0M218.3 312.5h0M224.9 307.4h0M207.6 311.9h0M224 308h0M216.2 313.2h0M211.3 313h0M204.8 297.8h0M211.8 313.1h0M211.2 312.1h0M224.4 307.5h0M224.4 306.5h0M209.5 312.3h0M217.3 313.2h0M209.3 296.5h0M210.9 312.9h0M222 311.7h0M203.8 298.5h0M215.4 312.5h0M215.2 313h0M223.8 308.8h0M224.9 305.6h0M202.8 309h0M203 303.5h0M202.9 301.1h0M206.2 311.5h0M224.5 304.6h0M213.2 297.1h0M213.3 296.7h0M208.9 296.8h0M202.1 305.2h0M206.1 312.1h0M203.6 309.1h0M214.6 297h0M225 307.2h0M202.5 301.9h0M224.4 304.7h0M208.8 296.6h0M219.6 298.3h0M202.8 302.1h0" stroke="#e2e2e2" stroke-width="1" stroke-linecap="round"/>
<path d="M199.9 312.6 C201 311.3 202.5 310.7 204.4 310.3 C206.2 310 208.9 310.1 211.1 310.3 C213.2 310.6 215.4 311 217 311.8 C218.6 312.7 220 314.1 220.7 315.5 C221.5 317 221.7 319.1 221.5 320.8 C221.2 322.4 220.6 324.2 219.2 325.2 C217.9 326.3 215.5 326.9 213.3 327 C211.1 327.1 208.1 326.6 205.8 326 C203.6 325.3 201.3 324.4 199.9 323 C198.5 321.6 197.7 319.5 197.7 317.8 C197.7 316 198.8 313.8 199.9 312.6 Z" fill="#e2e2e2"/>
<path d="M199 322.4h0M198.1 317h0M197.6 318.6h0M221.2 316.6h0M199.8 312.6h0M221 315.9h0M217.6 311.4h0M206 310.6h0M217.3 312.6h0M215.6 311h0M219.8 325.4h0M220.5 316.8h0M198.6 319.4h0M211.9 326.5h0M198.3 316.1h0M206 326.7h0M205.2 325.9h0M204.2 325.1h0M218.1 311.9h0M197.5 316.7h0M220.7 323h0M218 313h0M198.9 313.8h0M210.1 327h0M216.5 326.3h0M210.3 309.8h0M212.8 311.1h0M220.1 324.5h0M198.2 318h0M221.6 321.8h0M212 309.9h0M220.6 314.5h0M214.9 310.8h0M215.6 326h0M204.2 325.4h0M221.4 319.3h0M221.3 316.9h0M203.3 310.4h0M198.5 314.3h0M219.5 324.7h0M198.5 321h0M216.9 311.3h0M221.4 318.4h0M199 315.4h0M198 320.5h0M201.8 311.7h0M197.9 318.9h0M214.8 327.3h0M220.7 318h0M200 322.8h0M198.8 314.1h0M206.5 309.8h0M218.6 325.3h0M198.5 316.1h0M210.8 326.5h0M220.9 322.1h0M202.3 311.6h0M214.3 311.5h0M210.8 327.1h0M207.7 309.9h0" stroke="#e2e2e2" stroke-width="1" stroke-linecap="round"/>
<path d="M218.5 317 C219.1 315.6 220.2 315.2 221.5 314.5 C222.7 313.8 224.5 313.4 225.9 313 C227.4 312.6 228.9 312.1 230.4 312.1 C231.9 312.2 233.6 312.7 234.9 313.3 C236.1 313.9 236.7 314.9 237.9 315.8 C239 316.8 240.7 318 241.6 319.3 C242.4 320.6 243.3 322.4 243.1 323.7 C242.8 325 241.6 326.4 240.1 327 C238.6 327.6 236.1 327.6 234.1 327.5 C232.2 327.4 230 326.4 228.2 326.4 C226.3 326.4 224.4 327.6 223 327.6 C221.5 327.6 220.4 327.2 219.5 326.4 C218.7 325.6 218.2 324.6 218.1 323 C217.9 321.4 217.9 318.4 218.5 317 Z" fill="#e2e2e2"/>
<path d="M233.7 327.3h0M224.6 312.8h0M240.8 326.3h0M241.2 318.3h0M236 328.1h0M236.7 314.6h0M218.3 319.8h0M218.6 324.7h0M232.9 312.3h0M218.4 319.7h0M237.4 314.5h0M241.9 325h0M242.4 320.3h0M231.7 326.7h0M232.5 311.9h0M238.6 316.2h0M230.5 327.3h0M223.1 327.4h0M242 325.7h0M218 319h0M221.5 327.6h0M231.9 312.7h0M236 314.8h0M242.4 325.2h0M232.1 312.3h0M231.8 326.7h0M227 312.5h0M231.3 312.8h0M226.6 312.2h0M221.5 314.2h0M218.7 323.6h0M227.2 326.2h0M217.8 321.6h0M229.7 312.6h0M226.6 327.5h0M231.7 327.3h0M240.4 317.8h0M228.4 311.8h0M235.7 313.6h0M217.7 319.9h0M217.8 319.4h0M239.2 317.4h0M221.5 327.3h0M220.9 314.8h0M239.9 318.2h0M230 311.9h0M217.8 324.1h0M241.6 319.9h0M225.3 327.8h0M219.8 315h0M217.7 322.3h0M226.3 326.5h0M238.8 316.1h0M218.3 319.8h0M234.5 313.3h0M237.7 315.1h0M218.8 317h0M218.1 322.6h0M217.5 320.8h0M232.8 312.6h0" stroke="#e2e2e2" stroke-width="1" stroke-linecap="round"/>
<path d="M240.1 321.1 C241 319.8 242.3 319.8 243.8 319.6 C245.3 319.3 247.2 319.6 249 319.6 C250.9 319.5 252.9 319.3 255 319.3 C257.1 319.3 260.8 319.2 261.7 319.6 C262.6 319.9 261.2 320.7 260.2 321.5 C259.2 322.3 256.7 323.2 255.7 324.5 C254.7 325.7 254.7 327.7 254.2 328.9 C253.7 330.2 253.9 331.3 252.7 331.9 C251.6 332.5 249.3 332.5 247.5 332.7 C245.8 332.8 243.8 332.9 242.3 332.7 C240.9 332.4 239.6 332.1 238.9 331.2 C238.2 330.2 238.1 328.7 238.3 327 C238.5 325.3 239.2 322.3 240.1 321.1 Z" fill="#e2e2e2"/>
<path d="M239.7 323.8h0M260.7 321.6h0M258.2 323h0M238.3 325.2h0M240.7 331.8h0M239.5 331.3h0M252.7 332.3h0M259.7 319.2h0M241.5 333h0M252.1 319.6h0M255.3 318.6h0M242 320.2h0M260.1 319.9h0M238.9 328h0M256.3 318.7h0M245.8 319.4h0M246.3 332.9h0M254.4 319h0M251.8 332h0M243.9 332.4h0M249.2 333h0M238.4 330.7h0M254.1 329.9h0M244.5 333.2h0M255.3 318.8h0M249.4 319.9h0M253.8 330.6h0M259.6 321.3h0M255.6 326.5h0M240.3 331.8h0M239.3 321.4h0M255.7 324.2h0M239.2 330.7h0M242.3 319.8h0M247.2 319h0M239.6 322.7h0M238.6 325.1h0M238.4 329.2h0M256 319.5h0M238.5 324.1h0M253 331.4h0M253.4 319h0M248.6 319.1h0M255.7 319.3h0M249.9 332.8h0M240.6 320.5h0M248.3 333.1h0M259.3 319h0M241 332.2h0M243.5 319h0M260 321.8h0M250.7 332.9h0M250 319.6h0M259.4 322.5h0M259 319.8h0M259.3 319.4h0M261.6 320h0M239.1 329.2h0M261.6 320.5h0M245.1 333.2h0" stroke="#e2e2e2" stroke-width="1" stroke-linecap="round"/>
<path d="M239.3 332.7 C240 331.8 242.7 331.7 244.6 331.5 C246.4 331.3 248.9 331.3 250.5 331.5 C252.1 331.7 253.7 331.9 254.2 332.7 C254.7 333.5 254.2 335.3 253.5 336.4 C252.7 337.5 251.3 338.9 249.8 339.4 C248.3 339.9 246 339.8 244.6 339.4 C243.1 338.9 241.7 338 240.8 336.8 C240 335.7 238.7 333.6 239.3 332.7 Z" fill="#e2e2e2"/>
<path d="M239.6 332.9h0M253.8 333.5h0M253.9 332.8h0M254.3 335h0M239.9 332.5h0M249.3 339h0M242.6 331.9h0M253.2 332.2h0M244.7 331.1h0M252.7 336.6h0M243.3 331.6h0M243.5 338.2h0M246.7 330.9h0M240.5 334.6h0M254.3 335.8h0M240 335.4h0M240.6 336.1h0M242.4 338.5h0M243.6 339.3h0M254 332.7h0M242.2 338.4h0M247.5 331.2h0M253.2 337h0M243.8 331.2h0M246.1 339h0M240.9 332.2h0M244.8 340.1h0M241.9 338.3h0M250.6 338.8h0M250 339.7h0M254.1 333.4h0M254 333.6h0M254.1 334.4h0M240.2 332.5h0M254 336h0M244.6 339.2h0M254.3 334.9h0M254.3 335.5h0M244 331.4h0M242.7 331.7h0M253.7 337.1h0M249.4 340h0M245.7 339.2h0M253.6 337.2h0M253.6 336.7h0M239.4 334.6h0M241.9 337h0M245.8 339.1h0M246.6 331.9h0M253.2 336h0M239.9 335.9h0M244 338.6h0M241.7 331.8h0M244.9 339.9h0M240.3 336.5h0M242.6 338.8h0M253.2 336.1h0M247.1 331h0M253.6 336.8h0M240.6 331.8h0" stroke="#e2e2e2" stroke-width="1" stroke-linecap="round"/>
<path d="M202.6 302.1 C202.8 300.5 203.3 299.3 204.4 298.4 C205.4 297.6 207 297.2 208.8 296.9 C210.7 296.6 213.5 296.4 215.5 296.6 C217.5 296.9 219.4 297.6 220.7 298.4 C222.1 299.3 222.8 300.3 223.4 301.7 C224 303.1 224.5 305.2 224.5 306.6 C224.4 308.1 224 309.3 223 310.3 C222 311.3 220.4 312.2 218.5 312.6 C216.6 312.9 214 312.7 211.8 312.6 C209.6 312.4 206.6 312.6 205.1 311.8 C203.6 311.1 203.3 309.7 202.9 308.1 C202.4 306.5 202.3 303.8 202.6 302.1 Z" fill="#d55e00"/>
<path d="M210.2 297.2h0M215 312.2h0M210.6 297h0M207.3 297.3h0M217.7 312.9h0M203.9 309.9h0M220.8 311.1h0M206.8 298.1h0M218.1 312.8h0M207.5 312.5h0M202.5 302.7h0M221.7 299.8h0M224.5 304.1h0M210.9 313.2h0M206.1 312.4h0M217.5 312.1h0M220.6 311.5h0M219.7 297.3h0M203 300h0M219 312.6h0M223.4 308.4h0M208.2 296.6h0M216.6 313.3h0M202.4 301.9h0M206.7 297.3h0M214.1 296.6h0M220.7 312h0M218.5 312.7h0M208.6 297.4h0M215.3 296.1h0M206.2 297.8h0M204.1 309.9h0M223.8 301.7h0M202.9 301.5h0M222.1 311.1h0M217.1 312.8h0M202.9 306.1h0M215.5 297h0M203.7 299.6h0M223.9 301.9h0M204.3 298.9h0M202.8 301.4h0M202.2 305.9h0M212.6 296.7h0M223.8 308.1h0M206.5 312.5h0M219.4 297.6h0M204.2 299.5h0M208.5 312.1h0M203 301.9h0M210.8 312.6h0M211 312.7h0M214.2 296.1h0M214.6 296h0M220.7 298.6h0M214 312.3h0M212.9 313h0M222.5 310.8h0M208.1 312.3h0M216.6 297h0" stroke="#d55e00" stroke-width="1" stroke-linecap="round"/>
<path d="M199.9 312.6 C201 311.3 202.5 310.7 204.4 310.3 C206.2 310 208.9 310.1 211.1 310.3 C213.2 310.6 215.4 311 217 311.8 C218.6 312.7 220 314.1 220.7 315.5 C221.5 317 221.7 319.1 221.5 320.8 C221.2 322.4 220.6 324.2 219.2 325.2 C217.9 326.3 215.5 326.9 213.3 327 C211.1 327.1 208.1 326.6 205.8 326 C203.6 325.3 201.3 324.4 199.9 323 C198.5 321.6 197.7 319.5 197.7 317.8 C197.7 316 198.8 313.8 199.9 312.6 Z" fill="#d55e00"/>
<path d="M198.5 314.5h0M197.8 320h0M216.3 311.2h0M204.8 325h0M204.4 325.6h0M198.2 319.9h0M214.7 311.6h0M211.8 326.7h0M209.7 326.1h0M220.3 322.6h0M207.6 325.9h0M221.3 320.8h0M215.7 326.7h0M213.1 310.8h0M204.4 310.7h0M208.8 309.6h0M206.3 310.7h0M220.7 314.7h0M201.3 311.1h0M207.8 326.2h0M207.6 326.1h0M203.7 310.6h0M220.6 316.1h0M200.4 322.9h0M203.9 310.9h0M198 317.8h0M206.3 309.8h0M206.7 309.6h0M199.5 321.6h0M211.6 326.5h0M211.7 327.2h0M205.9 309.7h0M203.6 325.4h0M219.3 313.7h0M200.9 311.6h0M217.3 312.3h0M221.2 316.3h0M198.8 314.7h0M199.2 321.5h0M201.6 311.4h0M221.3 320.7h0M220.3 315.2h0M217.8 326.2h0M198.4 321.1h0M200 323.6h0M199.7 312.1h0M203.8 324.5h0M200.1 312.3h0M219.7 323.9h0M211.4 310.3h0M220.2 315.4h0M216.1 312h0M217.8 311.9h0M207.4 326.3h0M206.5 310.3h0M204.6 310.5h0M207.6 326h0M212 327.1h0M221.4 318.5h0M197.6 319.4h0" stroke="#d55e00" stroke-width="1" stroke-linecap="round"/>
<path d="M219.1 318.7h0M203.2 318h0M215.6 321.1h0M206 315.8h0M216.1 320h0M218.7 314.3h0M203.6 315.8h0M210.1 313h0M205.5 313.5h0M215.1 317.6h0M214.2 318.7h0M212.7 318.1h0M219.3 317.5h0M207.7 314.1h0M212.9 317.9h0M205.1 320.8h0M212.7 314.5h0M207.7 317.9h0M212.5 317.2h0M216.2 316.8h0M209.9 321h0M217.4 319h0M204.2 317h0M206 314.8h0M207 313.9h0M216.9 320.9h0M208.8 319.7h0M206.1 321h0M208.8 315.2h0M217.5 316.3h0M217.9 314.8h0M206.6 314.6h0M207.8 313.4h0M204.4 314.4h0M204.8 318.3h0M207.9 321h0M213.4 316.4h0M213.3 314.5h0M205.9 312.9h0M210.9 314.7h0M203.2 312.7h0M208.8 312.7h0M209.4 318.6h0M208.8 319.7h0M206.6 317.3h0M212.8 320.9h0M209.8 318.4h0M214.8 320.8h0M206.4 318.2h0M207.7 319.6h0M217.4 315.2h0M217.4 317.1h0M209.7 314.9h0M205.5 315.6h0M204.8 320.1h0M218.8 319.4h0M219.6 320.5h0M219.3 320.5h0M212.3 320.8h0M214.2 320.3h0M213.9 313.9h0M213.5 318h0M213.3 316.5h0M211 314.6h0M204.9 317.4h0M205.2 317.5h0M217 319.9h0M219.5 317.8h0M213 313.9h0M214.8 314.4h0M215.1 313.5h0M206.4 319.9h0M206.3 321.1h0M212.7 317.3h0M211.2 315.2h0M205.6 320.4h0M212 315.5h0M216.9 315.1h0M207.7 320.1h0M211.3 314.9h0M208.7 313.8h0M216.5 318h0M216.1 314.2h0M218.7 319h0M209 320.2h0M206.3 319.7h0M207.2 319h0M216.4 312.9h0M211.9 316.1h0M218.3 318.4h0M211.2 314.7h0M216.2 317.4h0M211.9 317h0M203.8 319.7h0M213.6 316.9h0M208.3 313h0M203.8 316.2h0M213.8 315.3h0M209.1 313.1h0M203.3 312.7h0M214.7 313.6h0M217.7 320.8h0M208.4 316h0M217.3 318.3h0M212.6 312.7h0M214.7 319.6h0M204 317.2h0M217.7 315.9h0M213.6 313.9h0M209 315.1h0M203.8 313.7h0M215 315.2h0M216.9 316h0M217.5 319.1h0M211.3 312.6h0M214.6 313.6h0M212.2 318.6h0M204.2 313.8h0M217 320.1h0M215.1 317.1h0" stroke="#e8e8e8" stroke-width="1.2" stroke-linecap="round"/>
<path d="M218.5 317 C219.1 315.6 220.2 315.2 221.5 314.5 C222.7 313.8 224.5 313.4 225.9 313 C227.4 312.6 228.9 312.1 230.4 312.1 C231.9 312.2 233.6 312.7 234.9 313.3 C236.1 313.9 236.7 314.9 237.9 315.8 C239 316.8 240.7 318 241.6 319.3 C242.4 320.6 243.3 322.4 243.1 323.7 C242.8 325 241.6 326.4 240.1 327 C238.6 327.6 236.1 327.6 234.1 327.5 C232.2 327.4 230 326.4 228.2 326.4 C226.3 326.4 224.4 327.6 223 327.6 C221.5 327.6 220.4 327.2 219.5 326.4 C218.7 325.6 218.2 324.6 218.1 323 C217.9 321.4 217.9 318.4 218.5 317 Z" fill="#0f9e74"/>
<path d="M228.2 327.1h0M222.2 327.7h0M220.4 326.4h0M242.7 325.2h0M217.9 323.1h0M218.7 325.5h0M229.7 312.5h0M240.3 317.3h0M240.1 317.9h0M218.7 316.7h0M242.6 322h0M225.4 313.3h0M222 327h0M237.5 315.7h0M240.5 318.5h0M221.7 314.7h0M218.1 320.1h0M241.3 325.8h0M240.7 327.4h0M217.9 319.2h0M229.3 311.7h0M233.7 313.2h0M219.6 315.3h0M229.4 327.2h0M219.4 316.2h0M237.6 327.3h0M229.2 327.2h0M219.2 325.4h0M220.4 314.6h0M242.2 324.9h0M235.9 313.4h0M242.2 319.3h0M236.6 327h0M227.1 312.7h0M226.5 327.4h0M221.4 326.7h0M241.1 318.5h0M220.4 326.8h0M241 319.3h0M224.5 327.6h0M233.2 312.5h0M241.9 321.5h0M222.8 327.2h0M222.1 327h0M221.1 314.6h0M218.7 319.9h0M233.8 312.8h0M233.8 327.7h0M241 327.1h0M242.4 321.2h0M219.2 315.7h0M218.5 319.1h0M218.2 321.2h0M222.5 327.1h0M218.1 324.8h0M233.2 327.7h0M230.8 327.3h0M239.9 326.7h0M234.7 327.9h0M241.1 326.2h0" stroke="#0f9e74" stroke-width="1" stroke-linecap="round"/>
<path d="M240.1 321.1 C241 319.8 242.3 319.8 243.8 319.6 C245.3 319.3 247.2 319.6 249 319.6 C250.9 319.5 252.9 319.3 255 319.3 C257.1 319.3 260.8 319.2 261.7 319.6 C262.6 319.9 261.2 320.7 260.2 321.5 C259.2 322.3 256.7 323.2 255.7 324.5 C254.7 325.7 254.7 327.7 254.2 328.9 C253.7 330.2 253.9 331.3 252.7 331.9 C251.6 332.5 249.3 332.5 247.5 332.7 C245.8 332.8 243.8 332.9 242.3 332.7 C240.9 332.4 239.6 332.1 238.9 331.2 C238.2 330.2 238.1 328.7 238.3 327 C238.5 325.3 239.2 322.3 240.1 321.1 Z" fill="#a3d09c"/>
<path d="M238.8 323.9h0M258.8 319.5h0M247.3 319.5h0M239.2 323.6h0M256.5 319.1h0M255.1 328.1h0M247.5 319h0M258.1 319.1h0M257.8 318.9h0M245.3 319.5h0M238.8 330.8h0M253.7 330h0M252.4 319.5h0M256.6 324h0M252.3 332.2h0M259.2 319h0M253.6 319.2h0M260.5 321.2h0M240.7 320.5h0M238.2 329.5h0M254.2 329.3h0M257.5 319.8h0M258.2 319.6h0M249.7 318.9h0M238.3 328.8h0M243.6 319.4h0M257.5 323.1h0M246.6 319.1h0M239.5 323.5h0M249.4 319.2h0M261.6 319.6h0M252 331.8h0M239.5 331.6h0M244.5 332.5h0M243.2 332.8h0M241.7 332.3h0M238 326h0M237.8 328.9h0M242.8 332.7h0M254.9 325.6h0M253.9 330.2h0M241.8 332.1h0M252.6 332.2h0M257.1 323.8h0M245.4 333.1h0M260.2 321.6h0M260.7 321.4h0M241.6 332.1h0M255.5 325.9h0M251.3 319.1h0M248.9 319.5h0M254 330.9h0M238.3 325.7h0M239.1 330.5h0M238.9 323.4h0M258.1 322.5h0M240.5 320.2h0M254 329.8h0M238.8 325.9h0M254.1 328h0" stroke="#a3d09c" stroke-width="1" stroke-linecap="round"/>
<path d="M250.4 326.2h0M254.3 324.5h0M246.7 327.2h0M246.5 332h0M254.1 326.3h0M240.6 324.3h0M247.7 326.8h0M251.7 331.1h0M248.6 327.6h0M250.7 330.2h0M242.3 323.5h0M250.3 320.7h0M242 323.2h0M250.3 326h0M242.7 321.7h0M253 327.4h0M246.6 332.6h0M253.2 319.8h0M247.9 329.8h0M245.5 328.5h0M253.9 321.9h0M249.9 326.7h0M244.5 327.9h0M251.7 324.8h0M241.1 321.4h0M256.1 320.7h0M240.6 321.6h0M250.5 330.3h0M252.6 330.1h0M256.3 323.6h0M255 324h0M242.3 322.8h0M240.6 331.4h0M251.9 323.9h0M248.8 324.4h0M239.6 331.2h0M248.6 327.6h0M244.1 319.9h0M245.7 331.3h0M257.4 323.3h0" stroke="#0f9e74" stroke-width="1" stroke-linecap="round"/>
<path d="M238.9 331.2 C239.6 329.9 242.6 329.9 244.6 329.7 C246.5 329.5 248.8 329.6 250.5 330 C252.3 330.4 254.4 330.9 255 331.9 C255.6 333 254.9 335.1 254.1 336.4 C253.3 337.7 251.7 339.2 250.1 339.8 C248.5 340.4 246.2 340.3 244.6 339.8 C242.9 339.4 241 338.6 240.1 337.1 C239.1 335.7 238.2 332.4 238.9 331.2 Z" fill="#666666"/>
<path d="M250.1 339.2h0M253.7 336.2h0M249.2 329.6h0M245.5 340.3h0M251.8 330.9h0M253.9 336.1h0M249.3 329.4h0M254.1 331h0M238.8 332.5h0M252.1 338.9h0M252.8 337.8h0M255.5 332.8h0M244.1 330.1h0M253.8 330.9h0M247 329.4h0M249 329.2h0M247.8 340.2h0M245.5 329.8h0M242.7 329.8h0M240.7 338.2h0M254.2 334.3h0M241.8 338.8h0M253.7 331.5h0M254.5 332.1h0M247.7 330.2h0M253.9 337.2h0M255 334.9h0M246 340.3h0M239.7 335.5h0M254.5 331.2h0M250.5 340.1h0M239.4 336.7h0M253.4 337.1h0M250.4 330.2h0M255 332h0M251.8 338.8h0M255.6 332.3h0M246.4 330.1h0M252.4 330.9h0M243.4 329.9h0M254.1 331.4h0M251.7 329.8h0M252.2 330.2h0M244.2 329.9h0M251 329.9h0M239.8 335h0M240.2 336.1h0M244.3 329.3h0M240.2 330.9h0M247.8 340.1h0M254.7 333.1h0M246.3 340.3h0M240.4 337.7h0M249.4 340.3h0M243.8 330.2h0M244.8 339.7h0M240.4 330.1h0M245.7 329.2h0M251.8 330.2h0M240.4 330.4h0" stroke="#666666" stroke-width="1" stroke-linecap="round"/>
<path d="M249.2 331.5h0M252.4 335.5h0M250.4 332.3h0M245.9 336.6h0M252.3 337.6h0M243.5 330.1h0" stroke="#cc79a7" stroke-width="1" stroke-linecap="round"/>
<path d="M271.1 294 C271.8 293.3 273 291.8 274.3 291.3 C275.6 290.7 277.6 290.4 278.8 290.7 C280 291 281.2 292 281.8 293.2 C282.3 294.4 282.3 296.3 282.1 297.7 C281.8 299 280.7 300.2 280.3 301.4 C279.9 302.6 280.2 304.1 279.6 304.7 C278.9 305.2 277.3 305.3 276.6 304.7 C275.8 304 275.8 301.8 275.1 300.7 C274.3 299.5 272.9 298.5 272.1 297.7 C271.3 296.8 270.3 296.1 270.2 295.4 C270 294.8 270.4 294.7 271.1 294 Z" fill="#0e6e6c"/>
<path d="M273 298.6h0M272.3 292.4h0M274.7 291.4h0M278.7 291h0M274.9 302.1h0M276.1 304.1h0M275.8 301.9h0M281.3 292h0M270.3 295.9h0M271 296.2h0M275.9 302.2h0M278.5 304.9h0M272.8 292.6h0M282.1 298h0M270.5 296.7h0M274.7 301.7h0M276.4 303.6h0M280.3 291.8h0M270.4 295h0M280.5 302.4h0M272.7 292.2h0M282.6 297.3h0M282.4 293.2h0M276.2 303.5h0M279.8 291h0M280.6 301.3h0M270.5 296.3h0M281.2 293.2h0M275.9 291h0M281.6 294.2h0M279.9 302.4h0M277 291h0M279.8 304.5h0M275.5 301.2h0M274.7 290.8h0M282.4 295.2h0M272.7 292.1h0M278.1 290.9h0M282.1 299h0M282 293.8h0M282.5 295.3h0M272.9 291.5h0M271 294.3h0M273.8 291.9h0M270.6 294.6h0M274.5 291.1h0M282.3 298.4h0M280.8 302.4h0M271.2 296.6h0M278.6 304.3h0M277.5 305.1h0M280.2 291.1h0M272 293.4h0M273.1 299.3h0M277.7 290.8h0M273.5 298.6h0M277 291.1h0M273.8 299.2h0M282.4 293.8h0M273.6 299.7h0" stroke="#0e6e6c" stroke-width="1" stroke-linecap="round"/>
<path d="M274.6 298.4h0M276.9 299.5h0M279.9 300.6h0M276.1 297.7h0M272 294.9h0M277.1 291.8h0M278.4 293h0M275.4 293.4h0M278.8 290.7h0M279.5 296.6h0M276.3 296.6h0M274.2 296.8h0M278.1 302.2h0M280.9 293h0M273.7 296.9h0M276.9 295.6h0M274 297.1h0M278.2 299.2h0M273.7 298.7h0M281.5 297.4h0" stroke="#cfd8d8" stroke-width="0.9" stroke-linecap="round"/>
<path d="M256.5 355 C256.9 354.4 257.5 353.8 258.3 353.5 C259.1 353.2 260.3 353.1 261.2 353.2 C262.1 353.3 263.1 353.7 263.6 354.3 C264.1 354.8 264.2 355.8 264.2 356.5 C264.3 357.2 263.7 357.7 263.9 358.3 C264.1 358.8 265 359.2 265.4 359.8 C265.9 360.4 266.7 361.6 266.6 361.9 C266.5 362.2 265.4 361.9 264.7 361.6 C263.9 361.3 263 360.3 262.1 360.1 C261.3 359.8 260.3 360.4 259.4 360.2 C258.6 360.1 257.7 359.7 257.1 359.2 C256.5 358.7 256 357.9 255.9 357.2 C255.8 356.5 256.1 355.6 256.5 355 Z" fill="#0a72b5"/>
<path d="M262.9 361h0M263.8 357h0M256.8 354h0M262.2 360.3h0M258.6 353.5h0M264 357.9h0M264.7 358.9h0M265.4 361.9h0M259.5 352.9h0M256.4 358.3h0M259.5 353.7h0M264.2 354.1h0M266.5 362.3h0M266.1 360.7h0M262.9 353.9h0M259.5 353.3h0M264.6 362.2h0M264.9 358.3h0M264.9 359.7h0M265.9 361.6h0M259.9 360.8h0M256.5 355.3h0M259.1 353.7h0M264.5 358.1h0M256.1 356.2h0M259.1 360.7h0M259 360.8h0M263.3 353.8h0M256.8 354.7h0M262.6 353.4h0M261.4 360.3h0M256.5 358.2h0M256.7 358.7h0M256.3 357.3h0M261.2 353.4h0M264 356.9h0M262.4 359.9h0M259.7 353.1h0M260.5 359.8h0M261 360.8h0M264 361.9h0M266 361.5h0M259.5 353.8h0M262.2 360.6h0M262 353.3h0M257.5 359.4h0M259.4 352.7h0M259.4 353.6h0M261.7 353.3h0M263.8 355.4h0M264.5 358.3h0M256.6 358.6h0M262 359.9h0M255.4 356.4h0M264.7 357.1h0M265.9 361.3h0M258.3 360.5h0M261.5 353.6h0M262.1 360.4h0M266.3 360.1h0" stroke="#0a72b5" stroke-width="1" stroke-linecap="round"/>
<path d="M256.7 356.1h0M257.7 356.3h0M260.9 358.2h0M260 356.3h0M263.1 355.6h0M258.8 357.5h0M258.7 358.1h0M261.9 359.9h0M265.2 359.9h0M262.7 358.7h0M259.8 355.6h0M264.4 360.8h0" stroke="#dce8f0" stroke-width="0.9" stroke-linecap="round"/>
<line x1="189.8" y1="302" x2="202.9" y2="302" stroke="#dcdcdc" stroke-width="1.3"/>
<circle cx="189.8" cy="301.8" r="1" fill="#0f9e74"/>
<circle cx="191" cy="302" r="0.7" fill="#d55e00"/>
<circle cx="269.1" cy="356.5" r="0.7" fill="#cc79a7"/>
<circle cx="272.8" cy="356.5" r="0.7" fill="#cc79a7"/>
<circle cx="277.3" cy="356.5" r="0.7" fill="#cc79a7"/>
<rect x="288" y="288" width="101.4" height="77" fill="none" stroke="#777" stroke-width="0.9"/>
<path d="M305.6 302.1 C305.8 300.5 306.3 299.3 307.4 298.4 C308.4 297.6 310 297.2 311.8 296.9 C313.7 296.6 316.5 296.4 318.5 296.6 C320.5 296.9 322.4 297.6 323.7 298.4 C325.1 299.3 325.8 300.3 326.4 301.7 C327 303.1 327.5 305.2 327.5 306.6 C327.4 308.1 327 309.3 326 310.3 C325 311.3 323.4 312.2 321.5 312.6 C319.6 312.9 317 312.7 314.8 312.6 C312.6 312.4 309.6 312.6 308.1 311.8 C306.6 311.1 306.3 309.7 305.9 308.1 C305.4 306.5 305.3 303.8 305.6 302.1 Z" fill="#e2e2e2"/>
<path d="M305.8 306h0M321.9 298h0M314.2 312.6h0M320.8 312.9h0M325.7 310.8h0M306.9 298.6h0M323 298.6h0M327.7 306.8h0M318.3 296.2h0M324.8 298.8h0M306 301.9h0M327.3 304.9h0M324.8 311.4h0M313.6 296.2h0M321.9 297.4h0M315 312.7h0M305.4 306.1h0M305.8 307.1h0M308.1 297.6h0M323.7 311h0M324.5 299.7h0M326.5 303.4h0M307.4 298.2h0M305.7 308.7h0M319.4 296.2h0M313.3 296.4h0M316.4 313.1h0M326.8 301.3h0M322.5 311.7h0M319.9 313.1h0M314.6 312.1h0M323.1 312.5h0M309.8 311.7h0M324.5 298.4h0M314.8 296.7h0M306.9 309.7h0M305.3 307h0M323.3 298.4h0M319.9 312.8h0M318 312.9h0M306.9 298.8h0M306.8 299.6h0M323.9 298.4h0M323.1 312.2h0M327.9 305.4h0M305.7 306.9h0M304.9 303h0M322 312.2h0M323.7 297.7h0M312.8 296.3h0M312.4 312.9h0M309.5 312.2h0M326.1 310h0M325.3 310.6h0M322.9 312.3h0M314 312.9h0M316 312.4h0M311.9 312.6h0M312.2 311.9h0M327.5 304.8h0" stroke="#e2e2e2" stroke-width="1" stroke-linecap="round"/>
<path d="M302.9 312.6 C304 311.3 305.5 310.7 307.4 310.3 C309.2 310 311.9 310.1 314.1 310.3 C316.2 310.6 318.4 311 320 311.8 C321.6 312.7 323 314.1 323.7 315.5 C324.5 317 324.7 319.1 324.5 320.8 C324.2 322.4 323.6 324.2 322.2 325.2 C320.9 326.3 318.5 326.9 316.3 327 C314.1 327.1 311.1 326.6 308.8 326 C306.6 325.3 304.3 324.4 302.9 323 C301.5 321.6 300.7 319.5 300.7 317.8 C300.7 316 301.8 313.8 302.9 312.6 Z" fill="#e2e2e2"/>
<path d="M321.5 325.1h0M310.9 309.6h0M323.3 323.1h0M305.8 324.8h0M302.2 313h0M306.6 325.6h0M304.3 311.2h0M306.3 310.7h0M319.7 326.5h0M301.1 316.1h0M312.1 309.8h0M308.2 325.2h0M312.9 309.6h0M305.5 324.8h0M302.3 313.6h0M314.4 327.1h0M304.3 323.9h0M322.1 314.4h0M309.4 310.5h0M306.7 310.7h0M323.9 318.6h0M306.3 310.8h0M323.9 319.1h0M301.5 315.9h0M317 310.6h0M319.3 311.4h0M317.4 310.7h0M306.8 324.9h0M320.8 313.3h0M316.4 310.9h0M312.6 310.6h0M301.4 320.6h0M307.3 324.9h0M320.7 312h0M322.7 323.5h0M312.9 310.4h0M317 327h0M318 326.2h0M315.9 311.1h0M323.6 315.9h0M301.4 321h0M302.3 320.5h0M321.6 312.4h0M309.6 310.8h0M303.6 312.6h0M312.2 310.5h0M308.7 309.8h0M311.4 327h0M322.8 315.1h0M309.3 325.7h0M301.7 313.5h0M317.5 311.4h0M310.9 327h0M322.9 325h0M325 320.3h0M304.2 312.4h0M321.8 314h0M310.2 310.2h0M311.2 310.1h0M314 310.4h0" stroke="#e2e2e2" stroke-width="1" stroke-linecap="round"/>
<path d="M321.5 317 C322.1 315.6 323.2 315.2 324.5 314.5 C325.7 313.8 327.5 313.4 328.9 313 C330.4 312.6 331.9 312.1 333.4 312.1 C334.9 312.2 336.6 312.7 337.9 313.3 C339.1 313.9 339.7 314.9 340.9 315.8 C342 316.8 343.7 318 344.6 319.3 C345.4 320.6 346.3 322.4 346.1 323.7 C345.8 325 344.6 326.4 343.1 327 C341.6 327.6 339.1 327.6 337.1 327.5 C335.2 327.4 333 326.4 331.2 326.4 C329.3 326.4 327.4 327.6 326 327.6 C324.5 327.6 323.4 327.2 322.5 326.4 C321.7 325.6 321.2 324.6 321.1 323 C320.9 321.4 320.9 318.4 321.5 317 Z" fill="#e2e2e2"/>
<path d="M330.2 312.9h0M345.3 325.5h0M342.3 317h0M320.8 322.4h0M334.4 312.8h0M321.9 324.6h0M338.5 313.2h0M337.9 312.6h0M323.6 315.1h0M344.8 319.6h0M343.2 317h0M333.2 326.7h0M342.8 327.1h0M333.2 326.3h0M322.1 325.2h0M344.7 318.9h0M344.6 320.5h0M344.1 318.4h0M345.3 319.6h0M320.8 317.1h0M338.5 327h0M337.1 313.1h0M343.7 317.8h0M333.6 311.5h0M323.3 326.5h0M320.5 323.4h0M332.8 327.1h0M336 327.3h0M340.1 315.7h0M321.6 317.1h0M322.5 326.6h0M339.5 326.8h0M335.8 312.8h0M329.7 327.1h0M331.6 326.8h0M343.7 326.4h0M333.9 327.3h0M337.1 327.6h0M335.1 312.5h0M337.6 313.6h0M346 323.7h0M344 326.3h0M335.1 312h0M321 321.9h0M343.9 326.3h0M325 327.7h0M331.8 312.7h0M345.8 323h0M324.3 326.7h0M321.5 325.9h0M343.4 318.5h0M324.6 327.8h0M330.5 312.3h0M327.2 313.3h0M325.7 327.6h0M346.3 322.3h0M344 319.3h0M332.8 326.9h0M345.7 323.9h0M328.8 327.6h0" stroke="#e2e2e2" stroke-width="1" stroke-linecap="round"/>
<path d="M343.1 321.1 C344 319.8 345.3 319.8 346.8 319.6 C348.3 319.3 350.2 319.6 352 319.6 C353.9 319.5 355.9 319.3 358 319.3 C360.1 319.3 363.8 319.2 364.7 319.6 C365.6 319.9 364.2 320.7 363.2 321.5 C362.2 322.3 359.7 323.2 358.7 324.5 C357.7 325.7 357.7 327.7 357.2 328.9 C356.7 330.2 356.9 331.3 355.7 331.9 C354.6 332.5 352.3 332.5 350.5 332.7 C348.8 332.8 346.8 332.9 345.3 332.7 C343.9 332.4 342.6 332.1 341.9 331.2 C341.2 330.2 341.1 328.7 341.3 327 C341.5 325.3 342.2 322.3 343.1 321.1 Z" fill="#e2e2e2"/>
<path d="M351.1 332.9h0M358.3 327.3h0M364.2 320.8h0M364.1 321.5h0M355.3 319.3h0M346.2 319.2h0M348.7 333.1h0M363 319h0M341.3 331.2h0M353.8 331.9h0M355.4 319.2h0M344.2 332.2h0M364.4 321h0M360.6 323.6h0M349.1 333.1h0M362.3 322.1h0M343 332h0M363.4 321.3h0M341.3 325.4h0M342.7 322.8h0M363.8 320.6h0M363.4 318.8h0M346.4 333h0M357.9 327.5h0M341.5 327h0M344.6 320.4h0M359.5 324.2h0M341.6 330.8h0M358.7 324.1h0M360.7 323.4h0M357.8 326.5h0M351.7 332.4h0M363 322.5h0M351.1 332.7h0M345.6 332.5h0M350.2 319.1h0M347.6 319.8h0M349.1 318.9h0M346.6 332.7h0M346.3 319.8h0M349.2 332.8h0M346.3 319.9h0M361.8 322.5h0M343.3 321.2h0M341 328.8h0M363.7 319.4h0M343.6 321.3h0M359.9 318.9h0M362.3 319h0M341.6 329.6h0M358.3 326.6h0M345.9 319.5h0M341.8 329.1h0M341.3 329.8h0M355.4 318.7h0M357.8 328.2h0M359.4 324.2h0M356.6 330.9h0M343.5 332.4h0M341.6 325.8h0" stroke="#e2e2e2" stroke-width="1" stroke-linecap="round"/>
<path d="M342.3 332.7 C343 331.8 345.7 331.7 347.6 331.5 C349.4 331.3 351.9 331.3 353.5 331.5 C355.1 331.7 356.7 331.9 357.2 332.7 C357.7 333.5 357.2 335.3 356.5 336.4 C355.7 337.5 354.3 338.9 352.8 339.4 C351.3 339.9 349 339.8 347.6 339.4 C346.1 338.9 344.7 338 343.8 336.8 C343 335.7 341.7 333.6 342.3 332.7 Z" fill="#e2e2e2"/>
<path d="M344.2 331.9h0M355.7 337.3h0M354.8 338.2h0M352.6 331.7h0M353.3 331.6h0M346.3 338.6h0M356.5 334.6h0M356.6 334.2h0M344.4 332h0M352.3 340.1h0M344.1 337.8h0M354 339.1h0M343.3 335.5h0M346.3 338.7h0M351 339.3h0M353.4 331h0M344.9 338.3h0M342.9 335.8h0M345.9 331.2h0M347.2 338.6h0M357.1 333.2h0M352 331.8h0M350.5 339.9h0M344.5 332.3h0M343.9 332.6h0M353.3 331h0M354.3 338.6h0M355.1 338.2h0M343.1 335.9h0M344.8 338.2h0M346.7 338.3h0M357.1 331.9h0M356.5 332.4h0M350.7 331.4h0M345.8 331.7h0M348.9 339.6h0M350.8 340h0M345.2 338.5h0M343.7 335.3h0M343 334.9h0M353.2 331.1h0M348.1 339.5h0M342.6 335.4h0M356.3 335.7h0M353.7 338.8h0M345.5 331.4h0M352.5 331.8h0M344.8 338h0M342.6 335.6h0M353.4 338.4h0M355.1 332.4h0M351.7 340.1h0M354.8 331.7h0M351.6 331.6h0M349 331.7h0M353.7 330.8h0M355.2 338.3h0M354.9 337.4h0M353.8 338.8h0M343.6 332.3h0" stroke="#e2e2e2" stroke-width="1" stroke-linecap="round"/>
<path d="M374.1 294 C374.8 293.3 376 291.8 377.3 291.3 C378.6 290.7 380.6 290.4 381.8 290.7 C383 291 384.2 292 384.8 293.2 C385.3 294.4 385.3 296.3 385.1 297.7 C384.8 299 383.7 300.2 383.3 301.4 C382.9 302.6 383.2 304.1 382.6 304.7 C381.9 305.2 380.3 305.3 379.6 304.7 C378.8 304 378.8 301.8 378.1 300.7 C377.3 299.5 375.9 298.5 375.1 297.7 C374.3 296.8 373.3 296.1 373.2 295.4 C373 294.8 373.4 294.7 374.1 294 Z" fill="#e2e2e2"/>
<path d="M377.1 291.5h0M378.5 291.1h0M385.2 294.9h0M380.1 305.2h0M380.1 291.3h0M384.6 294.1h0M375.3 298.1h0M379.1 290.4h0M374.8 298.3h0M383.8 300.5h0M377.9 291h0M379.8 290.8h0M383.8 301h0M381.1 290.5h0M381.3 290.2h0M382.4 291.6h0M383.4 300.6h0M374.8 293.9h0M383.7 300.1h0M382.8 303.3h0M382.2 291.2h0M379.3 290.6h0M374.9 292.9h0M383.7 301.5h0M374.5 297.9h0M383.2 303.8h0M382.4 304.3h0M378.5 303.6h0M382.8 291.5h0M373.1 294.2h0M382 304.6h0M376.9 299.9h0M377.1 300h0M373.6 297.1h0M373.4 296.1h0M385.7 297.1h0M382.7 291.6h0M379 304.8h0M385.5 294.6h0M381.1 290.3h0M384.4 294.1h0M374.2 294.2h0M384.2 299.9h0M378.4 300.6h0M378.5 301.8h0M381.2 290.8h0M376.4 298.7h0M377 291.7h0M385.4 294.8h0M373.4 295.2h0M378 302.2h0M377 299h0M374.7 297h0M376.8 299h0M382.9 304.2h0M377 299.3h0M375.2 298.4h0M373.1 295.3h0M373 296.2h0M373.6 295.2h0" stroke="#e2e2e2" stroke-width="1" stroke-linecap="round"/>
<path d="M359.5 355 C359.9 354.4 360.5 353.8 361.3 353.5 C362.1 353.2 363.3 353.1 364.2 353.2 C365.1 353.3 366.1 353.7 366.6 354.3 C367.1 354.8 367.2 355.8 367.2 356.5 C367.3 357.2 366.7 357.7 366.9 358.3 C367.1 358.8 368 359.2 368.4 359.8 C368.9 360.4 369.7 361.6 369.6 361.9 C369.5 362.2 368.4 361.9 367.7 361.6 C366.9 361.3 366 360.3 365.1 360.1 C364.3 359.8 363.3 360.4 362.4 360.2 C361.6 360.1 360.7 359.7 360.1 359.2 C359.5 358.7 359 357.9 358.9 357.2 C358.8 356.5 359.1 355.6 359.5 355 Z" fill="#e2e2e2"/>
<path d="M366.5 354.5h0M366.2 353.5h0M368.9 359.7h0M368.7 361h0M365.1 360h0M366.9 358.6h0M361.8 359.9h0M359.2 356.8h0M367.8 358.3h0M366.1 360.4h0M367.2 356.9h0M360.6 359.2h0M359.5 354.8h0M359.5 354.2h0M361.2 359.9h0M367.2 361.5h0M367.7 356.8h0M366.8 357.3h0M366.7 361.4h0M361.6 353.1h0M364.6 360.3h0M365.9 360.3h0M362.7 353.4h0M360.6 354.4h0M364.8 353h0M358.8 356.2h0M365.7 354.2h0M367.3 361h0M367.2 358.4h0M359 356.3h0M358.9 355.2h0M360.5 360h0M370.2 361.4h0M364.2 353.6h0M368.3 360h0M366.7 353.9h0M362.1 353.3h0M359.8 359h0M366.6 358h0M359.4 358.1h0M361.3 353.5h0M368 359.9h0M367 357.6h0M366.4 361.2h0M369.4 361.7h0M359.1 357.8h0M366.6 357.6h0M361 354.1h0M365.1 360.2h0M368.2 359.8h0M359.6 358.1h0M363.1 360.9h0M367.8 356.3h0M359.4 356.5h0M363.4 353.3h0M368 362.3h0M367 358.6h0M366.1 361.1h0M362.7 360.6h0M369.1 362h0" stroke="#e2e2e2" stroke-width="1" stroke-linecap="round"/>
<line x1="291.7" y1="302" x2="305.9" y2="302" stroke="#e2e2e2" stroke-width="1.6"/>
<path d="M341.2 322.6h0M338.8 322.8h0M328 314.6h0M335.4 324.9h0M340.9 317.5h0M339.5 314.8h0M328.5 318.1h0M329.1 318.9h0M330.9 318.1h0M332.3 325.1h0M337 324.2h0M328.9 314.5h0M340 319.4h0M335 322.5h0M339.9 316.4h0M330.1 326.3h0M334.3 316.6h0M336.8 316.1h0M341.7 320.9h0M329.9 326.7h0M327.7 315.9h0M339.9 322.6h0M331.4 324.6h0M336.9 322.8h0M340.4 318.2h0M329.6 318.2h0M341.2 317.5h0M334.4 320.2h0M337.8 326.1h0M333.6 325.3h0M337.8 321.1h0M331.2 321h0M327.9 325.2h0M340.8 325.1h0M339.9 319.9h0M339.6 324.8h0M337.3 325.7h0M338.7 321.6h0M336.1 324.9h0M327.9 315.4h0M341.1 317.7h0M342 317.2h0M334.9 324.6h0M336.8 317.4h0M329.3 320.9h0" stroke="#0f9e74" stroke-width="1.1" stroke-linecap="round"/>
<path d="M346.4 329.9h0M346.2 330.5h0M342 329.7h0M342 326h0M351.2 320.1h0M356 329h0M355 324.6h0M353.3 327.2h0M346.6 330.9h0M352.5 321.1h0M351.9 328.4h0M357.9 325.4h0M349.3 321.8h0M350.7 323.1h0M345.8 329.1h0M353.4 325.1h0M345.9 328.7h0M345.9 322.8h0M354.4 328.7h0M347.5 324h0M345.1 327.7h0M349.6 331.3h0M344.9 329.7h0M352.4 330.3h0M344.3 320.7h0" stroke="#a3d09c" stroke-width="1.1" stroke-linecap="round"/>
<path d="M350.7 335.5h0M345.5 333.5h0M352.9 338.9h0M353.3 334.5h0M345.5 336.1h0M348 331.6h0M354.7 337.7h0M349.3 331.8h0M355.6 335.7h0M343.4 334h0" stroke="#666666" stroke-width="1.1" stroke-linecap="round"/>
<circle cx="368.4" cy="356.2" r="0.6" fill="#cc79a7"/>
<circle cx="371.4" cy="356.5" r="0.6" fill="#d8d8d8"/>
<circle cx="374.4" cy="356.5" r="0.6" fill="#d8d8d8"/>
<circle cx="377.3" cy="356.5" r="0.6" fill="#d8d8d8"/>
<rect x="185" y="379" width="100.4" height="77" fill="none" stroke="#777" stroke-width="0.9"/>
<path d="M202.6 393.1 C202.8 391.5 203.3 390.3 204.4 389.4 C205.4 388.6 207 388.2 208.8 387.9 C210.7 387.6 213.5 387.4 215.5 387.6 C217.5 387.9 219.4 388.6 220.7 389.4 C222.1 390.3 222.8 391.3 223.4 392.7 C224 394.1 224.5 396.2 224.5 397.6 C224.4 399.1 224 400.3 223 401.3 C222 402.3 220.4 403.2 218.5 403.6 C216.6 403.9 214 403.7 211.8 403.6 C209.6 403.4 206.6 403.6 205.1 402.8 C203.6 402.1 203.3 400.7 202.9 399.1 C202.4 397.5 202.3 394.8 202.6 393.1 Z" fill="#e2e2e2"/>
<path d="M218.4 403.3h0M224.4 397.8h0M212.9 387.3h0M202.6 399.1h0M206.6 388.6h0M207.8 387.7h0M224.2 396.1h0M217.7 403.5h0M224.6 394.9h0M212.1 404.2h0M224.6 396.9h0M215.4 403.5h0M215.1 387.7h0M214.2 403.8h0M208.9 388.3h0M220.2 403.5h0M215 388.1h0M214.4 387.4h0M208.2 402.9h0M217.8 403.4h0M203 390.7h0M202.9 394.6h0M203 390.7h0M215.2 388h0M213.8 387.8h0M202.8 397.5h0M202.4 398.3h0M209.6 387.2h0M210 404h0M202.8 394.8h0M211.8 388h0M210.2 387.7h0M206.8 388.8h0M203.7 399.8h0M202.9 393.1h0M222.2 401.5h0M224 398.9h0M220 402.6h0M204.9 388.5h0M223.1 401.7h0M223.8 392h0M210.8 404.2h0M205.6 402.7h0M224.7 396.1h0M216.8 404.1h0M224.4 394.3h0M202.6 394.6h0M222 389.9h0M211.8 403.3h0M204.2 402.5h0M222.4 390.8h0M209.7 403.9h0M219.3 402.7h0M209.3 404h0M204.7 388.7h0M214.1 403.6h0M223.7 400h0M223.5 393.1h0M216.9 403.2h0M211.6 403.3h0" stroke="#e2e2e2" stroke-width="1" stroke-linecap="round"/>
<path d="M199.9 403.6 C201 402.3 202.5 401.7 204.4 401.3 C206.2 401 208.9 401.1 211.1 401.3 C213.2 401.6 215.4 402 217 402.8 C218.6 403.7 220 405.1 220.7 406.5 C221.5 408 221.7 410.1 221.5 411.8 C221.2 413.4 220.6 415.2 219.2 416.2 C217.9 417.3 215.5 417.9 213.3 418 C211.1 418.1 208.1 417.6 205.8 417 C203.6 416.3 201.3 415.4 199.9 414 C198.5 412.6 197.7 410.5 197.7 408.8 C197.7 407 198.8 404.8 199.9 403.6 Z" fill="#e2e2e2"/>
<path d="M197.9 408.7h0M206.2 417.7h0M208.6 417.1h0M221.1 411.5h0M211 401.7h0M221.2 412.1h0M215.8 402.1h0M220.7 406h0M205.5 401.1h0M199.4 404.7h0M198.3 407.7h0M200 413.2h0M204 416.5h0M215.5 402.2h0M200.9 402.5h0M198.7 410.2h0M219.4 405.5h0M203 415.2h0M201.7 415h0M206.2 401.6h0M218.8 404.7h0M221 407.3h0M198.5 405.4h0M218.1 416.5h0M217.5 416.4h0M220.9 410h0M208.1 416.9h0M205.2 400.8h0M217.4 403.7h0M200.5 402.8h0M206.4 416.6h0M210.8 401.1h0M208.2 417.2h0M204.6 416.2h0M215.5 402h0M201.5 402.8h0M213 401.4h0M199 405.7h0M214.3 417.7h0M213.9 417.7h0M218.9 403.7h0M203.5 401h0M221.4 406.9h0M206.7 401.2h0M199.2 405.4h0M216.9 403h0M210.9 400.7h0M218.5 404h0M208 417.5h0M205.3 417.4h0M197.8 407.5h0M199.1 413.9h0M199.4 414h0M199.3 412.2h0M209.2 417.9h0M200.2 402.8h0M197.4 409.5h0M210 417.6h0M209.8 418.1h0M208.7 400.7h0" stroke="#e2e2e2" stroke-width="1" stroke-linecap="round"/>
<path d="M218.5 408 C219.1 406.6 220.2 406.2 221.5 405.5 C222.7 404.8 224.5 404.4 225.9 404 C227.4 403.6 228.9 403.1 230.4 403.1 C231.9 403.2 233.6 403.7 234.9 404.3 C236.1 404.9 236.7 405.9 237.9 406.8 C239 407.8 240.7 409 241.6 410.3 C242.4 411.6 243.3 413.4 243.1 414.7 C242.8 416 241.6 417.4 240.1 418 C238.6 418.6 236.1 418.6 234.1 418.5 C232.2 418.4 230 417.4 228.2 417.4 C226.3 417.4 224.4 418.6 223 418.6 C221.5 418.6 220.4 418.2 219.5 417.4 C218.7 416.6 218.2 415.6 218.1 414 C217.9 412.4 217.9 409.4 218.5 408 Z" fill="#e2e2e2"/>
<path d="M218.1 409.2h0M232.6 418.3h0M232.2 402.9h0M219.4 407.6h0M226.1 404.4h0M239.6 408.6h0M226.6 404.1h0M234 403.7h0M241.3 417.6h0M233.6 404.2h0M236 404.9h0M225.3 418.6h0M230.1 402.7h0M240.9 409.2h0M233.3 418.5h0M218.5 416.7h0M231.9 417.8h0M233 403.1h0M242.9 412.4h0M242.7 414h0M223.5 404.2h0M243.2 415.4h0M232.6 403.5h0M225 403.6h0M239.7 408.3h0M218.1 412.2h0M222.1 404.8h0M226.6 417.9h0M219.5 416.3h0M218.9 417.4h0M218.1 411.8h0M233.3 403.3h0M218.8 417h0M222.9 404.6h0M217.9 413.1h0M227.6 418.2h0M243 413.4h0M230.9 403.3h0M240 408h0M218.3 409.1h0M229.1 402.6h0M232.5 418.3h0M219.6 406.8h0M226.8 417.8h0M232.8 403.6h0M235.7 418.3h0M227 404h0M218.4 411.7h0M219.2 417.3h0M217.8 414.7h0M232.3 403.6h0M217.7 414.8h0M231.8 402.8h0M242.9 412.4h0M230 403.3h0M237.1 417.9h0M241.5 410.3h0M219.4 407.8h0M232.7 403.6h0M241 416.4h0" stroke="#e2e2e2" stroke-width="1" stroke-linecap="round"/>
<path d="M240.1 412.1 C241 410.8 242.3 410.8 243.8 410.6 C245.3 410.3 247.2 410.6 249 410.6 C250.9 410.5 252.9 410.3 255 410.3 C257.1 410.3 260.8 410.2 261.7 410.6 C262.6 410.9 261.2 411.7 260.2 412.5 C259.2 413.3 256.7 414.2 255.7 415.5 C254.7 416.7 254.7 418.7 254.2 419.9 C253.7 421.2 253.9 422.3 252.7 422.9 C251.6 423.5 249.3 423.5 247.5 423.7 C245.8 423.8 243.8 423.9 242.3 423.7 C240.9 423.4 239.6 423.1 238.9 422.2 C238.2 421.2 238.1 419.7 238.3 418 C238.5 416.3 239.2 413.3 240.1 412.1 Z" fill="#e2e2e2"/>
<path d="M255 416.3h0M251.8 423.5h0M238.4 422.2h0M239.9 412h0M253.9 410.7h0M259.9 410.2h0M261.2 410.6h0M241.3 411.2h0M249.9 410.8h0M240.1 412h0M255.9 410.1h0M253.9 420.5h0M248.4 410.1h0M247.3 411h0M249.1 410h0M254.9 418.2h0M237.8 419h0M254.4 409.8h0M253.5 421.9h0M259 412.9h0M249.2 423.1h0M238.9 414.5h0M238.8 415.4h0M243.2 411.2h0M246.3 409.8h0M257.9 410h0M239.8 414.1h0M258.7 413.6h0M239 421.2h0M249.8 423.5h0M247.1 410.1h0M249.5 423.4h0M240.8 422.7h0M238.9 414.2h0M244.5 410.9h0M254.2 421.2h0M247.4 424.1h0M254.5 410h0M254.7 418.3h0M244.4 410.7h0M251.6 423.3h0M248.6 423.3h0M240.6 411.7h0M248.2 423.5h0M250.2 423.8h0M239.5 414.6h0M254.3 410.1h0M238.9 414.4h0M259 412.8h0M237.8 418.1h0M244.7 424h0M249.1 423.3h0M247.8 410.1h0M253.2 409.9h0M241.9 410.7h0M259.5 413.3h0M244.7 410.5h0M239 415.5h0M261.4 410.7h0M258 414.6h0" stroke="#e2e2e2" stroke-width="1" stroke-linecap="round"/>
<path d="M239.3 423.7 C240 422.8 242.7 422.7 244.6 422.5 C246.4 422.3 248.9 422.3 250.5 422.5 C252.1 422.7 253.7 422.9 254.2 423.7 C254.7 424.5 254.2 426.3 253.5 427.4 C252.7 428.5 251.3 429.9 249.8 430.4 C248.3 430.9 246 430.8 244.6 430.4 C243.1 429.9 241.7 429 240.8 427.8 C240 426.7 238.7 424.6 239.3 423.7 Z" fill="#e2e2e2"/>
<path d="M254.3 426.8h0M247.9 430.9h0M253 423.7h0M244.6 430.1h0M249.2 430.4h0M246.8 430h0M246.7 422.6h0M250.7 422.1h0M242.8 429.2h0M242.1 428.3h0M251.2 429.9h0M239.9 423.4h0M246 430.8h0M241.8 422.4h0M245.8 422.6h0M239.4 423.2h0M249.3 422.6h0M238.8 424.4h0M243.7 423.1h0M239.2 424.9h0M251.9 422.8h0M251.4 422.5h0M254.1 426.6h0M241.2 422.6h0M245.4 421.8h0M249.8 430.2h0M249.2 422.7h0M245.9 430.7h0M254.1 427.1h0M240.2 426.2h0M241.1 422.7h0M247.3 430.7h0M246.4 430.8h0M243.7 429.5h0M242.8 422.8h0M246.5 422.6h0M243.4 429.4h0M248 421.8h0M248.4 430.4h0M244.3 422h0M251.5 429.8h0M249.5 430.8h0M249 422.2h0M252.5 428.1h0M240.5 423.5h0M247.6 422.1h0M249.3 430.3h0M249.9 429.8h0M247 422.1h0M248.4 430.8h0M245.2 422h0M244.5 430h0M246.4 430h0M243.4 430h0M251.1 422.8h0M241.4 423.2h0M242.5 422.2h0M253.5 428.1h0M240.5 426h0M254.3 426h0" stroke="#e2e2e2" stroke-width="1" stroke-linecap="round"/>
<path d="M198.1 405.1 C199.1 403.7 202.2 402.9 204.4 402.8 C206.5 402.7 208.9 403.4 211.1 404.3 C213.2 405.2 215.5 406.7 217 408 C218.5 409.4 220.1 411.1 220 412.5 C219.9 413.9 218.1 415.7 216.3 416.5 C214.4 417.3 211.3 417.6 208.8 417.4 C206.3 417.2 203.2 416.5 201.4 415.5 C199.6 414.4 198.6 412.8 198.1 411 C197.6 409.3 197.1 406.4 198.1 405.1 Z" fill="#d55e00"/>
<path d="M205.2 395.7h0M214 393.4h0M218.2 396.1h0M219.5 389.3h0M204.1 393.8h0M213.2 391.7h0M217.2 391.2h0M209.5 395.2h0M218.2 399.9h0M210.7 394.8h0M216.1 389.3h0M212.5 397.8h0M208.7 388.2h0M205.4 395.1h0M216.1 392.4h0M204.1 399.6h0M219.4 394.6h0M204.4 393.9h0M203.7 392.2h0M219.4 389.8h0M206.2 396.1h0M220.8 390.3h0M206.4 399.8h0M211.9 393h0M205.3 391.5h0M208.3 399.4h0M212.9 402.9h0M215.8 392.2h0M212.8 399h0M218.6 389.7h0M206.8 402.9h0M204.9 400.6h0M210 391.6h0M208.2 395.1h0M221.3 392.8h0M206.4 399.5h0M210 390.6h0M211.7 400.7h0M221.5 396.8h0M215.8 402h0M223.4 392.8h0M221.1 400.7h0M208.4 393.5h0M210.8 393.3h0M210.8 389.4h0M207.5 402.1h0M211.6 397.8h0M222 399.7h0M207.9 402.3h0M218.5 399.7h0M220.4 391.7h0M216.9 393.7h0M220.9 389.8h0M214.4 393h0M220.5 393.1h0M221 401.1h0M223.1 399.5h0M217.4 398h0M214.6 394.9h0M210 400.1h0M219.7 401.5h0M207.3 393.1h0M208 389.2h0M209.7 388.1h0M220 391.3h0M218.8 390.8h0M212.7 394h0M209.4 397.7h0M222.2 395.1h0M222.3 399.3h0M209.4 401.6h0M215.1 389.3h0M215.4 400.8h0M213.9 395.3h0M211.7 401.7h0M217.1 390.9h0M210.5 393.4h0M223.6 398.7h0M205.3 402.2h0M203.3 397h0M212 399.1h0M212 389.1h0M214 400.7h0M219.8 393.3h0M207.4 399.5h0M220.1 391.1h0M212.1 393.7h0M218.1 402.4h0M207 392.4h0M209.8 399.3h0M206.7 396.3h0M213.5 398.3h0M205.7 402.9h0M220 390.6h0M222.5 396.4h0M219.2 401.5h0M210.5 402.4h0M213.6 402h0M213.8 402.5h0M214.8 389.9h0M216.4 400.4h0M211.8 397.2h0M208.2 392h0M211.8 395.8h0M212.8 389.1h0M202.7 393.1h0M218.3 399.6h0M207.8 391.7h0M213.9 390.4h0M215.8 402h0M207 397h0M218.3 399.6h0M218.2 399h0M208.5 401h0M223.2 394.7h0M220 398.4h0M205.7 395h0M216.6 403.5h0M209.9 399.8h0M207.9 390.8h0M206.1 394.2h0M216.1 392.5h0M206.1 391.1h0M204.4 390.7h0M209.5 395.7h0M206.6 395.3h0M212.2 403.1h0M213.2 402.7h0M212.9 390.8h0M215.5 389.9h0M206.3 388.8h0M217.9 403h0M211.4 393.3h0M211.9 393.2h0M217.7 393.9h0M205.9 401.4h0M215.1 387.7h0M221.2 399.2h0M210.3 397.7h0M222.7 394h0M212 392.4h0M214.7 398.2h0M218.7 402.8h0M205.8 393.5h0M221.2 400.2h0M215.5 398.4h0M210 402.7h0M214.6 394h0M206.6 389.5h0M222.2 400.4h0M203.2 392.8h0M213.1 395.5h0M210.5 401.9h0M210.2 396.1h0M222.9 397.8h0M213 392.9h0M211 397.3h0M219.8 391.8h0M210.7 393.8h0M210.5 402.2h0M214.4 392h0M209.8 400.7h0M206.1 398.6h0M203.9 400.5h0M205.8 391.3h0M203.8 391.8h0M218.6 399.1h0M214.6 402.3h0M212.1 390.7h0M218.9 401.3h0" stroke="#d55e00" stroke-width="1.2" stroke-linecap="round"/>
<path d="M206.8 402.9h0M218.5 413.9h0M211.9 417.6h0M214.5 411.8h0M200.3 404h0M202 411.5h0M213.7 417.5h0M208 407.9h0M203.7 405.2h0M214.5 404.3h0M201.9 403.9h0M206 413.6h0M199.1 410.2h0M208.1 414.5h0M211.4 408.9h0M218.7 411.4h0M205.7 407.9h0M219.5 410.7h0M201.1 404.3h0M206.8 412.9h0M216.4 409.9h0M207.5 412.5h0M211.2 413.5h0M212.3 406.6h0M206.6 405.8h0M219.2 414.5h0M216.4 415h0M205.2 414h0M203.9 411.5h0M209.3 405.9h0M219.8 414h0M201.2 414h0M211.3 416.5h0M211.6 408.5h0M216.2 403.1h0M204.2 403.2h0M218.4 408.7h0M215 405.6h0M215.1 412.2h0M200 409.6h0" stroke="#d55e00" stroke-width="1.2" stroke-linecap="round"/>
<path d="M225 408.9h0M228.7 412h0M221.7 413.6h0M231.6 414.6h0M234 409h0M220.2 416.3h0M226.6 417.6h0M222.7 405.2h0M230.6 408.3h0M224.3 417.3h0M223.6 417.2h0M229.2 404.6h0M222.1 413.7h0M231.9 409.4h0M221.5 410.4h0M222.1 416.8h0M223.2 405h0M225.2 412.9h0M224.2 418.2h0M221 416.1h0M225.9 411.9h0M222.5 416h0M220.6 417.6h0M224.7 416.8h0M228.2 413.9h0M219.7 416h0M224.8 405.4h0M227.2 413.4h0M233.6 413.2h0M222 405.4h0M232.8 415.5h0M228.4 411.5h0M228.6 406.8h0M241.2 412.5h0M226.4 404.5h0M230.9 417.6h0M221.9 407.8h0M226.2 417.2h0M235.7 409.8h0M239.3 413.2h0M226.4 404.7h0M222.3 413.5h0M228.9 413.4h0M220.3 417.1h0M228 406.2h0M220.3 413.8h0M235.3 409.8h0M219.8 411.5h0M230.6 410.7h0M225.4 417.6h0M238.4 410.5h0M219.2 414.2h0M219.4 412.1h0M227.2 414.2h0M220.3 414.4h0M239.7 413h0M239.9 414.2h0M227.6 413.5h0M226.9 416.7h0M230.8 412.2h0M225 410.9h0M222.7 411.4h0M225 415h0M224.3 417.5h0M230.8 408.9h0M228.1 414.1h0M223.4 410.1h0M227 407.9h0M227 414.8h0M236.4 406.3h0M233.9 413.9h0M219.6 408.7h0M220.8 415.4h0M224.8 410.7h0M222.6 405.6h0M225.1 417.4h0M240.3 409.7h0M237.4 408.9h0M232.9 407.1h0M227.8 409h0M233.7 406h0M234.9 412.6h0M223.1 416.4h0M232.4 408.1h0M226.2 413.1h0M233.1 411h0M223.4 407.9h0M228.5 408.7h0M224.1 416.4h0M224.1 412.2h0M227.5 403.7h0M238 415.7h0M219.4 409h0M223.8 412.8h0M227.7 415.5h0M220.7 407.1h0M220.3 410.3h0M227.3 409.8h0M227 408.3h0M233.4 411.8h0M227.3 404.9h0M226.3 416.2h0M226.5 409.6h0M222.1 413.4h0M223.9 415.4h0M229.5 416h0M227.4 414.5h0M230.5 410.4h0M222.4 413.1h0M221.5 412.6h0M222.3 411h0M225.9 411.6h0M221.4 410.6h0M237.6 412h0M229.1 416h0M238.6 413.2h0M242.4 414.4h0M229.1 416h0M223.1 417h0M226.5 404.1h0M219.9 412.8h0M225.4 407.4h0M225.1 417.5h0M238.3 414.5h0M220.3 417.4h0M221.6 414h0M229.7 415.3h0M229.5 406.2h0M228 406.6h0M223.5 417.9h0M227.3 411h0M223.3 408.5h0M223 414.3h0M226.9 415.7h0M220.4 407.4h0M224.4 416h0M221.2 415.2h0M225.4 416.5h0M229 413.5h0M228.4 411h0" stroke="#0f9e74" stroke-width="1.2" stroke-linecap="round"/>
<path d="M244.3 412.5 C245.1 411.1 247.9 411.3 250.5 411 C253.2 410.7 259.2 410 260.2 410.7 C261.2 411.5 257.5 413.8 256.5 415.5 C255.5 417.1 255.2 419.6 254.2 420.7 C253.2 421.8 252 422.4 250.5 422.2 C249 421.9 246.3 420.8 245.3 419.2 C244.3 417.6 243.4 413.9 244.3 412.5 Z" fill="#a3d09c"/>
<path d="M241.8 413.2h0M241.8 412.7h0M251.8 412.8h0M249.4 417.5h0M248.6 417h0M257.9 410.5h0M239.2 420.6h0M251.6 417.5h0M243.4 420.7h0M245.5 420h0" stroke="#0f9e74" stroke-width="1.2" stroke-linecap="round"/>
<path d="M242.7 427h0M249 425.4h0M246.5 423h0M248.9 427.9h0M241.6 426.8h0M250.3 423.3h0M240.1 424.4h0M240.6 424.5h0M240.6 426.3h0M243.1 424.8h0M246.2 425.4h0M251.1 428.2h0M241 424.2h0M250.6 425.7h0M253.2 425.6h0M244 423.1h0M253.5 426.5h0M245.9 425.9h0M250.8 429h0M246.4 423.9h0M245.4 429.5h0M245.4 427.7h0M247.7 426.1h0M247.9 424.4h0M247.6 429.3h0" stroke="#666666" stroke-width="1.2" stroke-linecap="round"/>
<path d="M240.2 415.2h0M238.6 418.7h0M253.1 421.6h0M249.3 412h0M245.3 419.8h0M255.3 413h0" stroke="#d55e00" stroke-width="1.2" stroke-linecap="round"/>
<path d="M271.1 385 C271.8 384.3 273 382.8 274.3 382.3 C275.6 381.7 277.6 381.4 278.8 381.7 C280 382 281.2 383 281.8 384.2 C282.3 385.4 282.3 387.3 282.1 388.7 C281.8 390 280.7 391.2 280.3 392.4 C279.9 393.6 280.2 395.1 279.6 395.7 C278.9 396.2 277.3 396.3 276.6 395.7 C275.8 395 275.8 392.8 275.1 391.7 C274.3 390.5 272.9 389.5 272.1 388.7 C271.3 387.8 270.3 387.1 270.2 386.4 C270 385.8 270.4 385.7 271.1 385 Z" fill="#0e6e6c"/>
<path d="M278 395.6h0M277.3 396.4h0M282 389.6h0M279.9 395.5h0M275.3 382.2h0M280.9 383.7h0M281.7 384h0M273.9 391.3h0M275.2 393.8h0M270.2 387.6h0M275.6 394h0M277.4 381.6h0M280.9 391.8h0M275.1 382.1h0M281.2 384.3h0M282.2 387.2h0M279 382.4h0M281.8 384.7h0M273.4 390.4h0M275.1 392.8h0M274.5 381.6h0M281.3 389.6h0M278.3 381.5h0M275 392.5h0M276.3 381.9h0M281.6 388.7h0M271.4 388.6h0M280.2 394h0M272 383.9h0M271 388h0M279.6 395h0M273.3 383.6h0M274.5 381.9h0M275.3 394.4h0M282.6 386.8h0M281.8 391h0M276.2 381.5h0M273.2 382.4h0M278 381.7h0M275.7 382.3h0M282.5 388.5h0M279.5 382.6h0M272.6 383.9h0M274.4 382.7h0M282.1 388.2h0M272.3 389.7h0M273.1 383.4h0M279.6 395h0M280.9 383.2h0M277.7 381.6h0M280.9 383.4h0M281.7 383.6h0M278 396.3h0M274.4 391.2h0M279.7 381.6h0M280.6 392h0M275.7 394.1h0M281.7 388.4h0M280.4 383.6h0M272.2 388.2h0" stroke="#0e6e6c" stroke-width="1" stroke-linecap="round"/>
<path d="M256.5 446 C256.9 445.4 257.5 444.8 258.3 444.5 C259.1 444.2 260.3 444.1 261.2 444.2 C262.1 444.3 263.1 444.7 263.6 445.3 C264.1 445.8 264.2 446.8 264.2 447.5 C264.3 448.2 263.7 448.7 263.9 449.3 C264.1 449.8 265 450.2 265.4 450.8 C265.9 451.4 266.7 452.6 266.6 452.9 C266.5 453.2 265.4 452.9 264.7 452.6 C263.9 452.3 263 451.3 262.1 451.1 C261.3 450.8 260.3 451.4 259.4 451.2 C258.6 451.1 257.7 450.7 257.1 450.2 C256.5 449.7 256 448.9 255.9 448.2 C255.8 447.5 256.1 446.6 256.5 446 Z" fill="#0a72b5"/>
<path d="M255.6 447.6h0M258.2 450.7h0M262 445.1h0M263.2 451.5h0M265.6 453.4h0M256.5 450.2h0M263.7 445.4h0M262 444.3h0M261.3 451.7h0M262.5 452h0M265.7 451.4h0M262.1 451.8h0M261.7 444.8h0M264.2 449.3h0M263.9 449h0M260.4 451.1h0M264.4 449.6h0M266.8 452.2h0M256.5 447.6h0M259.4 450.7h0M265.4 451.3h0M263.2 445.2h0M261.2 450.7h0M257.8 450.1h0M263.6 445.8h0M266.1 451.2h0M263.8 448.7h0M257.5 450.1h0M262.3 451.8h0M260.8 444.2h0M262.6 444.4h0M259.1 443.9h0M261.1 451.6h0M257.1 450.6h0M257 450.6h0M264 445.6h0M256.6 445.6h0M264.7 449.3h0M256.7 450.1h0M256.7 446.3h0M263.1 444.5h0M256.7 445h0M261.4 451.2h0M266.6 452h0M263.5 446.4h0M263.6 448.8h0M256 449.6h0M256.9 450.9h0M261.3 450.9h0M261.8 451.2h0M258 451.2h0M266.2 453.2h0M264.6 449.2h0M261.4 451.2h0M259.2 451.1h0M264.6 452.1h0M258.2 450.8h0M263.9 447.6h0M264.6 449h0M264.1 447.7h0" stroke="#0a72b5" stroke-width="1" stroke-linecap="round"/>
<line x1="189.8" y1="393" x2="202.9" y2="393" stroke="#dcdcdc" stroke-width="1.3"/>
<circle cx="189.8" cy="392.8" r="1" fill="#d55e00"/>
<circle cx="191" cy="393" r="0.7" fill="#d55e00"/>
<circle cx="268.4" cy="447.8" r="0.7" fill="#eddf3a"/>
<circle cx="272.8" cy="447.8" r="0.7" fill="#eddf3a"/>
<circle cx="277.3" cy="447.8" r="0.7" fill="#eddf3a"/>
<rect x="288" y="379" width="101.4" height="77" fill="none" stroke="#777" stroke-width="0.9"/>
<path d="M305.6 393.1 C305.8 391.5 306.3 390.3 307.4 389.4 C308.4 388.6 310 388.2 311.8 387.9 C313.7 387.6 316.5 387.4 318.5 387.6 C320.5 387.9 322.4 388.6 323.7 389.4 C325.1 390.3 325.8 391.3 326.4 392.7 C327 394.1 327.5 396.2 327.5 397.6 C327.4 399.1 327 400.3 326 401.3 C325 402.3 323.4 403.2 321.5 403.6 C319.6 403.9 317 403.7 314.8 403.6 C312.6 403.4 309.6 403.6 308.1 402.8 C306.6 402.1 306.3 400.7 305.9 399.1 C305.4 397.5 305.3 394.8 305.6 393.1 Z" fill="#d55e00"/>
<path d="M305.8 397.5h0M319 403.2h0M311.8 403.4h0M327.1 396.5h0M323 388.5h0M321.6 403.3h0M318.6 387.7h0M305.8 400.1h0M311.5 387.9h0M323.5 389.7h0M305.4 393.4h0M310.8 403.1h0M313.9 388.3h0M314 387.2h0M327.8 395.7h0M327.7 397.7h0M305.5 396h0M307.8 402h0M323.8 402.9h0M322.1 388.7h0M326.2 392.4h0M327.2 399.2h0M322.2 402.7h0M315.7 387.4h0M305.3 392.2h0M306.9 389.9h0M308.1 402.7h0M305.9 395.3h0M323.6 402.6h0M305.7 392.3h0M319.4 387.9h0M307.3 389.3h0M325.5 391.4h0M327.1 392.8h0M314.7 403.3h0M323.2 403.4h0M322.7 402.6h0M305.8 394h0M307.1 390.7h0M318.9 404h0M306.1 398.2h0M305.8 399.9h0M324.3 402.5h0M321.4 388.8h0M322 403.7h0M325.7 401.1h0M324.5 401.7h0M324.5 401.6h0M306.2 391.4h0M325.5 401.5h0M305.7 395.1h0M327.4 397.5h0M326.1 400.7h0M305 396.5h0M322.8 389.4h0M307.4 389.8h0M306.4 391.4h0M310.3 403.5h0M326 391.4h0M316.4 403.7h0" stroke="#d55e00" stroke-width="1" stroke-linecap="round"/>
<path d="M302.9 403.6 C304 402.3 305.5 401.7 307.4 401.3 C309.2 401 311.9 401.1 314.1 401.3 C316.2 401.6 318.4 402 320 402.8 C321.6 403.7 323 405.1 323.7 406.5 C324.5 408 324.7 410.1 324.5 411.8 C324.2 413.4 323.6 415.2 322.2 416.2 C320.9 417.3 318.5 417.9 316.3 418 C314.1 418.1 311.1 417.6 308.8 417 C306.6 416.3 304.3 415.4 302.9 414 C301.5 412.6 300.7 410.5 300.7 408.8 C300.7 407 301.8 404.8 302.9 403.6 Z" fill="#d55e00"/>
<path d="M316.5 418.3h0M317.5 417.2h0M305.8 415h0M318.4 402.3h0M324.3 408.5h0M304 415.1h0M319.3 416.9h0M300.6 407.1h0M319.8 402.6h0M300.8 407.2h0M302.3 413.2h0M319.9 416.5h0M306.5 401.4h0M312.5 400.7h0M321.3 404.3h0M318.2 418.1h0M304.2 414.8h0M311.7 401.6h0M303 414.6h0M301.5 407.3h0M317.4 401.4h0M302 411.4h0M308.7 401.5h0M306 415.5h0M303.1 413.4h0M322.3 405.5h0M300.5 408.2h0M311.4 417.3h0M302.2 412.6h0M320.4 402.6h0M320.5 417.4h0M302.3 411.8h0M318 402.4h0M312 418h0M305.7 415.2h0M321.9 403.9h0M320.3 403.3h0M323.4 413.5h0M312.8 400.7h0M323.3 406.5h0M312.9 400.7h0M306.9 416.7h0M312.3 418.1h0M318.3 402.4h0M301.4 411.2h0M324.7 412.9h0M323.4 405.6h0M305.1 415h0M305.3 415.3h0M310.3 417.8h0M324.4 408.4h0M320.3 403.3h0M316.3 401.5h0M320.2 403.4h0M314.3 417.9h0M323.6 408.2h0M301.1 407.1h0M318.8 417h0M319 402.1h0M309.1 401.2h0" stroke="#d55e00" stroke-width="1" stroke-linecap="round"/>
<path d="M319 403.9h0M312.1 407.7h0M310.5 404.6h0M315.7 407.4h0M310.5 407.2h0M310.6 404.2h0M313.6 408.4h0M312.4 408.8h0M317.1 407.7h0M315.9 403h0M317.4 406.3h0M317.9 407.2h0M315.8 408.7h0M314.4 404.2h0" stroke="#f4f4f4" stroke-width="1.1" stroke-linecap="round"/>
<circle cx="314.5" cy="405.5" r="1.4" fill="#fff"/>
<path d="M321.5 408 C322.1 406.6 323.2 406.2 324.5 405.5 C325.7 404.8 327.5 404.4 328.9 404 C330.4 403.6 331.9 403.1 333.4 403.1 C334.9 403.2 336.6 403.7 337.9 404.3 C339.1 404.9 339.7 405.9 340.9 406.8 C342 407.8 343.7 409 344.6 410.3 C345.4 411.6 346.3 413.4 346.1 414.7 C345.8 416 344.6 417.4 343.1 418 C341.6 418.6 339.1 418.6 337.1 418.5 C335.2 418.4 333 417.4 331.2 417.4 C329.3 417.4 327.4 418.6 326 418.6 C324.5 418.6 323.4 418.2 322.5 417.4 C321.7 416.6 321.2 415.6 321.1 414 C320.9 412.4 320.9 409.4 321.5 408 Z" fill="#0f9e74"/>
<path d="M330.5 418.2h0M329.2 418.4h0M326.7 404.3h0M344.5 417.1h0M322.1 415.4h0M338.6 405.1h0M332.7 417.8h0M337 404.5h0M320.6 410.9h0M341.3 406.8h0M333.5 402.9h0M320.7 415h0M323.6 418.2h0M322.4 407.7h0M338.5 404.2h0M328 404h0M328.2 403.7h0M336.8 404h0M345.9 412.9h0M343.5 417.2h0M331 417.8h0M321.3 413.5h0M341.6 418.3h0M341.4 406.6h0M321.7 415.5h0M327.1 405h0M321 415.7h0M332.3 418.1h0M343.1 417.7h0M342.2 407.8h0M334.6 418.5h0M337.3 418.7h0M320.9 409.2h0M331.6 418.2h0M338.6 404.2h0M330.2 403.6h0M331.9 403.6h0M326.9 404.7h0M321.8 417.2h0M334.6 403.6h0M345.7 414.7h0M341.6 407.2h0M321 410.8h0M321.7 410.3h0M333.6 403.1h0M320.6 411.9h0M322.9 417.4h0M329.2 417.9h0M327.2 405h0M327.3 404.8h0M331 417.8h0M333.4 418.1h0M329.3 418.6h0M320.9 412.4h0M325.7 418.7h0M325.1 418.7h0M342.7 418.8h0M345.8 416h0M322.5 417.1h0M344.7 411.9h0" stroke="#0f9e74" stroke-width="1" stroke-linecap="round"/>
<path d="M343.1 412.1 C344 410.8 345.3 410.8 346.8 410.6 C348.3 410.3 350.2 410.6 352 410.6 C353.9 410.5 355.9 410.3 358 410.3 C360.1 410.3 363.8 410.2 364.7 410.6 C365.6 410.9 364.2 411.7 363.2 412.5 C362.2 413.3 359.7 414.2 358.7 415.5 C357.7 416.7 357.7 418.7 357.2 419.9 C356.7 421.2 356.9 422.3 355.7 422.9 C354.6 423.5 352.3 423.5 350.5 423.7 C348.8 423.8 346.8 423.9 345.3 423.7 C343.9 423.4 342.6 423.1 341.9 422.2 C341.2 421.2 341.1 419.7 341.3 418 C341.5 416.3 342.2 413.3 343.1 412.1 Z" fill="#a3d09c"/>
<path d="M342.5 415.4h0M347.9 410.7h0M348.2 423.7h0M344.1 412h0M360.7 414.2h0M342.8 423h0M344.9 411.7h0M359.7 409.6h0M351.3 411h0M347.4 424.2h0M351.9 410.9h0M352.1 423.5h0M351 410.3h0M341.4 415h0M362.1 414.1h0M342.5 412h0M342.5 414.9h0M347.9 424.4h0M350.2 423.8h0M359 416.6h0M357.8 417.5h0M351 410.9h0M361.9 413.9h0M357.7 410.1h0M353.1 423.4h0M341.3 418.7h0M357.6 417.5h0M356.2 409.6h0M363.3 410.1h0M350.5 410.3h0M345.2 411.6h0M358.3 415.9h0M350 423.5h0M346.2 424.1h0M348.1 424.2h0M357.2 420.1h0M345 424.1h0M364.2 410.8h0M343.7 422.5h0M350.2 410.1h0M349.5 410.7h0M347 423.6h0M344.9 423.6h0M356.6 420.4h0M353.1 423.3h0M356.3 422.1h0M346.3 423.7h0M350.9 410.3h0M361.7 413.8h0M357.3 420.6h0M363.3 412.7h0M363.6 411.3h0M348.4 409.8h0M348.5 423.9h0M360.2 414.6h0M364.4 411.6h0M344.1 412h0M341.6 415.6h0M359.5 415.4h0M346.6 411h0" stroke="#a3d09c" stroke-width="1" stroke-linecap="round"/>
<path d="M360.9 413.5h0M347.3 419.6h0M350.4 413.4h0M361.4 411.8h0M358 416.4h0M358.4 411.2h0M352.4 422.2h0M343.6 418.2h0M351.1 413.6h0M344.2 413.3h0M349.3 417.9h0M348.9 416.2h0M360.3 412.7h0M358.1 414.7h0M349 418.4h0M343.9 415.8h0M355.9 418.8h0M349.3 410.7h0M344.2 417.8h0M345.3 414.4h0" stroke="#0f9e74" stroke-width="1" stroke-linecap="round"/>
<path d="M342.3 423.7 C343 422.8 345.7 422.7 347.6 422.5 C349.4 422.3 351.9 422.3 353.5 422.5 C355.1 422.7 356.7 422.9 357.2 423.7 C357.7 424.5 357.2 426.3 356.5 427.4 C355.7 428.5 354.3 429.9 352.8 430.4 C351.3 430.9 349 430.8 347.6 430.4 C346.1 429.9 344.7 429 343.8 427.8 C343 426.7 341.7 424.6 342.3 423.7 Z" fill="#666666"/>
<path d="M352.8 429.9h0M356.4 428.1h0M354.2 429.7h0M346.7 430.5h0M352.1 422.3h0M343 427.1h0M349.5 421.9h0M350.3 422.1h0M357 423.8h0M357.4 423.8h0M357 423.8h0M343.4 427.2h0M342.9 426.6h0M342.5 424.5h0M350.7 430.7h0M352.5 421.9h0M343.5 427.9h0M350.1 430.6h0M356.1 428.4h0M348.9 422.1h0M350.7 430.5h0M342.5 423.7h0M357.6 425h0M352.1 422h0M345.7 429.2h0M354.7 422.4h0M353.3 422.1h0M355.2 423.2h0M346.9 429.8h0M343.8 427.8h0M346.4 422h0M348.4 422h0M355.5 427.8h0M354.1 429.6h0M351.4 422.9h0M348 430.7h0M344.1 423.7h0M351.9 422.7h0M346.7 422.7h0M355.5 423.5h0M353.5 421.9h0M349.8 422.7h0M342.6 424.4h0M350.7 430.8h0M352.5 421.8h0M341.9 424.4h0M353.4 430.3h0M349.3 422.3h0M342.8 426.3h0M348.5 422.5h0M351.6 430.5h0M349 422.8h0M346.3 422.2h0M351.4 422.3h0M356.8 426.5h0M349 430h0M357.4 426.3h0M345.1 429.6h0M354.4 422.2h0M353.4 429.6h0" stroke="#666666" stroke-width="1" stroke-linecap="round"/>
<path d="M344.3 424.8h0M347.1 423.5h0M343.7 425.1h0M346.2 423.2h0M347.5 423.7h0M347.7 424.6h0" stroke="#cc79a7" stroke-width="1.1" stroke-linecap="round"/>
<path d="M374.1 385 C374.8 384.3 376 382.8 377.3 382.3 C378.6 381.7 380.6 381.4 381.8 381.7 C383 382 384.2 383 384.8 384.2 C385.3 385.4 385.3 387.3 385.1 388.7 C384.8 390 383.7 391.2 383.3 392.4 C382.9 393.6 383.2 395.1 382.6 395.7 C381.9 396.2 380.3 396.3 379.6 395.7 C378.8 395 378.8 392.8 378.1 391.7 C377.3 390.5 375.9 389.5 375.1 388.7 C374.3 387.8 373.3 387.1 373.2 386.4 C373 385.8 373.4 385.7 374.1 385 Z" fill="#0e6e6c"/>
<path d="M375.3 388.5h0M385 383.6h0M381.1 382.2h0M375.4 384.1h0M383.3 392.7h0M383.4 393.2h0M383.6 394h0M373.7 388h0M378.8 382.1h0M381 395.5h0M379.7 394.9h0M375.2 383.1h0M382.4 382.4h0M379.3 381.9h0M377.7 392.3h0M382.9 392.6h0M378.3 393.1h0M384.4 391h0M373.4 386.4h0M379.2 395.7h0M378.6 393.6h0M377.4 391.4h0M375.3 388.7h0M384.6 389.8h0M377.3 391.1h0M372.6 386h0M374.9 388.2h0M383.6 391.1h0M379.1 381.7h0M379.3 394.2h0M384.5 386.8h0M380.7 396.4h0M378 381.5h0M383.2 394.4h0M383.4 382.8h0M376.7 383.2h0M376.4 390.1h0M385 389.7h0M382.9 395.7h0M373.9 386h0M379.1 393.7h0M376.1 382.5h0M385.5 385.6h0M384.6 388.6h0M376.8 389.9h0M382.3 381.5h0M374.5 384h0M375.8 383.4h0M384.4 384h0M383 394h0M384.4 384h0M379.5 395.2h0M384.4 390.6h0M384.5 383h0M384.3 390.4h0M380.7 382.1h0M375.5 388.7h0M377 390.8h0M380.2 381.5h0M379.1 393.2h0" stroke="#0e6e6c" stroke-width="1" stroke-linecap="round"/>
<path d="M359.5 446 C359.9 445.4 360.5 444.8 361.3 444.5 C362.1 444.2 363.3 444.1 364.2 444.2 C365.1 444.3 366.1 444.7 366.6 445.3 C367.1 445.8 367.2 446.8 367.2 447.5 C367.3 448.2 366.7 448.7 366.9 449.3 C367.1 449.8 368 450.2 368.4 450.8 C368.9 451.4 369.7 452.6 369.6 452.9 C369.5 453.2 368.4 452.9 367.7 452.6 C366.9 452.3 366 451.3 365.1 451.1 C364.3 450.8 363.3 451.4 362.4 451.2 C361.6 451.1 360.7 450.7 360.1 450.2 C359.5 449.7 359 448.9 358.9 448.2 C358.8 447.5 359.1 446.6 359.5 446 Z" fill="#0a72b5"/>
<path d="M362.3 443.7h0M367.4 448.4h0M367.2 453h0M360.2 450.6h0M358.9 448.9h0M367.6 446.7h0M359.2 447h0M360.6 451.1h0M369.2 452.7h0M359.7 446.6h0M362.2 444.1h0M359.4 446h0M358.7 447.2h0M360.3 445.8h0M366.8 445.6h0M367.1 448.5h0M359.3 448.1h0M359.3 449.8h0M360.7 451.2h0M367.4 450.3h0M366.9 445.2h0M367.9 453.1h0M364.4 451.1h0M361.9 444.8h0M361.2 444.6h0M367.7 448.3h0M361.4 444.9h0M361.5 451h0M361.9 450.5h0M358.8 448.2h0M366.9 445.9h0M359.4 446.6h0M365.7 451.1h0M367.5 449.8h0M360 450.7h0M359.4 450.4h0M369.3 452.9h0M363.5 444.6h0M368.5 450.1h0M367.5 449.8h0M368.4 449.7h0M361.8 444.6h0M363 443.9h0M361.5 450.5h0M359.2 449.7h0M359.7 446h0M367.3 452.7h0M359.8 445.5h0M366.2 445h0M358.8 446.5h0M361.3 444.6h0M362.3 443.9h0M367.8 450.8h0M367.6 447.3h0M369.2 451.1h0M367.2 449.7h0M367 447.5h0M364.9 443.8h0M366.6 452.2h0M358.5 448.8h0" stroke="#0a72b5" stroke-width="1" stroke-linecap="round"/>
<path d="M367.2 447.3 C367.5 447.1 368.8 447 369.6 447 C370.4 447.1 371.9 447.5 372.1 447.8 C372.3 448.1 371.5 448.5 370.8 448.7 C370.1 448.8 368.4 448.9 367.8 448.7 C367.2 448.5 366.9 447.6 367.2 447.3 Z" fill="#eddf3a"/>
<path d="M369.2 448.6h0M371.4 447h0M370.6 448.5h0M372.1 448.1h0M369.8 448.7h0M371.9 447.2h0M372.1 447.9h0M368.1 448.2h0M371.4 448.7h0M369.7 447.1h0M369.2 449.1h0M369.8 448.2h0M371.4 448h0M371.9 447.8h0M367.8 449.2h0M370.8 447.9h0M367.9 446.9h0M371.8 447.8h0M370.4 448.3h0M370 449.4h0M367.9 446.6h0M372.1 447h0M371.5 448.2h0M369.5 447.3h0M371.6 448h0M371.1 447.5h0M371.6 448.7h0M368.8 449.4h0M370.1 446.8h0M367.6 448.6h0M367.6 446.9h0M370.7 448.5h0M368.4 447.4h0M371.5 447.5h0M371.8 447.5h0M367.6 447.3h0M367.7 448.1h0M369.7 449.3h0M367.6 447.5h0M370 448.7h0M370.7 446.9h0M367.5 448.2h0M367.4 447h0M371.2 446.8h0M367.6 447.4h0M368.4 449.4h0M371.9 447.1h0M369.4 448.5h0M368.7 448.5h0M368.5 446.5h0M368.3 447.5h0M368.2 448.8h0M369.7 447.4h0M368.5 446.8h0M367.3 447.8h0M371.7 447.8h0M368.5 448.7h0M367.4 447.4h0M367.9 447.9h0M368.1 447.4h0" stroke="#eddf3a" stroke-width="1" stroke-linecap="round"/>
<path d="M292.2 392.8 h12" fill="none" stroke="#d55e00" stroke-width="1.6"/>
<circle cx="380.3" cy="447.5" r="0.9" fill="#eddf3a"/>
<text x="179.6" y="290.2" font-size="7.2" text-anchor="end">10</text>
<line x1="182" y1="287.7" x2="185" y2="287.7" stroke="#777" stroke-width="0.7"/>
<text x="179.6" y="305.5" font-size="7.2" text-anchor="end">5</text>
<line x1="182" y1="303" x2="185" y2="303" stroke="#777" stroke-width="0.7"/>
<text x="179.6" y="320.9" font-size="7.2" text-anchor="end">0</text>
<line x1="182" y1="318.4" x2="185" y2="318.4" stroke="#777" stroke-width="0.7"/>
<text x="179.6" y="336.2" font-size="7.2" text-anchor="end">&#8211;5</text>
<line x1="182" y1="333.8" x2="185" y2="333.8" stroke="#777" stroke-width="0.7"/>
<text x="179.6" y="351.6" font-size="7.2" text-anchor="end">&#8211;10</text>
<line x1="182" y1="349.1" x2="185" y2="349.1" stroke="#777" stroke-width="0.7"/>
<text x="179.6" y="366.9" font-size="7.2" text-anchor="end">&#8211;15</text>
<line x1="182" y1="364.4" x2="185" y2="364.4" stroke="#777" stroke-width="0.7"/>
<text x="179.6" y="381.4" font-size="7.2" text-anchor="end">10</text>
<line x1="182" y1="378.9" x2="185" y2="378.9" stroke="#777" stroke-width="0.7"/>
<text x="179.6" y="396.8" font-size="7.2" text-anchor="end">5</text>
<line x1="182" y1="394.2" x2="185" y2="394.2" stroke="#777" stroke-width="0.7"/>
<text x="179.6" y="412.1" font-size="7.2" text-anchor="end">0</text>
<line x1="182" y1="409.6" x2="185" y2="409.6" stroke="#777" stroke-width="0.7"/>
<text x="179.6" y="427.5" font-size="7.2" text-anchor="end">&#8211;5</text>
<line x1="182" y1="425" x2="185" y2="425" stroke="#777" stroke-width="0.7"/>
<text x="179.6" y="442.8" font-size="7.2" text-anchor="end">&#8211;10</text>
<line x1="182" y1="440.3" x2="185" y2="440.3" stroke="#777" stroke-width="0.7"/>
<text x="179.6" y="458.2" font-size="7.2" text-anchor="end">&#8211;15</text>
<line x1="182" y1="455.7" x2="185" y2="455.7" stroke="#777" stroke-width="0.7"/>
<text x="187" y="468.2" font-size="7.2" text-anchor="middle">&#8211;10</text>
<line x1="187" y1="456" x2="187" y2="458.5" stroke="#777" stroke-width="0.7"/>
<text x="209.5" y="468.2" font-size="7.2" text-anchor="middle">&#8211;5</text>
<line x1="209.5" y1="456" x2="209.5" y2="458.5" stroke="#777" stroke-width="0.7"/>
<text x="232" y="468.2" font-size="7.2" text-anchor="middle">0</text>
<line x1="232" y1="456" x2="232" y2="458.5" stroke="#777" stroke-width="0.7"/>
<text x="254.5" y="468.2" font-size="7.2" text-anchor="middle">5</text>
<line x1="254.5" y1="456" x2="254.5" y2="458.5" stroke="#777" stroke-width="0.7"/>
<text x="277" y="468.2" font-size="7.2" text-anchor="middle">10</text>
<line x1="277" y1="456" x2="277" y2="458.5" stroke="#777" stroke-width="0.7"/>
<text x="291" y="468.2" font-size="7.2" text-anchor="middle">&#8211;10</text>
<line x1="291" y1="456" x2="291" y2="458.5" stroke="#777" stroke-width="0.7"/>
<text x="313.5" y="468.2" font-size="7.2" text-anchor="middle">&#8211;5</text>
<line x1="313.5" y1="456" x2="313.5" y2="458.5" stroke="#777" stroke-width="0.7"/>
<text x="336" y="468.2" font-size="7.2" text-anchor="middle">0</text>
<line x1="336" y1="456" x2="336" y2="458.5" stroke="#777" stroke-width="0.7"/>
<text x="358.5" y="468.2" font-size="7.2" text-anchor="middle">5</text>
<line x1="358.5" y1="456" x2="358.5" y2="458.5" stroke="#777" stroke-width="0.7"/>
<text x="381" y="468.2" font-size="7.2" text-anchor="middle">10</text>
<line x1="381" y1="456" x2="381" y2="458.5" stroke="#777" stroke-width="0.7"/>
<text x="235" y="282.2" font-size="8.4" text-anchor="middle" textLength="56" lengthAdjust="spacingAndGlyphs">Donor (<tspan font-style="italic">t</tspan> = 6 h)</text>
<text x="338.5" y="282.2" font-size="8.4" text-anchor="middle" textLength="67" lengthAdjust="spacingAndGlyphs">Donor (<tspan font-style="italic">t</tspan> = 1 year)</text>
<text x="235" y="376.2" font-size="8.4" text-anchor="middle" textLength="70" lengthAdjust="spacingAndGlyphs">Recipient (<tspan font-style="italic">t</tspan> = 6 h)</text>
<text x="338" y="376.2" font-size="8.4" text-anchor="middle" textLength="80" lengthAdjust="spacingAndGlyphs">Recipient (<tspan font-style="italic">t</tspan> = 1 year)</text>
<text x="162.2" y="372" font-size="8.4" text-anchor="middle" textLength="32" lengthAdjust="spacingAndGlyphs" transform="rotate(-90 162.2 372)">UMAP-<tspan font-style="italic">Y</tspan></text>
<text x="287" y="481.4" font-size="8.4" text-anchor="middle" textLength="32" lengthAdjust="spacingAndGlyphs">UMAP-<tspan font-style="italic">X</tspan></text>
<circle cx="394.7" cy="382.9" r="2.5" fill="#0e6e6c"/>
<text x="402.7" y="385.5" font-size="7.6" textLength="22.3" lengthAdjust="spacingAndGlyphs">B cells</text>
<circle cx="394.7" cy="393.3" r="2.5" fill="#a3d09c"/>
<text x="402.7" y="395.9" font-size="7.6" textLength="38.1" lengthAdjust="spacingAndGlyphs">CD4 T cells</text>
<circle cx="394.7" cy="403.1" r="2.5" fill="#0f9e74"/>
<text x="402.7" y="405.7" font-size="7.6" textLength="38.1" lengthAdjust="spacingAndGlyphs">CD8 T cells</text>
<circle cx="394.7" cy="412.3" r="2.5" fill="#eddf3a"/>
<text x="402.7" y="414.9" font-size="7.6" textLength="13.6" lengthAdjust="spacingAndGlyphs">DCs</text>
<circle cx="394.7" cy="422.6" r="2.5" fill="#0a72b5"/>
<text x="402.7" y="425.2" font-size="7.6" textLength="46" lengthAdjust="spacingAndGlyphs">Macrophages</text>
<circle cx="394.7" cy="432.8" r="2.5" fill="#d55e00"/>
<text x="402.7" y="435.4" font-size="7.6" textLength="27.6" lengthAdjust="spacingAndGlyphs">NK cells</text>
<circle cx="394.7" cy="442.9" r="2.5" fill="#cc79a7"/>
<text x="402.7" y="445.5" font-size="7.6" textLength="37.2" lengthAdjust="spacingAndGlyphs">Other cells</text>
<circle cx="394.7" cy="453" r="2.5" fill="#666666"/>
<text x="402.7" y="455.6" font-size="7.6" textLength="43.4" lengthAdjust="spacingAndGlyphs">Other T cells</text>
<rect x="41" y="512.6" width="60.6" height="65.4" fill="none" stroke="#555" stroke-width="0.9"/>
<path d="M51.8 521 C52.5 518.8 53.6 518 55.4 517 C57.2 516 60.2 515.5 62.6 515.2 C65 514.9 67.5 514.9 69.9 515.2 C72.3 515.5 75.2 516.2 77.1 517 C79.1 517.8 80.6 518.7 81.6 520.1 C82.6 521.5 82.9 523.8 83 525.6 C83.2 527.4 83 529.2 82.5 531 C82 532.8 80.8 534.8 79.8 536.4 C78.7 538.1 77.4 539.5 76.2 541 C75 542.5 73.7 544 72.6 545.5 C71.6 547 70.7 549.6 69.9 550 C69.1 550.5 68.5 549.4 68 548.2 C67.5 547 68 543.9 67.1 542.8 C66.2 541.8 64.4 542.4 62.6 541.9 C60.8 541.4 58.1 540.6 56.3 540 C54.5 539.4 52.7 539.9 51.8 538.2 C50.9 536.5 50.9 532.9 50.9 530.1 C50.9 527.2 51.1 523.2 51.8 521 Z" fill="#a3d09c"/>
<path d="M72.7 515.9h0M80.9 522.5h0M56.5 517h0M63 516.7h0M77.6 538h0M75.9 539.9h0M81.8 521.6h0M62.4 541h0M51.3 534.2h0M52.6 537.5h0M72.8 545.1h0M73.6 545.1h0M60 515.8h0M62.4 514.6h0M65.1 541.5h0M70.6 549.4h0M64.6 541.2h0M70.3 549.7h0M73.4 544.3h0M76.9 516.5h0M52.2 536.8h0M50.7 528.9h0M76.3 517.2h0M56.3 516.7h0M74.9 542.1h0M51.5 531.6h0M69.1 548.5h0M58.3 540.5h0M52.7 522h0M57.5 540.9h0M61.4 515.2h0M67.4 547.1h0M53.5 519.7h0M52.1 520.4h0M83.1 526.8h0M51.9 520.7h0M74.4 516.3h0M82.5 530.5h0M82.2 519.9h0M53.6 538h0M78.8 538.8h0M73.2 517.3h0M80.7 535.1h0M55.3 538.3h0M62.5 515.6h0M74 544.5h0M80.9 520.4h0M68.1 545.1h0M70 549.6h0M57.1 515.8h0M53.7 537.7h0M50.7 532.3h0M59.8 541.4h0M82.5 522.5h0M52.6 537.3h0M53.8 538.9h0M50.9 528.5h0M72.3 544.7h0M73.4 516.2h0M60.5 516.8h0M68.6 514.7h0M77.4 518h0M69.1 548.7h0M52.1 537.3h0M71 515.9h0M67.1 515h0M64.9 514.6h0M81.4 523.4h0M67.4 547.4h0M71.9 516.3h0M76.2 541.9h0M59.8 516.4h0M71.6 548.2h0M59.5 541.2h0M71.6 546.4h0M80.9 522.3h0M82.6 528.3h0M74.4 541.5h0M52.5 522.6h0M74.7 541.6h0M69.5 547.8h0M52.3 524.6h0M71.7 516.2h0M81.6 533.3h0M58.6 541h0M65.7 542.2h0M81.4 531.4h0M64.4 540.7h0M52.7 521.3h0M76.2 517.6h0" stroke="#a3d09c" stroke-width="1" stroke-linecap="round"/>
<path d="M56.7 549.3h0M58.8 550.2h0M47.3 552.7h0M56.6 549.5h0M58 546.2h0M55.2 553.4h0M69.7 550.7h0M54.3 550h0M64 546.9h0M48.8 552.1h0M54.7 548.6h0M56.5 545.4h0M60.4 540.8h0M60 554.6h0M64.1 549h0M61.6 550.7h0M68.4 549.1h0M52.4 539.6h0M51.1 550.9h0M48.4 552h0M55.9 541.6h0M63.3 541.4h0M54.4 541h0M57.3 539.6h0M57.4 551.1h0M49.3 546.8h0M46.8 552.9h0M67.3 545.4h0M67 553.1h0M57.5 547.3h0M48.2 551h0M58.2 544.7h0M67.3 552.8h0M51.5 553.3h0M58.3 545.2h0M57 547.3h0M58.9 550.2h0M56.7 551.2h0M49 546.6h0M56.8 553.9h0" stroke="#a3d09c" stroke-width="1" stroke-linecap="round"/>
<path d="M56.9 546.4h0M65.1 552.5h0M51.1 539.9h0M47.7 554.5h0M54.4 542.8h0M59 554.1h0M60 547.7h0M53.7 540.7h0M62.8 553.6h0M48.2 554.9h0M52.1 544.3h0M67.1 553.6h0" stroke="#006d6b" stroke-width="1" stroke-linecap="round"/>
<path d="M96.4 532.7h0M91.2 532.1h0M93.3 534.3h0M87.1 534.3h0M93.4 533h0M97.4 534.6h0M83.8 532.1h0M87.8 533.9h0M97.6 534.3h0M96.4 532.3h0" stroke="#a3d09c" stroke-width="1" stroke-linecap="round"/>
<path d="M43.6 559.1 C44 557.4 45.5 557.1 46.3 556.3 C47.1 555.5 47.7 554.5 48.6 554.5 C49.5 554.5 50.7 556.3 51.8 556.3 C52.9 556.3 54.4 554.4 55.4 554.5 C56.5 554.7 57.1 557.2 58.1 557.2 C59.2 557.2 60.7 555 61.7 554.5 C62.7 554 63.3 553.8 64 554.1 C64.8 554.4 65.4 556.1 66.2 556.3 C67 556.5 68.8 554.3 69 555.4 C69.2 556.4 68.2 560.6 67.6 562.7 C67 564.8 66.4 566.5 65.3 568.1 C64.1 569.8 62.4 571.4 60.8 572.6 C59.1 573.8 57.2 575 55.4 575.3 C53.6 575.6 51.5 575 50 574.4 C48.5 573.8 47.3 573.1 46.3 571.7 C45.3 570.4 44.5 568.4 44.1 566.3 C43.6 564.2 43.2 560.7 43.6 559.1 Z" fill="#006d6b"/>
<path d="M64.6 567.9h0M44.3 559.2h0M61.5 570.6h0M67 565.2h0M57.1 557.1h0M48 554.4h0M59.6 557.3h0M65.6 567.3h0M44.3 562.2h0M58.6 557.5h0M46.1 571.2h0M68 558h0M44.3 560.2h0M55.2 555.2h0M63.9 554.5h0M55.8 575.9h0M67 564.3h0M62.3 569.6h0M67.4 560.8h0M61.4 554.5h0M66.5 564.2h0M57 557.3h0M67.2 563.6h0M59.8 557.3h0M45.6 566.9h0M58.7 556.1h0M61.5 572.9h0M46.7 570.8h0M64.6 555h0M57.8 574.6h0M66.6 557.2h0M57.6 573.6h0M49.9 554.9h0M59.2 555.6h0M60.4 572.2h0M44.5 565.7h0M44.3 566.2h0M66.7 565.1h0M66.9 560.4h0M68.2 563.1h0M65.9 555.5h0M61.3 571.6h0M66.7 561.4h0M52 575.3h0M45.8 557.9h0M62.6 569.8h0M67.7 564h0M67.3 559.4h0M63.1 571.2h0M50.7 557.1h0M66 567.4h0M55.6 573.7h0M46.3 570.1h0M48.7 574.1h0M67.1 560.4h0M65.2 554.8h0M46.4 570h0M43.7 558.2h0M64.5 567h0M61.2 570.6h0M49.7 555.7h0M55.1 554.7h0M53 556h0M46.6 557h0M59.7 571.7h0M51.5 575.2h0M46 569.9h0M44.3 564.6h0M48.7 555.4h0M55 556.3h0M64.9 566.1h0M67.5 563.1h0M58.8 572.7h0M68.2 560.4h0M68 556.7h0M58 556.6h0M67.1 562.2h0M47.4 555.3h0M43.7 561.6h0M51.3 574.7h0M48.8 554.8h0M46.4 569.7h0M46.7 556.9h0M61.5 571.5h0M58.7 573.2h0M55.4 555.4h0M51.5 556.1h0M46.6 571.3h0M66.2 564.1h0M67.4 563h0" stroke="#006d6b" stroke-width="1" stroke-linecap="round"/>
<text x="36" y="529.5" font-size="7.2" text-anchor="end">3</text>
<line x1="38.6" y1="527" x2="41" y2="527" stroke="#777" stroke-width="0.7"/>
<text x="36" y="544.7" font-size="7.2" text-anchor="end">0</text>
<line x1="38.6" y1="542.2" x2="41" y2="542.2" stroke="#777" stroke-width="0.7"/>
<text x="36" y="559.9" font-size="7.2" text-anchor="end">&#8211;3</text>
<line x1="38.6" y1="557.4" x2="41" y2="557.4" stroke="#777" stroke-width="0.7"/>
<text x="36" y="575.1" font-size="7.2" text-anchor="end">&#8211;6</text>
<line x1="38.6" y1="572.6" x2="41" y2="572.6" stroke="#777" stroke-width="0.7"/>
<text x="62.4" y="589.2" font-size="7.2" text-anchor="middle">0</text>
<line x1="62.4" y1="578" x2="62.4" y2="580.4" stroke="#777" stroke-width="0.7"/>
<text x="83.6" y="589.2" font-size="7.2" text-anchor="middle">5</text>
<line x1="83.6" y1="578" x2="83.6" y2="580.4" stroke="#777" stroke-width="0.7"/>
<text x="71" y="598.2" font-size="8.4" text-anchor="middle" textLength="32" lengthAdjust="spacingAndGlyphs">UMAP-<tspan font-style="italic">X</tspan></text>
<text x="20" y="546" font-size="8.4" text-anchor="middle" textLength="30" lengthAdjust="spacingAndGlyphs" transform="rotate(-90 20 546)">UMAP-<tspan font-style="italic">Y</tspan></text>
<text x="104.6" y="537.2" font-size="8.4" textLength="28" lengthAdjust="spacingAndGlyphs">Cluster</text>
<circle cx="107.4" cy="543.6" r="1.6" fill="#006d6b"/>
<circle cx="107.4" cy="552" r="1.6" fill="#a3d09c"/>
<text x="111" y="546.2" font-size="8">1</text>
<text x="111" y="554.6" font-size="8">2</text>
<line x1="172.7" y1="500.5" x2="172.7" y2="576.3" stroke="#c4c4c4" stroke-width="1.4"/>
<line x1="172" y1="576.3" x2="213.6" y2="576.3" stroke="#888" stroke-width="0.8"/>
<text x="167" y="575.5" font-size="7.2" text-anchor="end">0</text>
<line x1="169.6" y1="573" x2="172" y2="573" stroke="#888" stroke-width="0.7"/>
<text x="167" y="540.9" font-size="7.2" text-anchor="end">0.5</text>
<line x1="169.6" y1="538.4" x2="172" y2="538.4" stroke="#888" stroke-width="0.7"/>
<text x="167" y="506.2" font-size="7.2" text-anchor="end">1.0</text>
<line x1="169.6" y1="503.7" x2="172" y2="503.7" stroke="#888" stroke-width="0.7"/>
<rect x="173.7" y="503.7" width="11.7" height="69.3" fill="#006d6b" stroke="none" stroke-width="0"/>
<rect x="173.7" y="509.2" width="11.7" height="63.8" fill="#a3d09c" stroke="none" stroke-width="0"/>
<line x1="179.6" y1="576.3" x2="179.6" y2="578.6" stroke="#888" stroke-width="0.7"/>
<rect x="187.9" y="503.7" width="11.4" height="69.3" fill="#006d6b" stroke="none" stroke-width="0"/>
<rect x="187.9" y="566.8" width="11.4" height="6.2" fill="#a3d09c" stroke="none" stroke-width="0"/>
<line x1="193.6" y1="576.3" x2="193.6" y2="578.6" stroke="#888" stroke-width="0.7"/>
<rect x="202" y="503.7" width="11.4" height="69.3" fill="#006d6b" stroke="none" stroke-width="0"/>
<rect x="202" y="525.2" width="11.4" height="47.8" fill="#a3d09c" stroke="none" stroke-width="0"/>
<line x1="207.7" y1="576.3" x2="207.7" y2="578.6" stroke="#888" stroke-width="0.7"/>
<text x="182.3" y="582.2" font-size="8" text-anchor="end" textLength="21.5" lengthAdjust="spacingAndGlyphs" transform="rotate(-45 182.3 582.2)">Donor</text>
<text x="196.4" y="582.2" font-size="8" text-anchor="end" textLength="34.5" lengthAdjust="spacingAndGlyphs" transform="rotate(-45 196.4 582.2)">Recipient</text>
<text x="210.5" y="582.2" font-size="8" text-anchor="end" textLength="34.5" lengthAdjust="spacingAndGlyphs" transform="rotate(-45 210.5 582.2)">Recipient</text>
<text x="151" y="538.2" font-size="8.4" text-anchor="middle" textLength="63" lengthAdjust="spacingAndGlyphs" transform="rotate(-90 151 538.2)">Cellular identity</text>
<text x="180.5" y="496.9" font-size="8" textLength="12.2" lengthAdjust="spacingAndGlyphs">6 h</text>
<text x="196.8" y="496.9" font-size="8" textLength="22.5" lengthAdjust="spacingAndGlyphs">1 year</text>
<line x1="173.7" y1="499.7" x2="197.6" y2="499.7" stroke="#555" stroke-width="0.7"/>
<rect x="40.6" y="636.6" width="50.2" height="77.4" fill="none" stroke="#444" stroke-width="0.9"/>
<text x="65.1" y="621" font-size="8.4" text-anchor="middle" textLength="24" lengthAdjust="spacingAndGlyphs">Donor</text>
<text x="65.1" y="631.2" font-size="8.4" text-anchor="middle" textLength="29.5" lengthAdjust="spacingAndGlyphs">(<tspan font-style="italic">t</tspan> = 6 h)</text>
<path d="M42.8 691.9 C43.1 689.9 44.3 689.5 45 688.6 C45.7 687.6 46.2 686.4 47 686.4 C47.7 686.4 48.7 688.6 49.6 688.6 C50.5 688.6 51.7 686.2 52.6 686.4 C53.5 686.6 54 689.7 54.8 689.7 C55.7 689.7 57 687 57.8 686.4 C58.6 685.8 59.1 685.6 59.7 685.9 C60.4 686.3 60.9 688.3 61.6 688.6 C62.3 688.8 63.7 686.2 63.9 687.5 C64.1 688.7 63.2 693.7 62.7 696.2 C62.2 698.8 61.7 700.8 60.8 702.8 C59.8 704.8 58.4 706.8 57.1 708.2 C55.7 709.6 54.1 711.1 52.6 711.4 C51.1 711.8 49.4 711.1 48.1 710.3 C46.9 709.6 45.8 708.7 45 707.1 C44.2 705.5 43.6 703.1 43.2 700.6 C42.8 698 42.5 693.9 42.8 691.9 Z" fill="#e2e2e2"/>
<path d="M57.9 684.5h0M62.1 681.8h0M61 673.8h0M56.9 671.8h0M49.9 669.7h0M55.6 671.4h0M61.8 682.4h0M52.9 680.1h0M58.6 677.3h0M58.6 676.3h0M54.7 682.3h0M49 673.3h0M51.4 667.5h0M50.1 676.7h0M46.5 680.1h0M51.9 682h0M63.7 686.9h0M57.8 679.5h0M53.2 674.7h0M55.3 669h0M62.9 680.9h0M57.8 673.7h0M45.9 686.3h0M63 680h0M48.4 674.1h0M59.7 684.6h0M55.7 670h0M61.1 674.2h0M58.2 684.1h0M51.4 680.9h0M45.6 686.7h0M52.4 669.3h0M55.4 674.2h0M53.5 677.9h0M64.2 681.9h0M55.3 677.5h0M47.3 684.8h0M54.9 670.5h0M63.7 685h0M57.8 684.8h0M49.8 678.8h0M60 678.5h0M53 679.2h0M55.2 681.9h0M64.1 683.8h0M47.1 676h0M51.7 672.2h0M51.9 667.7h0M50.6 678.5h0M51 676.3h0" stroke="#e2e2e2" stroke-width="1.4" stroke-linecap="round"/>
<path d="M49.6 646.1 C50.2 643.5 51.1 642.5 52.6 641.3 C54.1 640.1 56.6 639.5 58.6 639.1 C60.6 638.7 62.6 638.7 64.6 639.1 C66.6 639.5 69 640.3 70.6 641.3 C72.2 642.3 73.5 643.3 74.3 645 C75.2 646.7 75.4 649.5 75.5 651.7 C75.6 653.8 75.5 656 75.1 658.1 C74.6 660.3 73.7 662.6 72.8 664.6 C72 666.6 70.8 668.3 69.8 670.1 C68.8 672 67.8 673.8 66.9 675.6 C66 677.4 65.3 680.5 64.6 681 C64 681.5 63.4 680.2 63 678.8 C62.7 677.4 63.1 673.6 62.3 672.3 C61.6 671.1 60.1 671.8 58.6 671.2 C57.1 670.7 54.8 669.7 53.3 669 C51.8 668.2 50.3 668.8 49.6 666.8 C48.9 664.8 48.9 660.5 48.9 657 C48.9 653.6 49 648.7 49.6 646.1 Z" fill="#a3d09c"/>
<path d="M71 642.7h0M74.6 657.1h0M71.9 643h0M67.6 672.8h0M63.1 678.2h0M55.4 639.6h0M60.5 638.7h0M63.5 640h0M73.9 647.8h0M67.6 639.9h0M63.4 638.6h0M62.9 673.9h0M68.8 642h0M62.8 674.9h0M65 678.6h0M74.5 661.2h0M74.4 651h0M75 651.7h0M55.9 641.3h0M49.6 665.3h0M75.2 651.7h0M69.1 640.4h0M59 640.1h0M70 667.4h0M50.1 651.6h0M49.9 654.1h0M50.9 643.3h0M50.2 649.7h0M64.6 679.6h0M74.2 660.2h0M60.4 639.7h0M71 641h0M49.8 664.4h0M49.3 663.7h0M67 675.7h0M51.3 668.2h0M63.3 678.4h0M74.8 645h0M71.8 665.9h0M52.3 668.8h0M63.6 639h0M53.6 669.4h0M63.7 680.7h0M55.3 641.3h0M71.7 667.7h0M72.1 663.6h0M75 654.2h0M74.8 658.1h0M52.8 643h0M66.7 675.9h0M71.6 641.8h0M49.8 655.7h0M75 652.4h0M68.4 673.3h0M52 643.7h0M61.8 639.7h0M50.3 643.8h0M61.9 640h0M64.3 678.7h0M63.2 677h0M51.1 646.1h0M71.3 665.4h0M52.7 643h0M72.7 665.3h0M75.6 656.5h0M66.8 676.2h0M61.7 672.6h0M62.8 672.8h0M61.1 670.3h0M72 643.8h0M74.4 655h0M52.1 667h0M65.9 678.4h0M50 658.9h0M49.1 653.2h0M52.3 667.4h0M50.9 666.2h0M73.5 662.5h0M54.3 668.5h0M68.4 670.7h0M51.2 642.4h0M73.4 664.1h0M50.4 668h0M49.1 662.8h0M59.4 640.2h0M62.7 674.7h0M65.7 677.5h0M49.4 653.4h0M68.8 671.5h0M74.6 657.1h0" stroke="#a3d09c" stroke-width="1" stroke-linecap="round"/>
<path d="M55.6 680.3h0M46.4 686h0M62.3 684h0M54.3 669.2h0M48.3 680.7h0M55 672.1h0M53.7 681.4h0M62.3 679.4h0M53.1 683.1h0M54.4 672.5h0M51.9 673.5h0M64.3 681.7h0M48.6 684.7h0M62 676.7h0M55 684.2h0M50.7 668.2h0M53.6 682.9h0M56.8 685.5h0M55.2 673.8h0M50.8 671.7h0M57 684h0M48.2 672.6h0M53 681.8h0M54.1 668.9h0M56 671.7h0M60.2 681.9h0M57.2 679.8h0M54.2 676.4h0M58.2 684.3h0M61.7 684.5h0" stroke="#a3d09c" stroke-width="1" stroke-linecap="round"/>
<path d="M44.6 699.4h0M61.7 697h0M46.4 703.2h0M46.9 695.8h0M59 696.8h0M44.7 689.8h0M51.4 693h0M45.8 703.8h0M43.1 695.3h0M57.9 703h0M52.9 692.3h0M53.6 704.8h0M48.3 706.2h0M58.3 704.6h0M45.2 698.2h0M60.9 688.9h0M54.9 692.7h0M51.2 698.7h0M47.4 704.8h0M60.6 693.7h0M53.6 696.8h0M47.1 699.5h0M48.2 690.4h0M59.6 691.1h0M48.2 687.7h0M52.3 687.2h0M46.8 693.3h0M59.4 696.6h0M50 708.2h0M58.4 697.1h0M47.9 699.3h0M43.8 700h0M59.6 703.4h0M49.3 700.7h0M56.6 688.9h0M53.5 689.8h0M55.4 691.4h0M48.5 695.9h0M52.4 697.7h0M48.1 698.6h0M48.2 699.4h0M59.7 689h0M59.8 689.9h0M49.1 690.5h0M62.1 692.2h0M44.8 695h0M56.9 694.3h0M56.1 693.8h0M53.7 696.4h0M58.7 697.8h0M53.7 706h0M53.8 689.2h0M47.2 698.5h0M55 699.7h0M57.3 689h0M59.3 694.1h0M48.3 703.4h0M58.3 702h0M59.8 703.3h0M59.8 700.8h0M52.6 692.9h0M62.1 691.9h0M45.6 694.8h0M48 693.9h0M56.6 697.4h0M45.9 696.3h0M43.6 697.4h0M46.2 707.9h0M54.3 691.1h0M53.5 692h0M43.6 699.5h0M58.9 693.1h0M56.5 687.8h0M53.7 691.8h0M43.5 697.5h0M49.9 701.4h0M49.4 692.4h0M52.4 689.9h0M53.7 692.5h0M55.7 694.8h0M45.2 696.9h0M61.6 694.5h0M54.8 692.2h0M58.1 694.4h0M53.1 691.8h0M43.1 695.5h0M44.4 700.8h0M57.7 687.5h0M45.6 690.8h0M49.1 698h0M63.1 691.6h0M57.7 696h0M52 698h0M58.7 690.7h0M50.8 693.3h0M46.5 702.5h0M60.5 687.4h0M56.5 691.6h0M44.6 698.1h0M51.6 699.5h0M44.4 704.3h0M57.8 700h0M54.7 703.5h0M43.7 695.2h0M47 691.3h0M58.9 687.9h0M57.5 697.4h0M52.5 709.8h0M55.1 699h0M60.6 690.8h0M53.2 698.7h0M45.3 705.7h0M45 692.2h0M46.3 689.1h0M45.7 704.6h0M47.8 703.5h0M45 694.2h0M63.3 690.9h0M53 705.9h0M47.9 692.7h0M45.6 704.1h0M62.3 692.2h0M55.4 698.2h0M54 703.4h0M45.7 692.4h0M59.7 702.8h0M55.6 692.4h0M48.4 704.7h0M55.8 692.4h0M52 699.9h0M50.3 691.6h0M49.1 693.3h0M43 694h0M49.6 692h0M45.8 688.2h0M48.6 701.8h0M53.9 703.9h0M56.1 693.1h0M51.2 689.6h0M53.5 697.7h0M63.2 692.2h0M53.8 691.5h0M54.2 696.9h0M50 696h0M50.6 698h0M51.1 694.8h0M51.5 710.7h0M55.2 699.7h0M48 702.8h0M46.5 699.1h0" stroke="#006d6b" stroke-width="1" stroke-linecap="round"/>
<path d="M56.1 672.9h0M55.1 671.6h0M57.3 686.2h0M58 677.4h0M51.7 669.4h0M49.2 673.8h0M53.6 678.1h0M54.7 679.9h0M49.2 672.9h0M50 667.6h0" stroke="#006d6b" stroke-width="1" stroke-linecap="round"/>
<text x="58.4" y="725.4" font-size="7.2" text-anchor="middle">0</text>
<line x1="58.4" y1="714" x2="58.4" y2="716.4" stroke="#777" stroke-width="0.7"/>
<text x="76" y="725.4" font-size="7.2" text-anchor="middle">5</text>
<line x1="76" y1="714" x2="76" y2="716.4" stroke="#777" stroke-width="0.7"/>
<rect x="93.2" y="636.6" width="50.2" height="77.4" fill="none" stroke="#444" stroke-width="0.9"/>
<text x="118.2" y="621" font-size="8.4" text-anchor="middle" textLength="37" lengthAdjust="spacingAndGlyphs">Recipient</text>
<text x="117.7" y="631.2" font-size="8.4" text-anchor="middle" textLength="29.5" lengthAdjust="spacingAndGlyphs">(<tspan font-style="italic">t</tspan> = 6 h)</text>
<path d="M102.2 646.1 C102.8 643.5 103.7 642.5 105.2 641.3 C106.7 640.1 109.2 639.5 111.2 639.1 C113.2 638.7 115.2 638.7 117.2 639.1 C119.2 639.5 121.6 640.3 123.2 641.3 C124.8 642.3 126.1 643.3 126.9 645 C127.8 646.7 128 649.5 128.1 651.7 C128.2 653.8 128.1 656 127.7 658.1 C127.2 660.3 126.3 662.6 125.4 664.6 C124.6 666.6 123.4 668.3 122.4 670.1 C121.4 672 120.4 673.8 119.5 675.6 C118.6 677.4 117.9 680.5 117.2 681 C116.6 681.5 116 680.2 115.6 678.8 C115.3 677.4 115.7 673.6 114.9 672.3 C114.2 671.1 112.7 671.8 111.2 671.2 C109.7 670.7 107.4 669.7 105.9 669 C104.4 668.2 102.9 668.8 102.2 666.8 C101.5 664.8 101.5 660.5 101.5 657 C101.5 653.6 101.6 648.7 102.2 646.1 Z" fill="#e2e2e2"/>
<path d="M102.8 681.6h0M109 679.8h0M99.7 683.1h0M100.5 678.3h0M102.9 673.2h0M115.3 686.4h0M103.4 685.1h0M105.9 680h0M110.3 685.1h0M115.3 684.9h0M111.4 671.3h0M113.4 681h0M104.6 680.8h0M104.5 683.2h0M106.1 681.2h0M106.7 669.3h0M105.3 678.8h0M112.6 672.6h0M107.9 680.2h0M103.4 667.6h0M113.2 673.3h0M110.9 677.3h0M112.7 677.5h0M108.6 670.4h0M107.2 677.6h0M107 671.9h0M112.2 680.7h0M113.1 679.8h0M110.9 679.7h0M113.1 679.7h0M104.3 678.5h0M112 672.3h0M112.6 678.8h0M101.5 677.1h0M107.6 680h0M107.1 678h0M104.9 674.9h0M108.6 671.8h0M103.2 673.2h0M104.6 670.9h0M107.2 673.9h0M107.9 673.9h0M105.1 672.1h0M114.2 680.1h0M105.7 680h0M104.1 679h0M108.6 673.9h0M103.2 671.3h0M115.1 679.6h0M107.3 683.2h0" stroke="#e2e2e2" stroke-width="1.4" stroke-linecap="round"/>
<path d="M108.1 645.3h0M118.6 662.3h0M118.5 673.2h0M116.8 673.3h0M115.9 667.4h0M108.5 650h0M111.1 649.9h0M121.4 665.3h0M116.2 656.7h0M119.7 658h0M127.3 655.2h0M112.3 643h0M125.3 656h0M101.7 654.9h0M112.4 656.9h0M115.6 641.6h0M106 668.9h0M111.4 654.2h0M110.9 652.9h0M116.9 650.7h0M126.1 652.1h0M105.7 663.8h0M110.8 644.2h0M125.7 649.4h0M118.4 656.5h0M115.1 653.5h0M114.7 664.3h0M112.3 652.5h0M113 664.1h0M107.1 666.1h0M114.2 669.1h0M116.9 648.6h0M104.5 660.6h0M106.5 653.9h0M119.5 671.7h0M107.6 668.3h0M110.2 643.6h0M124.7 647.8h0M112 661.8h0M106.8 661.7h0M119.9 659.5h0M122.8 650.8h0M121.3 670h0M108.1 655.9h0M120.7 660.3h0M116.2 648.6h0M119.7 661.3h0M122.6 663.8h0M110 658.5h0M117.1 662.1h0M123.3 651.4h0M114.9 658.2h0M117 680.3h0M123.1 662.2h0M105.7 645.2h0M116.3 650h0M121.2 654.9h0M118.4 671.8h0M106.1 658.4h0M113.6 661.5h0" stroke="#a3d09c" stroke-width="1" stroke-linecap="round"/>
<path d="M95.4 691.9 C95.7 689.9 96.9 689.5 97.6 688.6 C98.3 687.6 98.8 686.4 99.6 686.4 C100.3 686.4 101.3 688.6 102.2 688.6 C103.1 688.6 104.3 686.2 105.2 686.4 C106.1 686.6 106.6 689.7 107.4 689.7 C108.3 689.7 109.6 687 110.4 686.4 C111.2 685.8 111.7 685.6 112.3 685.9 C113 686.3 113.5 688.3 114.2 688.6 C114.9 688.8 116.3 686.2 116.5 687.5 C116.7 688.7 115.8 693.7 115.3 696.2 C114.8 698.8 114.3 700.8 113.4 702.8 C112.4 704.8 111 706.8 109.7 708.2 C108.3 709.6 106.7 711.1 105.2 711.4 C103.7 711.8 102 711.1 100.7 710.3 C99.5 709.6 98.4 708.7 97.6 707.1 C96.8 705.5 96.2 703.1 95.8 700.6 C95.4 698 95.1 693.9 95.4 691.9 Z" fill="#006d6b"/>
<path d="M96.2 691.5h0M108.2 688h0M97.9 687.7h0M116.3 687.1h0M115.9 693.9h0M104.2 709.7h0M112.3 685.2h0M95.2 695.6h0M108.7 707.7h0M114.5 695.4h0M103.2 689h0M96.9 700.9h0M97.7 706.9h0M113.9 697.9h0M115.1 687.9h0M96.7 689.5h0M103 689.8h0M111.5 686.2h0M96.1 694.5h0M116.4 690.9h0M114.3 688.4h0M95.8 697.3h0M95.4 694.8h0M98.2 689.8h0M99.4 688.1h0M111.6 705.5h0M98.5 707.7h0M95.8 693.6h0M96.6 697.7h0M115.1 689.1h0M104.5 710.4h0M96.8 691h0M102.4 711.1h0M100.3 686.2h0M114.1 701.9h0M97.8 707h0M96.1 692.3h0M116.4 690.2h0M115.7 689.8h0M98.1 705.3h0M112.7 685.3h0M107.9 708.4h0M108.8 707.4h0M99.8 708.4h0M98.9 709.1h0M96.2 697.5h0M100.1 686.4h0M109.4 708.5h0M95.6 698.6h0M115.1 696h0M95.6 698.2h0M97 702.6h0M112.2 702.3h0M97.3 703.3h0M114.1 702.1h0M106.5 689.4h0M101.1 688.6h0M113.4 687.6h0M99.4 707.4h0M103.3 710.7h0M113.1 700h0M96.2 699.7h0M99.7 688.1h0M97.3 688.3h0M108.5 709.5h0M103 709.9h0M104.3 688.7h0M95.9 692h0M96.2 693.7h0M114.8 694.5h0M96.3 698.3h0M99.5 686.6h0M105.9 710.9h0M104.1 687.5h0M102.7 688.6h0M100 688h0M105.8 689.5h0M100.5 688.1h0M109.4 708.8h0M109.9 707.1h0M110.8 707.1h0M114.7 694.8h0M110.6 707.1h0M112.3 687.8h0M98 688.6h0M114.5 698.6h0M95.3 691.3h0M98.1 707.2h0M110.5 686.7h0M97.6 687.7h0" stroke="#006d6b" stroke-width="1" stroke-linecap="round"/>
<path d="M114.1 671.4h0M101.1 681.1h0M98.6 681h0M107.8 671.5h0M107.5 669.4h0M97.9 685.1h0M110.9 685.2h0M115.6 686.8h0M105.4 675.9h0M109.3 685.4h0M103.9 679.9h0M112.3 670.9h0M111.4 684.1h0M100.6 680.4h0M106.5 676.4h0" stroke="#006d6b" stroke-width="1" stroke-linecap="round"/>
<text x="111" y="725.4" font-size="7.2" text-anchor="middle">0</text>
<line x1="111" y1="714" x2="111" y2="716.4" stroke="#777" stroke-width="0.7"/>
<text x="128.6" y="725.4" font-size="7.2" text-anchor="middle">5</text>
<line x1="128.6" y1="714" x2="128.6" y2="716.4" stroke="#777" stroke-width="0.7"/>
<rect x="145.6" y="636.6" width="51" height="77.4" fill="none" stroke="#444" stroke-width="0.9"/>
<text x="170.6" y="621" font-size="8.4" text-anchor="middle" textLength="37" lengthAdjust="spacingAndGlyphs">Recipient</text>
<text x="170.1" y="631.2" font-size="8.4" text-anchor="middle" textLength="38" lengthAdjust="spacingAndGlyphs">(<tspan font-style="italic">t</tspan> = 1 year)</text>
<path d="M154.2 646.1 C154.8 643.5 155.7 642.5 157.2 641.3 C158.7 640.1 161.2 639.5 163.2 639.1 C165.2 638.7 167.2 638.7 169.2 639.1 C171.2 639.5 173.6 640.3 175.2 641.3 C176.8 642.3 178.1 643.3 178.9 645 C179.8 646.7 180 649.5 180.1 651.7 C180.2 653.8 180.1 656 179.7 658.1 C179.2 660.3 178.3 662.6 177.4 664.6 C176.6 666.6 175.4 668.3 174.4 670.1 C173.4 672 172.4 673.8 171.5 675.6 C170.6 677.4 169.9 680.5 169.2 681 C168.6 681.5 168 680.2 167.6 678.8 C167.3 677.4 167.7 673.6 166.9 672.3 C166.2 671.1 164.7 671.8 163.2 671.2 C161.7 670.7 159.4 669.7 157.9 669 C156.4 668.2 154.9 668.8 154.2 666.8 C153.5 664.8 153.5 660.5 153.5 657 C153.5 653.6 153.6 648.7 154.2 646.1 Z" fill="#a3d09c"/>
<path d="M155.1 668h0M170.5 678.1h0M162.1 669.7h0M180 657.8h0M161.4 669.4h0M171.8 673.4h0M153.6 653.3h0M167.7 672.8h0M174.6 642.6h0M177.7 645.7h0M170.4 675.2h0M154.6 662.3h0M179.9 651.5h0M170.4 676h0M178.8 657.7h0M170.7 640.2h0M164.9 638.6h0M176.8 642h0M171.5 674.3h0M179.2 654.8h0M172.8 671.7h0M160.1 640.2h0M155.3 643.7h0M154.4 667.5h0M170.5 677.7h0M168.1 675.1h0M156.4 666.3h0M154 651h0M154.8 647.9h0M175.7 641.7h0M173.9 669.1h0M161.4 641.3h0M167.7 675.6h0M179.7 656.5h0M179.2 656.2h0M178.1 660.6h0M153.6 663.7h0M156 645.5h0M168.9 640.4h0M180 656.2h0M155 645.1h0M170.7 678.7h0M154.8 644.9h0M154.6 662.8h0M174 641h0M179.1 657.8h0M176.1 642.3h0M175.7 668.2h0M178.7 658.9h0M175.9 668.6h0M179.2 648.6h0M172 640.2h0M172.4 673.7h0M168 640.6h0M158.7 642.4h0M160.9 640.5h0M173.2 672.1h0M169.6 679.6h0M178.8 644h0M169.2 640.6h0M169.9 677.4h0M180 654h0M167.3 672.8h0M153.3 658.5h0M178.9 647.9h0M153.8 659.3h0M159.3 670.2h0M168.2 679.6h0M166.9 672.5h0M168.4 638.9h0M164.6 670.6h0M153.7 658.4h0M158.6 642.1h0M173.9 641.9h0M176.3 666.2h0M155.9 642.9h0M162.6 670.6h0M154.6 662.7h0M173.2 669.9h0M154.4 646h0M174.2 671.6h0M153.7 664.4h0M171.4 676.1h0M179.8 652.9h0M176.6 642.2h0M167.8 676h0M159.9 642.1h0M161.7 639.3h0M175.9 642h0M175.7 665.5h0" stroke="#a3d09c" stroke-width="1" stroke-linecap="round"/>
<path d="M161.9 682.4h0M156.3 678.3h0M158.9 686.5h0M156.4 670.1h0M158 679.5h0M162.4 673h0M151.3 678.9h0M166.7 682.3h0M160 680.4h0M160.4 679.4h0M156.1 667.8h0M155.9 677.8h0M156.6 669h0M156.6 673.1h0M152.7 676.1h0M154.6 668h0M160.7 680.5h0M160.7 674.5h0M162.2 673.8h0M155.3 671.3h0M159.9 681h0M163.4 679.6h0M162.9 678.5h0M161.3 677.8h0M157.3 682.5h0M161.6 680.3h0M157.5 685.5h0M158.7 678.3h0M149.6 685.8h0M158.8 675.5h0M153.6 673.9h0M150.9 681.5h0M151.1 681.7h0M165.7 682h0M161.1 669.4h0M162.1 674.8h0M157.8 670h0M160 680.3h0M159.3 677.7h0M152.9 673.3h0" stroke="#a3d09c" stroke-width="1" stroke-linecap="round"/>
<path d="M147.4 691.9 C147.7 689.9 148.9 689.5 149.6 688.6 C150.3 687.6 150.8 686.4 151.6 686.4 C152.3 686.4 153.3 688.6 154.2 688.6 C155.1 688.6 156.3 686.2 157.2 686.4 C158.1 686.6 158.6 689.7 159.4 689.7 C160.3 689.7 161.6 687 162.4 686.4 C163.2 685.8 163.7 685.6 164.3 685.9 C165 686.3 165.5 688.3 166.2 688.6 C166.9 688.8 168.3 686.2 168.5 687.5 C168.7 688.7 167.8 693.7 167.3 696.2 C166.8 698.8 166.3 700.8 165.4 702.8 C164.4 704.8 163 706.8 161.7 708.2 C160.3 709.6 158.7 711.1 157.2 711.4 C155.7 711.8 154 711.1 152.7 710.3 C151.5 709.6 150.4 708.7 149.6 707.1 C148.8 705.5 148.2 703.1 147.8 700.6 C147.4 698 147.1 693.9 147.4 691.9 Z" fill="#006d6b"/>
<path d="M150.7 707.2h0M148 691.3h0M154.1 711.2h0M166.3 697.5h0M166 700.6h0M148.6 691.5h0M156.2 687.9h0M165.7 699.2h0M152.6 689.2h0M155.4 709.5h0M157.3 687.5h0M167.2 689.1h0M158.1 710.5h0M147.8 697.4h0M167 693.9h0M155.5 689.3h0M164.2 687.7h0M154.7 687.6h0M163.9 705.3h0M168.2 691.4h0M156.8 710.2h0M159 710.7h0M149.8 689.1h0M151.7 687.6h0M164.8 701.1h0M151.5 708h0M150.9 707.9h0M162.1 685.8h0M157.7 710.1h0M161.7 707.5h0M166.9 692.6h0M166.9 687.7h0M148.3 697h0M149.3 701.8h0M168.3 691.1h0M167 696.5h0M167.8 689.1h0M160.8 690.3h0M158.4 688h0M150.6 708.4h0M156.6 711.5h0M168.2 688.1h0M160.5 690.1h0M148.6 698h0M155.5 686.8h0M167.3 691.1h0M164.8 701.1h0M148 693.1h0M160.9 688.3h0M150.5 687.7h0M155.1 711h0M157.2 687h0M148.8 702.3h0M152.8 687.7h0M158.7 690.3h0M168.1 689.1h0M148.8 704.4h0M166.9 691.9h0M163.3 686.8h0M161 708.7h0M161.9 707.5h0M150.8 707.6h0M156.6 710.6h0M158.2 710.5h0M155 688.1h0M164.7 685.4h0M154 710.1h0M166.9 695.3h0M150.4 687h0M157.1 712.2h0M149.3 705h0M148.4 695.3h0M168.4 688.1h0M167.4 690.5h0M167.1 693.4h0M148.1 692.8h0M166 698.2h0M166.8 696.6h0M167.3 689h0M147.8 693.2h0M165.5 703.4h0M164.4 702.1h0M160.2 690.2h0M160.8 689.4h0M162.1 687.6h0M153.5 711.4h0M150.3 707.1h0M159.9 689.1h0M164.9 702h0M156.6 686.1h0" stroke="#006d6b" stroke-width="1" stroke-linecap="round"/>
<path d="M153.8 674.1h0M157.3 671.3h0M164 680h0M161.2 684.8h0M161.6 673.8h0M153.9 673.4h0M162.8 683.3h0M164.1 674.6h0M156.8 672.8h0M164.7 673.1h0M156.1 683.8h0M154 677.3h0M152 682.8h0M161.7 679.1h0M163.7 682.3h0" stroke="#006d6b" stroke-width="1" stroke-linecap="round"/>
<text x="163" y="725.4" font-size="7.2" text-anchor="middle">0</text>
<line x1="163" y1="714" x2="163" y2="716.4" stroke="#777" stroke-width="0.7"/>
<text x="180.6" y="725.4" font-size="7.2" text-anchor="middle">5</text>
<line x1="180.6" y1="714" x2="180.6" y2="716.4" stroke="#777" stroke-width="0.7"/>
<rect x="91" y="636.6" width="1.5" height="77.4" fill="#cfcfcf" stroke="none" stroke-width="0"/>
<rect x="143.9" y="636.6" width="1.4" height="77.4" fill="#cfcfcf" stroke="none" stroke-width="0"/>
<text x="35.4" y="655.8" font-size="7.2" text-anchor="end">3</text>
<line x1="38.2" y1="653.3" x2="40.6" y2="653.3" stroke="#777" stroke-width="0.7"/>
<text x="35.4" y="674.1" font-size="7.2" text-anchor="end">0</text>
<line x1="38.2" y1="671.6" x2="40.6" y2="671.6" stroke="#777" stroke-width="0.7"/>
<text x="35.4" y="692.4" font-size="7.2" text-anchor="end">&#8211;3</text>
<line x1="38.2" y1="689.9" x2="40.6" y2="689.9" stroke="#777" stroke-width="0.7"/>
<text x="35.4" y="710.7" font-size="7.2" text-anchor="end">&#8211;6</text>
<line x1="38.2" y1="708.2" x2="40.6" y2="708.2" stroke="#777" stroke-width="0.7"/>
<text x="20" y="676" font-size="8.4" text-anchor="middle" textLength="30" lengthAdjust="spacingAndGlyphs" transform="rotate(-90 20 676)">UMAP-<tspan font-style="italic">Y</tspan></text>
<text x="125" y="735" font-size="8.4" text-anchor="middle" textLength="32" lengthAdjust="spacingAndGlyphs">UMAP-<tspan font-style="italic">X</tspan></text>
<path d="M268.3 549.8h0M274.9 547.2h0M265.2 537.6h0M266.5 544.2h0M267.2 538.6h0M261.1 551.2h0M267.3 551h0M263.7 551h0M266.4 548.9h0M273.2 546.1h0M264.1 550.7h0M269.7 540.3h0M267.4 546h0M264.6 538.7h0M265 538.2h0M262.6 546.2h0M274.4 548.1h0M269.3 544.1h0M264.6 542.7h0M263.1 540.1h0M275 546.3h0M262.4 543.8h0M265.2 551.6h0M264.4 541.2h0M275.8 547.4h0M262.2 546.4h0M262.7 544.2h0M270.3 542.8h0M273.3 551.4h0M269.5 546h0M268.4 541.4h0M264.1 552.9h0M269.8 551.1h0M269 540.4h0M261.1 550.8h0M270.3 542h0M263.6 552.6h0M266.9 538.5h0M265 541.7h0M264.5 548.3h0M263.4 541.6h0M272 547.2h0M264 546.2h0M274.4 548.1h0M263.8 546.8h0M267.6 545.8h0M264.8 538.6h0M264.6 538.3h0M276.1 545.9h0M266.4 538.1h0M265 551.5h0M263.3 548.9h0M263.4 543.7h0M270.7 544.3h0M263 549.5h0M266.8 538.6h0M261.8 544.6h0M265.7 543.1h0M266.2 549.4h0M269.6 550.5h0M265 548.3h0M263.3 549.8h0M261.7 548.6h0M260.9 546.4h0M269.9 551.4h0" stroke="#440154" stroke-width="0.8" stroke-linecap="round"/>
<path d="M294.3 533.5h0M292.7 533.6h0M294.7 532.1h0M286.6 532.9h0M288.3 531.7h0M289.6 534.8h0M285.5 530.3h0M286.5 534.6h0M296.4 535.8h0M290.1 533.6h0M293.3 531.5h0M296.9 534.2h0" stroke="#440154" stroke-width="0.8" stroke-linecap="round"/>
<path d="M261.8 524.9 C262.3 523.6 263.2 522.2 264.4 521.4 C265.7 520.6 267.7 520.5 269.3 520.2 C271 519.8 272.7 519.4 274.5 519.5 C276.2 519.6 278.2 520 279.8 520.6 C281.4 521.2 283.2 521.9 284.1 523.1 C285 524.3 285.3 525.9 285.4 527.5 C285.6 529.1 285.3 531.4 285 532.8 C284.6 534.1 284 534.5 283.3 535.4 C282.5 536.3 281.4 536.8 280.5 538 C279.6 539.2 278.8 541.3 278 542.4 C277.2 543.5 276.5 544.5 275.8 544.6 C275.1 544.7 274.4 543.9 273.6 543.3 C272.8 542.6 272 541.5 271 540.7 C270 540 268.7 539.5 267.5 538.9 C266.3 538.3 264.9 538.1 264 537.2 C263 536.3 262.2 535 261.8 533.7 C261.4 532.4 261.5 530.9 261.5 529.4 C261.5 527.9 261.3 526.2 261.8 524.9 Z" fill="#2c738e" stroke="#440154" stroke-width="0.6" stroke-opacity="0.6"/>
<path d="M255.3 554.2 C255.9 553.2 257.5 553 258.8 552.9 C260.1 552.8 261.7 553.8 263.1 553.8 C264.6 553.8 266.2 553.3 267.5 552.9 C268.8 552.6 270 551.9 271 551.7 C272 551.4 273 550.6 273.6 551.2 C274.2 551.9 274.6 554 274.5 555.6 C274.4 557.2 273.5 559.2 272.8 560.8 C272.1 562.4 271.1 563.9 270.1 565.2 C269.1 566.4 267.9 567.6 266.6 568.3 C265.3 569 263.6 569.6 262.3 569.6 C261 569.6 259.8 569.2 258.8 568.3 C257.8 567.4 256.7 565.8 256.1 564.3 C255.5 562.8 255.2 560.8 255.1 559.1 C255 557.4 254.7 555.2 255.3 554.2 Z" fill="#404386" stroke="#440154" stroke-width="0.6" stroke-opacity="0.6"/>
<g clip-path="url(#kc14)">
<ellipse cx="282.1" cy="523.1" rx="3.6" ry="4.6" fill="url(#hs15)"/>
<ellipse cx="282.5" cy="529.4" rx="3.3" ry="4.2" fill="url(#hs16)"/>
<ellipse cx="264.1" cy="525.2" rx="3.9" ry="5" fill="url(#hs17)"/>
<ellipse cx="265.1" cy="533.6" rx="3.3" ry="4.2" fill="url(#hs18)"/>
<ellipse cx="271" cy="532.3" rx="4.9" ry="6.3" fill="url(#hs19)"/>
<ellipse cx="274.9" cy="523.1" rx="3.3" ry="4.2" fill="url(#hs20)"/>
<ellipse cx="259.2" cy="564.3" rx="4.3" ry="5.5" fill="url(#hs21)"/>
<ellipse cx="257.5" cy="558" rx="3.3" ry="4.2" fill="url(#hs22)"/>
</g>
<path d="M266.4 520.7h0M262 524.5h0M277.3 542h0M267.4 520.6h0M262.5 534.2h0M285.6 527h0M264.5 521.2h0M278.2 542.8h0M282.9 534.9h0M261.9 524.7h0M285 528.3h0M271.4 540.5h0M285.2 530.1h0M277.3 542.9h0M261.8 531.1h0M278.9 540h0M284 533.8h0M275.5 543.9h0M261.8 525h0M283.1 534.2h0M266.3 537.9h0M281.3 521.2h0M285.2 528.5h0M285.3 530h0M284 533.6h0M267.7 521.1h0M272.5 542.4h0M277.6 519.7h0M284.3 532.9h0M285.1 528.1h0M278.7 541.9h0M264.5 521.7h0M262.1 531.4h0M285.2 531.1h0M269.6 520.6h0M269.4 539.8h0M266.4 520.8h0M273.1 541.9h0M284.7 527.5h0M285.4 526.1h0M274.5 520.4h0M272.6 542.8h0M280.1 520.8h0M284.5 534.2h0M261.9 531.7h0M278.7 519.9h0M279.2 538.7h0M272.5 541.2h0M263.2 535.2h0M264.6 521.4h0M279.3 539.9h0M275.5 519.3h0M263.6 535.7h0M280.8 521.4h0M262.8 535.7h0M277.3 543.3h0M262.3 533.2h0M261.5 529.4h0M283.1 535.6h0M283.4 523.5h0M262.4 527.7h0M261.9 532.9h0M275.8 543.6h0M284.5 529.7h0M267.3 538.9h0M283.9 524h0M271.8 519.7h0M273.8 519.2h0M262.6 532.8h0M265.9 537.8h0" stroke="#440154" stroke-width="0.9" stroke-linecap="round"/>
<path d="M260.8 568.4h0M273.4 558.2h0M262.2 553.4h0M273.7 551.7h0M265.3 568.8h0M268.4 553.5h0M259.3 567.6h0M258.9 568.5h0M272 560.8h0M257.8 567h0M272.5 560.7h0M255.9 553.8h0M261 568.6h0M273.2 558.5h0M271.1 563.4h0M259.8 553.8h0M259.3 568.3h0M259.6 567.8h0M263.4 568.5h0M254.8 556.5h0M255.3 558.3h0M259.1 567.7h0M260.6 553.7h0M260 553.8h0M273.6 551.4h0M270.3 552.7h0M266.3 568.4h0M260.9 569.3h0M258.3 566.9h0M259.7 568.2h0M255.7 555.2h0M272.8 559.6h0M269.8 565.6h0M272 552.2h0M258 565.6h0M263.8 568.9h0M274 555.4h0M265.7 567.6h0M260.6 568.9h0M270.3 551.4h0M258.9 568.2h0M274.7 555.1h0M271.7 561.1h0M270.5 552.5h0M260.1 568.2h0M268.5 566.8h0M264.4 568.5h0M255.4 556.5h0M273.2 552.7h0M267.1 567.8h0" stroke="#440154" stroke-width="0.9" stroke-linecap="round"/>
<line x1="253.5" y1="518" x2="253.5" y2="571" stroke="#777" stroke-width="0.8"/>
<line x1="253.5" y1="571" x2="300" y2="571" stroke="#777" stroke-width="0.8"/>
<text x="247.9" y="531.9" font-size="7.2" text-anchor="end">3</text>
<line x1="251.5" y1="529.4" x2="253.5" y2="529.4" stroke="#777" stroke-width="0.7"/>
<text x="247.9" y="544.5" font-size="7.2" text-anchor="end">0</text>
<line x1="251.5" y1="542" x2="253.5" y2="542" stroke="#777" stroke-width="0.7"/>
<text x="247.9" y="557.1" font-size="7.2" text-anchor="end">&#8211;3</text>
<line x1="251.5" y1="554.6" x2="253.5" y2="554.6" stroke="#777" stroke-width="0.7"/>
<text x="247.9" y="569.7" font-size="7.2" text-anchor="end">&#8211;6</text>
<line x1="251.5" y1="567.2" x2="253.5" y2="567.2" stroke="#777" stroke-width="0.7"/>
<text x="270" y="581.6" font-size="7.2" text-anchor="middle">0</text>
<line x1="270" y1="571" x2="270" y2="573" stroke="#777" stroke-width="0.7"/>
<text x="286.4" y="581.6" font-size="7.2" text-anchor="middle">5</text>
<line x1="286.4" y1="571" x2="286.4" y2="573" stroke="#777" stroke-width="0.7"/>
<text x="253.1" y="513" font-size="8.8" textLength="30" lengthAdjust="spacingAndGlyphs">EOMES</text>
<text x="280" y="591" font-size="8.4" text-anchor="middle" textLength="31" lengthAdjust="spacingAndGlyphs">UMAP-<tspan font-style="italic">X</tspan></text>
<text x="234.7" y="540.5" font-size="8.4" text-anchor="middle" textLength="30" lengthAdjust="spacingAndGlyphs" transform="rotate(-90 234.7 540.5)">UMAP-<tspan font-style="italic">Y</tspan></text>
<rect x="301.9" y="532" width="6" height="32" fill="url(#vg23)" stroke="none" stroke-width="0"/>
<text x="298.9" y="529" font-size="7.6" textLength="24" lengthAdjust="spacingAndGlyphs">Density</text>
<text x="310.9" y="536.2" font-size="6.4" textLength="13" lengthAdjust="spacingAndGlyphs">0.05</text>
<line x1="301.9" y1="534" x2="303.1" y2="534" stroke="#fff" stroke-width="0.5"/>
<line x1="306.7" y1="534" x2="307.9" y2="534" stroke="#fff" stroke-width="0.5"/>
<text x="310.9" y="542.2" font-size="6.4" textLength="13" lengthAdjust="spacingAndGlyphs">0.04</text>
<line x1="301.9" y1="540" x2="303.1" y2="540" stroke="#fff" stroke-width="0.5"/>
<line x1="306.7" y1="540" x2="307.9" y2="540" stroke="#fff" stroke-width="0.5"/>
<text x="310.9" y="548.2" font-size="6.4" textLength="13" lengthAdjust="spacingAndGlyphs">0.03</text>
<line x1="301.9" y1="546" x2="303.1" y2="546" stroke="#fff" stroke-width="0.5"/>
<line x1="306.7" y1="546" x2="307.9" y2="546" stroke="#fff" stroke-width="0.5"/>
<text x="310.9" y="554.2" font-size="6.4" textLength="13" lengthAdjust="spacingAndGlyphs">0.02</text>
<line x1="301.9" y1="552" x2="303.1" y2="552" stroke="#fff" stroke-width="0.5"/>
<line x1="306.7" y1="552" x2="307.9" y2="552" stroke="#fff" stroke-width="0.5"/>
<text x="310.9" y="560.2" font-size="6.4" textLength="13" lengthAdjust="spacingAndGlyphs">0.01</text>
<line x1="301.9" y1="558" x2="303.1" y2="558" stroke="#fff" stroke-width="0.5"/>
<line x1="306.7" y1="558" x2="307.9" y2="558" stroke="#fff" stroke-width="0.5"/>
<path d="M375.2 550.8h0M367.4 538.5h0M372.1 539.9h0M367.8 545.4h0M368.2 539.9h0M367.8 549.8h0M375.9 548.1h0M368 550.8h0M372.2 542.6h0M366 545.3h0M367.1 543.2h0M370 542.2h0M365.5 549.8h0M366.5 536.9h0M379.8 547.2h0M373.4 542h0M366.1 545.4h0M369.2 550.5h0M373.1 541.5h0M373.9 541.7h0M368.3 540h0M378.9 548.7h0M373.8 545.6h0M368.6 551.5h0M378 551.5h0M365.1 551.9h0M379 544.7h0M368 548.3h0M368.8 550.2h0M379.1 547h0M375.7 550.7h0M378.5 547.8h0M364.7 547h0M377.8 551.9h0M372.7 545.9h0M368 549.2h0M377.3 544.5h0M368.9 548.5h0M378 546.9h0M365.3 547.1h0M375 551h0M367.3 552.4h0M365.6 552h0M369 543.6h0M369.8 543.6h0M368.7 542.6h0M365.1 540.8h0M365.8 538.1h0M365.6 546.7h0M374.2 543.2h0M365.7 544.8h0M366.3 546.5h0M377.2 551.6h0M373.8 548.9h0M376.7 543.2h0M365.2 547h0M367.9 543.3h0M368.1 548.8h0M366.7 541.2h0M368 539.8h0M365.4 538h0M366.9 538h0M378.1 548.4h0M377.8 543.6h0M375.9 546.4h0" stroke="#440154" stroke-width="0.8" stroke-linecap="round"/>
<path d="M399.4 531.9h0M392 533.6h0M397.4 533.9h0M392.2 533h0M400.6 535.6h0M392.1 533.3h0M401 530.3h0M389.2 532.3h0M390.8 534.9h0M390.7 533.2h0M401.1 530.4h0M393.5 530.8h0" stroke="#440154" stroke-width="0.8" stroke-linecap="round"/>
<path d="M365.8 524.9 C366.3 523.6 367.2 522.2 368.4 521.4 C369.7 520.6 371.7 520.5 373.3 520.2 C375 519.8 376.7 519.4 378.5 519.5 C380.2 519.6 382.2 520 383.8 520.6 C385.4 521.2 387.2 521.9 388.1 523.1 C389 524.3 389.3 525.9 389.4 527.5 C389.6 529.1 389.3 531.4 389 532.8 C388.6 534.1 388 534.5 387.3 535.4 C386.5 536.3 385.4 536.8 384.5 538 C383.6 539.2 382.8 541.3 382 542.4 C381.2 543.5 380.5 544.5 379.8 544.6 C379.1 544.7 378.4 543.9 377.6 543.3 C376.8 542.6 376 541.5 375 540.7 C374 540 372.7 539.5 371.5 538.9 C370.3 538.3 368.9 538.1 368 537.2 C367 536.3 366.2 535 365.8 533.7 C365.4 532.4 365.5 530.9 365.5 529.4 C365.5 527.9 365.3 526.2 365.8 524.9 Z" fill="#26838e" stroke="#440154" stroke-width="0.6" stroke-opacity="0.6"/>
<path d="M359.3 554.2 C359.9 553.2 361.5 553 362.8 552.9 C364.1 552.8 365.7 553.8 367.1 553.8 C368.6 553.8 370.2 553.3 371.5 552.9 C372.8 552.6 374 551.9 375 551.7 C376 551.4 377 550.6 377.6 551.2 C378.2 551.9 378.6 554 378.5 555.6 C378.4 557.2 377.5 559.2 376.8 560.8 C376.1 562.4 375.1 563.9 374.1 565.2 C373.1 566.4 371.9 567.6 370.6 568.3 C369.3 569 367.6 569.6 366.3 569.6 C365 569.6 363.8 569.2 362.8 568.3 C361.8 567.4 360.7 565.8 360.1 564.3 C359.5 562.8 359.2 560.8 359.1 559.1 C359 557.4 358.7 555.2 359.3 554.2 Z" fill="#31678e" stroke="#440154" stroke-width="0.6" stroke-opacity="0.6"/>
<g clip-path="url(#kc24)">
<ellipse cx="384.5" cy="523.9" rx="3.6" ry="4.6" fill="url(#hs25)"/>
<ellipse cx="381.2" cy="531.1" rx="4.3" ry="5.5" fill="url(#hs26)"/>
<ellipse cx="386.5" cy="532.8" rx="3" ry="3.8" fill="url(#hs27)"/>
<ellipse cx="369.1" cy="524.4" rx="3.9" ry="5" fill="url(#hs28)"/>
<ellipse cx="372" cy="534.4" rx="3.9" ry="5" fill="url(#hs29)"/>
<ellipse cx="365.5" cy="563.8" rx="4.6" ry="5.9" fill="url(#hs30)"/>
</g>
<path d="M377.6 543.7h0M365.7 533.6h0M365.4 526.8h0M366 533.6h0M386.7 536.2h0M387.5 534h0M383.7 537.6h0M385.1 536.3h0M373.8 520.7h0M382.1 540.8h0M387.1 522.7h0M370.3 538.4h0M388 525.1h0M380.1 544h0M366.9 524.4h0M389.5 528.5h0M389.2 525.9h0M368.7 536.8h0M366 527.9h0M375.6 520h0M365.4 525.2h0M387.7 522.5h0M376.3 519.7h0M382 542.9h0M367.3 535.8h0M376.4 519.4h0M386.1 536.5h0M387.6 535.5h0M388 523.6h0M370.4 521.2h0M368.6 537.1h0M373.5 520.6h0M370.2 520.6h0M366.4 524.5h0M376.7 519.6h0M373 521.2h0M374.6 520.5h0M370.8 538.3h0M383.3 540.1h0M370.1 537.6h0M370.1 521.6h0M374.2 520.3h0M377.1 519.9h0M379.5 544.1h0M386.7 521.8h0M388.4 531.4h0M384.4 537.6h0M373.4 539.4h0M366.2 529.5h0M375.4 540.2h0M374.3 519.9h0M376.7 541.9h0M367.8 535.8h0M387 522.2h0M379.6 544.9h0M387.7 534.9h0M389 527.4h0M380.8 543h0M368.9 522.2h0M377.3 541.8h0M381.8 541.9h0M366.7 534.1h0M381.2 543.8h0M367.3 523.8h0M368.1 537.2h0M379 519.8h0M368.6 536.8h0M373.5 519.9h0M378.7 520.2h0M381.6 521h0" stroke="#440154" stroke-width="0.9" stroke-linecap="round"/>
<path d="M378.4 556.4h0M378.4 556.7h0M359.4 562.8h0M378.1 556.6h0M361.3 553.3h0M359.9 555h0M377.5 556.6h0M360 560.5h0M365.8 569h0M375.3 562.2h0M371.7 566.1h0M369.2 554.3h0M364.2 568.6h0M360.3 564.7h0M378.1 555.1h0M359.1 556.3h0M360.7 564.4h0M359.2 559.8h0M368.9 567.9h0M360.2 562.2h0M360.9 564.8h0M374.4 565h0M374.9 562.3h0M358.8 558h0M375.7 551.4h0M360.4 565.2h0M363.6 568.8h0M376.9 551.7h0M366 553.9h0M374.3 552.6h0M362.8 553.5h0M373.5 553.2h0M377.2 551.8h0M361 554.5h0M370.3 567.5h0M364.7 569.4h0M364.8 569h0M370.3 554h0M369.1 568.7h0M363.1 553.5h0M362.5 552.9h0M361.8 553h0M364.5 569h0M359.2 555.2h0M362.5 566.9h0M370.1 568h0M366.8 554.5h0M359.5 559.6h0M369.4 552.9h0M373.4 553.3h0" stroke="#440154" stroke-width="0.9" stroke-linecap="round"/>
<line x1="357.5" y1="518" x2="357.5" y2="571" stroke="#777" stroke-width="0.8"/>
<line x1="357.5" y1="571" x2="404" y2="571" stroke="#777" stroke-width="0.8"/>
<text x="351.9" y="531.9" font-size="7.2" text-anchor="end">3</text>
<line x1="355.5" y1="529.4" x2="357.5" y2="529.4" stroke="#777" stroke-width="0.7"/>
<text x="351.9" y="544.5" font-size="7.2" text-anchor="end">0</text>
<line x1="355.5" y1="542" x2="357.5" y2="542" stroke="#777" stroke-width="0.7"/>
<text x="351.9" y="557.1" font-size="7.2" text-anchor="end">&#8211;3</text>
<line x1="355.5" y1="554.6" x2="357.5" y2="554.6" stroke="#777" stroke-width="0.7"/>
<text x="351.9" y="569.7" font-size="7.2" text-anchor="end">&#8211;6</text>
<line x1="355.5" y1="567.2" x2="357.5" y2="567.2" stroke="#777" stroke-width="0.7"/>
<text x="374" y="581.6" font-size="7.2" text-anchor="middle">0</text>
<line x1="374" y1="571" x2="374" y2="573" stroke="#777" stroke-width="0.7"/>
<text x="390.4" y="581.6" font-size="7.2" text-anchor="middle">5</text>
<line x1="390.4" y1="571" x2="390.4" y2="573" stroke="#777" stroke-width="0.7"/>
<text x="357.1" y="513" font-size="8.8" textLength="30" lengthAdjust="spacingAndGlyphs">NCAM1</text>
<text x="384" y="591" font-size="8.4" text-anchor="middle" textLength="31" lengthAdjust="spacingAndGlyphs">UMAP-<tspan font-style="italic">X</tspan></text>
<text x="338.7" y="540.5" font-size="8.4" text-anchor="middle" textLength="30" lengthAdjust="spacingAndGlyphs" transform="rotate(-90 338.7 540.5)">UMAP-<tspan font-style="italic">Y</tspan></text>
<rect x="405.9" y="532" width="6" height="32" fill="url(#vg31)" stroke="none" stroke-width="0"/>
<text x="402.9" y="529" font-size="7.6" textLength="24" lengthAdjust="spacingAndGlyphs">Density</text>
<text x="414.9" y="536.2" font-size="6.4" textLength="13" lengthAdjust="spacingAndGlyphs">0.04</text>
<line x1="405.9" y1="534" x2="407.1" y2="534" stroke="#fff" stroke-width="0.5"/>
<line x1="410.7" y1="534" x2="411.9" y2="534" stroke="#fff" stroke-width="0.5"/>
<text x="414.9" y="543.8" font-size="6.4" textLength="13" lengthAdjust="spacingAndGlyphs">0.03</text>
<line x1="405.9" y1="541.6" x2="407.1" y2="541.6" stroke="#fff" stroke-width="0.5"/>
<line x1="410.7" y1="541.6" x2="411.9" y2="541.6" stroke="#fff" stroke-width="0.5"/>
<text x="414.9" y="551.2" font-size="6.4" textLength="13" lengthAdjust="spacingAndGlyphs">0.02</text>
<line x1="405.9" y1="549" x2="407.1" y2="549" stroke="#fff" stroke-width="0.5"/>
<line x1="410.7" y1="549" x2="411.9" y2="549" stroke="#fff" stroke-width="0.5"/>
<text x="414.9" y="558.2" font-size="6.4" textLength="13" lengthAdjust="spacingAndGlyphs">0.01</text>
<line x1="405.9" y1="556" x2="407.1" y2="556" stroke="#fff" stroke-width="0.5"/>
<line x1="410.7" y1="556" x2="411.9" y2="556" stroke="#fff" stroke-width="0.5"/>
<path d="M485.5 548.2h0M475.3 538.4h0M482.3 542.6h0M472.6 549.8h0M475.5 552.2h0M482.1 551h0M475.4 547.2h0M477.9 542.8h0M476.5 541.2h0M477 546.2h0M474.6 550.4h0M475.8 540.4h0M483.7 541.3h0M475.8 545.9h0M479 552.5h0M474 542.4h0M482.3 544.4h0M476.2 551.9h0M474.1 546.8h0M476.7 538.3h0M486.4 550.1h0M482.2 550h0M475.9 549.9h0M472.3 552.9h0M481.2 547.8h0M474.1 541.4h0M476 544.5h0M476.7 545.1h0M480.7 548.9h0M479.3 539.7h0M474.5 544.3h0M486 543.8h0M478.2 551.1h0M475.2 549.2h0M473.8 536.9h0M481.6 539.9h0M479.9 544.6h0M487.4 546.3h0M479.1 540.9h0M478.1 542.8h0M477.3 551.4h0M484.2 543.1h0M475.1 544.9h0M482.2 542.7h0M475.1 552.4h0M476.5 546.6h0M484.1 541.6h0M476.8 549.2h0M474.2 547.8h0M473.9 537.2h0M482 545.1h0M474.5 544.4h0M477 543.7h0M484.4 549.5h0M478.4 550.6h0M474.3 541.1h0M483 541.8h0M483.1 544.7h0M487.8 544.4h0M485.9 551.3h0M482.4 548.8h0M479.1 538.9h0M474.8 539h0M479.6 540h0M483 541.2h0" stroke="#440154" stroke-width="0.8" stroke-linecap="round"/>
<path d="M503.4 531.9h0M508.7 531.8h0M508.8 534.1h0M500.7 530.9h0M507.2 530.9h0M502.4 533.7h0M508.6 534.9h0M499.1 535.1h0M500.8 533.7h0M501.7 533.4h0M497.5 534.1h0M503.3 535.8h0" stroke="#440154" stroke-width="0.8" stroke-linecap="round"/>
<path d="M473.8 524.9 C474.3 523.6 475.2 522.2 476.4 521.4 C477.7 520.6 479.7 520.5 481.3 520.2 C483 519.8 484.7 519.4 486.5 519.5 C488.2 519.6 490.2 520 491.8 520.6 C493.4 521.2 495.2 521.9 496.1 523.1 C497 524.3 497.3 525.9 497.4 527.5 C497.6 529.1 497.3 531.4 497 532.8 C496.6 534.1 496 534.5 495.3 535.4 C494.5 536.3 493.4 536.8 492.5 538 C491.6 539.2 490.8 541.3 490 542.4 C489.2 543.5 488.5 544.5 487.8 544.6 C487.1 544.7 486.4 543.9 485.6 543.3 C484.8 542.6 484 541.5 483 540.7 C482 540 480.7 539.5 479.5 538.9 C478.3 538.3 476.9 538.1 476 537.2 C475 536.3 474.2 535 473.8 533.7 C473.4 532.4 473.5 530.9 473.5 529.4 C473.5 527.9 473.3 526.2 473.8 524.9 Z" fill="#34b67a" stroke="#440154" stroke-width="0.6" stroke-opacity="0.6"/>
<path d="M467.3 554.2 C467.9 553.2 469.5 553 470.8 552.9 C472.1 552.8 473.7 553.8 475.1 553.8 C476.6 553.8 478.2 553.3 479.5 552.9 C480.8 552.6 482 551.9 483 551.7 C484 551.4 485 550.6 485.6 551.2 C486.2 551.9 486.6 554 486.5 555.6 C486.4 557.2 485.5 559.2 484.8 560.8 C484.1 562.4 483.1 563.9 482.1 565.2 C481.1 566.4 479.9 567.6 478.6 568.3 C477.3 569 475.6 569.6 474.3 569.6 C473 569.6 471.8 569.2 470.8 568.3 C469.8 567.4 468.7 565.8 468.1 564.3 C467.5 562.8 467.2 560.8 467.1 559.1 C467 557.4 466.7 555.2 467.3 554.2 Z" fill="#2cac80" stroke="#440154" stroke-width="0.6" stroke-opacity="0.6"/>
<g clip-path="url(#kc32)">
<ellipse cx="487.9" cy="530.2" rx="4.3" ry="5.5" fill="url(#hs33)"/>
<ellipse cx="476.1" cy="526.9" rx="3.9" ry="5" fill="url(#hs34)"/>
<ellipse cx="477.1" cy="533.6" rx="2.6" ry="3.4" fill="url(#hs35)"/>
<ellipse cx="492.5" cy="524.4" rx="3.3" ry="4.2" fill="url(#hs36)"/>
<ellipse cx="485.3" cy="538.6" rx="2.6" ry="3.4" fill="url(#hs37)"/>
<ellipse cx="482" cy="523.1" rx="2.6" ry="3.4" fill="url(#hs38)"/>
<ellipse cx="473.8" cy="566.8" rx="3.9" ry="5" fill="url(#hs39)"/>
<ellipse cx="478.1" cy="559.6" rx="3" ry="3.8" fill="url(#hs40)"/>
<ellipse cx="471.2" cy="558" rx="3" ry="3.8" fill="url(#hs41)"/>
<ellipse cx="480.4" cy="554.6" rx="2.6" ry="3.4" fill="url(#hs42)"/>
</g>
<path d="M495.7 533.4h0M487.5 543.7h0M475.7 536.3h0M474.6 523.3h0M491.1 539.2h0M495 522.1h0M481.8 539.8h0M497 533.2h0M492.2 537.8h0M485 541.5h0M477.9 521.8h0M494.2 522.1h0M495.4 523.5h0M497.5 530.8h0M496.7 533.6h0M474.3 523.6h0M496.7 525.6h0M473.7 524.6h0M474 533.5h0M473.9 526.7h0M473.9 529h0M497.3 526h0M482.7 520.7h0M487.4 544.4h0M483.8 520.3h0M473.5 531.1h0M474 525.2h0M486.8 519.3h0M484.9 541.4h0M486.5 519.3h0M482.4 519.8h0M488 519.9h0M488.8 520.5h0M489 519.9h0M497.5 528.8h0M476 521.4h0M474.3 525h0M476.3 522h0M474.5 534.1h0M493.3 521.6h0M497.3 529.5h0M476.2 521.3h0M482.4 519.8h0M495 522h0M490.1 542.6h0M494.6 535.3h0M495.2 534.6h0M480.4 539.2h0M487.2 519.2h0M485.6 543.1h0M492.5 520.5h0M485 520.6h0M496.2 532.8h0M476.2 537.5h0M487.9 520.7h0M488.7 520.4h0M473.7 530.4h0M496.5 529.2h0M475.9 535.6h0M484.7 542.6h0M475.8 521.5h0M473.9 531.6h0M475.1 534.2h0M488.7 520.9h0M491.3 520.2h0M491 521.5h0M473.6 530.2h0M495.7 533.5h0M479.1 537.7h0M496.5 524h0" stroke="#440154" stroke-width="0.9" stroke-linecap="round"/>
<path d="M483.1 562h0M479.2 566.7h0M478 553.5h0M467.6 559.9h0M470.8 567.1h0M485.2 558.1h0M475.5 569h0M483 562.6h0M468.5 562.2h0M485.6 553.5h0M481.9 564.2h0M480.4 552.8h0M481.4 553h0M474.7 570h0M473.2 553.1h0M480.3 565.9h0M486 551.6h0M480.7 565.9h0M485.9 557.6h0M485.9 551.9h0M469.7 566.5h0M474.3 569.2h0M479.8 552.7h0M476.6 568h0M467.1 560.1h0M481.3 551.9h0M477.6 553.4h0M474.3 568.7h0M480.8 566.7h0M486.4 553.9h0M482.5 552.2h0M484.2 562.2h0M482.5 552.8h0M478.6 567.7h0M484.8 551.3h0M471.7 569.2h0M477.4 567.6h0M478.8 568.7h0M469.3 554.2h0M477.4 553.5h0M477.6 568h0M483 552.2h0M467.5 560.2h0M486 555.4h0M468.3 562.9h0M467.7 559.2h0M467.1 557.2h0M476.6 569.1h0M473.6 553.5h0M467.1 558h0" stroke="#440154" stroke-width="0.9" stroke-linecap="round"/>
<line x1="465.5" y1="518" x2="465.5" y2="571" stroke="#777" stroke-width="0.8"/>
<line x1="465.5" y1="571" x2="512" y2="571" stroke="#777" stroke-width="0.8"/>
<text x="459.9" y="531.9" font-size="7.2" text-anchor="end">3</text>
<line x1="463.5" y1="529.4" x2="465.5" y2="529.4" stroke="#777" stroke-width="0.7"/>
<text x="459.9" y="544.5" font-size="7.2" text-anchor="end">0</text>
<line x1="463.5" y1="542" x2="465.5" y2="542" stroke="#777" stroke-width="0.7"/>
<text x="459.9" y="557.1" font-size="7.2" text-anchor="end">&#8211;3</text>
<line x1="463.5" y1="554.6" x2="465.5" y2="554.6" stroke="#777" stroke-width="0.7"/>
<text x="459.9" y="569.7" font-size="7.2" text-anchor="end">&#8211;6</text>
<line x1="463.5" y1="567.2" x2="465.5" y2="567.2" stroke="#777" stroke-width="0.7"/>
<text x="482" y="581.6" font-size="7.2" text-anchor="middle">0</text>
<line x1="482" y1="571" x2="482" y2="573" stroke="#777" stroke-width="0.7"/>
<text x="498.4" y="581.6" font-size="7.2" text-anchor="middle">5</text>
<line x1="498.4" y1="571" x2="498.4" y2="573" stroke="#777" stroke-width="0.7"/>
<text x="465.1" y="513" font-size="8.8" textLength="21" lengthAdjust="spacingAndGlyphs">CD69</text>
<text x="492" y="591" font-size="8.4" text-anchor="middle" textLength="31" lengthAdjust="spacingAndGlyphs">UMAP-<tspan font-style="italic">X</tspan></text>
<text x="446.7" y="540.5" font-size="8.4" text-anchor="middle" textLength="30" lengthAdjust="spacingAndGlyphs" transform="rotate(-90 446.7 540.5)">UMAP-<tspan font-style="italic">Y</tspan></text>
<rect x="515.1" y="532" width="6" height="32" fill="url(#vg43)" stroke="none" stroke-width="0"/>
<text x="509.1" y="529" font-size="8.6" textLength="29" lengthAdjust="spacingAndGlyphs">Density</text>
<text x="524.1" y="535.8" font-size="6.4" textLength="13" lengthAdjust="spacingAndGlyphs">0.03</text>
<line x1="515.1" y1="533.6" x2="516.3" y2="533.6" stroke="#fff" stroke-width="0.5"/>
<line x1="519.9" y1="533.6" x2="521.1" y2="533.6" stroke="#fff" stroke-width="0.5"/>
<text x="524.1" y="546.2" font-size="6.4" textLength="13" lengthAdjust="spacingAndGlyphs">0.02</text>
<line x1="515.1" y1="544" x2="516.3" y2="544" stroke="#fff" stroke-width="0.5"/>
<line x1="519.9" y1="544" x2="521.1" y2="544" stroke="#fff" stroke-width="0.5"/>
<text x="524.1" y="556.2" font-size="6.4" textLength="13" lengthAdjust="spacingAndGlyphs">0.01</text>
<line x1="515.1" y1="554" x2="516.3" y2="554" stroke="#fff" stroke-width="0.5"/>
<line x1="519.9" y1="554" x2="521.1" y2="554" stroke="#fff" stroke-width="0.5"/>
<path d="M265.4 633.4h0M266.2 635.1h0M261.3 648.8h0M261.2 643.3h0M264.3 634.5h0M267.8 634.6h0M261 641.3h0M267.7 634.9h0M262.8 647.8h0M263.7 647.5h0M263.2 647.6h0M261.3 645.8h0M271.4 646.1h0M267.6 646.4h0M261.7 640.8h0M261.4 639.7h0M263 643.4h0M271.6 638.8h0M263.6 637.4h0M274.5 643.2h0M263.6 637.9h0M274.7 646.1h0M263.5 640.5h0M263.6 640.4h0M267.5 645.5h0M262.7 635.7h0M262.2 646.7h0M262.2 642.9h0M267.2 637.9h0M276.2 641.7h0M264.5 636.8h0M267.7 642h0M275.4 644.1h0M262.5 640.9h0M262.7 640.5h0M268.2 643.8h0M265.7 643.1h0M268.7 638.2h0M264 635.3h0M263 640.6h0M260.4 648.3h0M267.4 646.9h0M276.1 640.4h0M274.7 644.4h0M260.5 646.1h0M274.6 644.8h0M276.2 641.3h0M269.9 638.1h0M275.5 643.6h0M275.4 643.6h0M271.8 646.3h0M262.1 636.4h0M268 647h0M271 639.8h0M276.1 639.3h0M270.7 644.5h0M265.7 648.4h0M263.6 640.6h0M266.8 636.2h0M262.6 645.5h0M269.1 637.4h0M265.5 645.5h0M264.3 643.2h0M272.9 645.5h0M263.7 635.7h0" stroke="#440154" stroke-width="0.8" stroke-linecap="round"/>
<path d="M295.8 627.5h0M289.9 626.8h0M296.5 630.6h0M293.2 630.7h0M297.1 627h0M290.1 627.4h0M288.6 631.3h0M291.3 631.3h0M290.6 626.7h0M292.1 630.2h0M287.7 628.4h0M291.3 626.4h0" stroke="#440154" stroke-width="0.8" stroke-linecap="round"/>
<path d="M261.8 620.5 C262.3 619.2 263.2 617.8 264.4 617 C265.7 616.2 267.7 616.1 269.3 615.8 C271 615.4 272.7 615 274.5 615.1 C276.2 615.2 278.2 615.6 279.8 616.2 C281.4 616.8 283.2 617.5 284.1 618.7 C285 619.9 285.3 621.5 285.4 623.1 C285.6 624.7 285.3 627 285 628.4 C284.6 629.7 284 630.1 283.3 631 C282.5 631.9 281.4 632.4 280.5 633.6 C279.6 634.8 278.8 636.9 278 638 C277.2 639.1 276.5 640.1 275.8 640.2 C275.1 640.3 274.4 639.5 273.6 638.9 C272.8 638.2 272 637.1 271 636.3 C270 635.6 268.7 635.1 267.5 634.5 C266.3 633.9 264.9 633.7 264 632.8 C263 631.9 262.2 630.6 261.8 629.3 C261.4 628 261.5 626.5 261.5 625 C261.5 623.5 261.3 621.8 261.8 620.5 Z" fill="#22908c" stroke="#440154" stroke-width="0.6" stroke-opacity="0.6"/>
<path d="M255.3 649.8 C255.9 648.8 257.5 648.6 258.8 648.5 C260.1 648.5 261.7 649.4 263.1 649.4 C264.6 649.4 266.2 648.9 267.5 648.5 C268.8 648.2 270 647.5 271 647.3 C272 647 273 646.2 273.6 646.8 C274.2 647.5 274.6 649.6 274.5 651.2 C274.4 652.8 273.5 654.8 272.8 656.4 C272.1 658 271.1 659.5 270.1 660.8 C269.1 662 267.9 663.2 266.6 663.9 C265.3 664.6 263.6 665.2 262.3 665.2 C261 665.2 259.8 664.8 258.8 663.9 C257.8 663 256.7 661.4 256.1 659.9 C255.5 658.4 255.2 656.4 255.1 654.7 C255 653 254.7 650.8 255.3 649.8 Z" fill="#1f9d89" stroke="#440154" stroke-width="0.6" stroke-opacity="0.6"/>
<g clip-path="url(#kc44)">
<ellipse cx="275.9" cy="623.7" rx="4.3" ry="5.5" fill="url(#hs45)"/>
<ellipse cx="264.8" cy="622.5" rx="3.9" ry="5" fill="url(#hs46)"/>
<ellipse cx="272.6" cy="617.4" rx="3" ry="3.8" fill="url(#hs47)"/>
<ellipse cx="279.8" cy="621.6" rx="3.3" ry="4.2" fill="url(#hs48)"/>
<ellipse cx="268.4" cy="631.3" rx="3.3" ry="4.2" fill="url(#hs49)"/>
<ellipse cx="261.8" cy="661.1" rx="4.3" ry="5.5" fill="url(#hs50)"/>
<ellipse cx="259.2" cy="654" rx="3" ry="3.8" fill="url(#hs51)"/>
<ellipse cx="268.4" cy="651.9" rx="2.6" ry="3.4" fill="url(#hs52)"/>
</g>
<path d="M272.3 615.6h0M285.1 626.9h0M273.3 615.3h0M281.2 633.2h0M282.1 617.9h0M261.7 625.7h0M284 618.1h0M282.5 631.8h0M268.5 616.2h0M278 638h0M271.4 636.2h0M264.9 616.4h0M281.9 631.8h0M280.5 634h0M283.5 619h0M285 622.6h0M276.1 615.9h0M284.6 629.7h0M270.2 635.1h0M262.5 621.7h0M273.1 638.1h0M278.6 616.5h0M285.3 624.4h0M268.7 616.4h0M272.9 637.3h0M271 615.3h0M277 639.5h0M262.9 629.6h0M277.2 638.9h0M279.7 633.8h0M283.6 618.9h0M278 636.5h0M268.8 634.6h0M280.6 632.5h0M278.2 636.8h0M281.7 616.9h0M280.4 634h0M261.5 623.1h0M262 629.6h0M273.7 615.6h0M282 618.6h0M278.1 638.4h0M281.7 616.9h0M283.5 630.2h0M281.8 617.9h0M284.5 626.6h0M274.3 639.4h0M265.1 633.8h0M276.7 615.1h0M261.7 624.8h0M264.7 632.1h0M267 617.3h0M263.1 619.6h0M267.6 634.4h0M262.6 629.5h0M283.6 630.7h0M271.4 615.1h0M281 632.7h0M273.4 615.5h0M266.1 616.6h0M274.9 640h0M282.3 632.3h0M262.4 630.6h0M262.3 626.4h0M261.5 623.6h0M274.1 639.6h0M262.1 623h0M263.4 618h0M267.8 616.2h0M262.1 625.9h0" stroke="#440154" stroke-width="0.9" stroke-linecap="round"/>
<path d="M273.1 647.7h0M255.9 649.9h0M274.6 650.3h0M255.6 655.4h0M255.7 650.1h0M267.4 663.6h0M272.2 655.8h0M269.9 660.4h0M273.2 655.1h0M255.9 649.4h0M265.4 648.5h0M258.3 649.4h0M255.7 650.1h0M256.9 661.3h0M256.3 660.2h0M256 660h0M271.5 647.5h0M267.5 648.4h0M261.8 664.3h0M255.7 651h0M273.6 647.8h0M268.7 661.5h0M255.6 655.5h0M255.4 652.5h0M273.9 654.4h0M272.9 647.2h0M256 649.7h0M261.6 649h0M256.4 657.7h0M261.4 649.4h0M272.8 657h0M271.5 647.5h0M273.7 652.7h0M258.8 649h0M267.8 663.1h0M269.3 660.3h0M256 657.3h0M271 658.3h0M272.9 654.5h0M273.8 649.4h0M261.4 664.4h0M268 662.5h0M273.4 647.9h0M273.4 654.1h0M274.2 649.7h0M266.6 662.8h0M266 649.3h0M270.7 659h0M265.1 664.2h0M255.9 649.6h0" stroke="#440154" stroke-width="0.9" stroke-linecap="round"/>
<line x1="253.5" y1="613.6" x2="253.5" y2="666.6" stroke="#777" stroke-width="0.8"/>
<line x1="253.5" y1="666.6" x2="300" y2="666.6" stroke="#777" stroke-width="0.8"/>
<text x="247.9" y="627.5" font-size="7.2" text-anchor="end">3</text>
<line x1="251.5" y1="625" x2="253.5" y2="625" stroke="#777" stroke-width="0.7"/>
<text x="247.9" y="640.1" font-size="7.2" text-anchor="end">0</text>
<line x1="251.5" y1="637.6" x2="253.5" y2="637.6" stroke="#777" stroke-width="0.7"/>
<text x="247.9" y="652.7" font-size="7.2" text-anchor="end">&#8211;3</text>
<line x1="251.5" y1="650.2" x2="253.5" y2="650.2" stroke="#777" stroke-width="0.7"/>
<text x="247.9" y="665.3" font-size="7.2" text-anchor="end">&#8211;6</text>
<line x1="251.5" y1="662.8" x2="253.5" y2="662.8" stroke="#777" stroke-width="0.7"/>
<text x="270" y="677.2" font-size="7.2" text-anchor="middle">0</text>
<line x1="270" y1="666.6" x2="270" y2="668.6" stroke="#777" stroke-width="0.7"/>
<text x="286.4" y="677.2" font-size="7.2" text-anchor="middle">5</text>
<line x1="286.4" y1="666.6" x2="286.4" y2="668.6" stroke="#777" stroke-width="0.7"/>
<text x="253.1" y="608.6" font-size="8.8" textLength="24" lengthAdjust="spacingAndGlyphs">ITGAE</text>
<text x="280" y="686.6" font-size="8.4" text-anchor="middle" textLength="31" lengthAdjust="spacingAndGlyphs">UMAP-<tspan font-style="italic">X</tspan></text>
<text x="234.7" y="636.1" font-size="8.4" text-anchor="middle" textLength="30" lengthAdjust="spacingAndGlyphs" transform="rotate(-90 234.7 636.1)">UMAP-<tspan font-style="italic">Y</tspan></text>
<rect x="301.9" y="627.6" width="6" height="32" fill="url(#vg53)" stroke="none" stroke-width="0"/>
<text x="298.9" y="624.6" font-size="7.6" textLength="24" lengthAdjust="spacingAndGlyphs">Density</text>
<text x="310.9" y="635.8" font-size="6.4" textLength="13" lengthAdjust="spacingAndGlyphs">0.03</text>
<line x1="301.9" y1="633.6" x2="303.1" y2="633.6" stroke="#fff" stroke-width="0.5"/>
<line x1="306.7" y1="633.6" x2="307.9" y2="633.6" stroke="#fff" stroke-width="0.5"/>
<text x="310.9" y="645.2" font-size="6.4" textLength="13" lengthAdjust="spacingAndGlyphs">0.02</text>
<line x1="301.9" y1="643" x2="303.1" y2="643" stroke="#fff" stroke-width="0.5"/>
<line x1="306.7" y1="643" x2="307.9" y2="643" stroke="#fff" stroke-width="0.5"/>
<text x="310.9" y="653.6" font-size="6.4" textLength="13" lengthAdjust="spacingAndGlyphs">0.01</text>
<line x1="301.9" y1="651.4" x2="303.1" y2="651.4" stroke="#fff" stroke-width="0.5"/>
<line x1="306.7" y1="651.4" x2="307.9" y2="651.4" stroke="#fff" stroke-width="0.5"/>
<path d="M373 638.4h0M366.4 634.1h0M366.2 647.9h0M374.3 645.1h0M369.2 642.8h0M368.5 646.7h0M370.3 647.1h0M365.8 634.3h0M371.7 641.6h0M368 634.1h0M369.8 635.4h0M368.2 647.2h0M372.8 646.3h0M367.1 634.2h0M369.5 647.4h0M366.7 645.5h0M366.4 643.7h0M370.9 636.3h0M365.4 647.5h0M379 643.4h0M367.1 645.9h0M371 637h0M365.7 642.4h0M375.3 645.7h0M367.6 647.6h0M374.3 647.3h0M369 646.5h0M372.9 636.4h0M366.3 642.6h0M367 647.6h0M372.9 638.1h0M378.8 643.8h0M365.4 645.2h0M372.7 636.1h0M377.4 643.9h0M379.6 639.9h0M366.7 636h0M373.5 643.5h0M367.2 633.8h0M366.2 644.4h0M380.4 640.6h0M372.7 647.9h0M365.3 637.9h0M367.6 637.3h0M365.2 637.1h0M380.7 639.8h0M371 640.3h0M365.9 642.6h0M366.3 637.2h0M365.3 634.9h0M367.4 640.1h0M376.4 641.7h0M366 637.4h0M369.2 648h0M367 634.7h0M366.8 633.5h0M366.7 633.3h0M365.1 637.9h0M376.4 641h0M379.1 639.5h0M367 635h0M376.4 647.3h0M365.3 647.2h0M367.9 636.1h0M366.7 645.1h0" stroke="#440154" stroke-width="0.8" stroke-linecap="round"/>
<path d="M394.4 630.2h0M398 626.8h0M398.1 629.8h0M396.1 629.9h0M395.7 628.6h0M390.9 626.8h0M398.9 627.1h0M390.2 630.3h0M398.2 627h0M396.6 626.2h0M394.3 630.4h0M394.8 629.9h0" stroke="#440154" stroke-width="0.8" stroke-linecap="round"/>
<path d="M365.8 620.5 C366.3 619.2 367.2 617.8 368.4 617 C369.7 616.2 371.7 616.1 373.3 615.8 C375 615.4 376.7 615 378.5 615.1 C380.2 615.2 382.2 615.6 383.8 616.2 C385.4 616.8 387.2 617.5 388.1 618.7 C389 619.9 389.3 621.5 389.4 623.1 C389.6 624.7 389.3 627 389 628.4 C388.6 629.7 388 630.1 387.3 631 C386.5 631.9 385.4 632.4 384.5 633.6 C383.6 634.8 382.8 636.9 382 638 C381.2 639.1 380.5 640.1 379.8 640.2 C379.1 640.3 378.4 639.5 377.6 638.9 C376.8 638.2 376 637.1 375 636.3 C374 635.6 372.7 635.1 371.5 634.5 C370.3 633.9 368.9 633.7 368 632.8 C367 631.9 366.2 630.6 365.8 629.3 C365.4 628 365.5 626.5 365.5 625 C365.5 623.5 365.3 621.8 365.8 620.5 Z" fill="#461364" stroke="#440154" stroke-width="0.6" stroke-opacity="0.6"/>
<path d="M359.3 649.8 C359.9 648.8 361.5 648.6 362.8 648.5 C364.1 648.5 365.7 649.4 367.1 649.4 C368.6 649.4 370.2 648.9 371.5 648.5 C372.8 648.2 374 647.5 375 647.3 C376 647 377 646.2 377.6 646.8 C378.2 647.5 378.6 649.6 378.5 651.2 C378.4 652.8 377.5 654.8 376.8 656.4 C376.1 658 375.1 659.5 374.1 660.8 C373.1 662 371.9 663.2 370.6 663.9 C369.3 664.6 367.6 665.2 366.3 665.2 C365 665.2 363.8 664.8 362.8 663.9 C361.8 663 360.7 661.4 360.1 659.9 C359.5 658.4 359.2 656.4 359.1 654.7 C359 653 358.7 650.8 359.3 649.8 Z" fill="#461364" stroke="#440154" stroke-width="0.6" stroke-opacity="0.6"/>
<g clip-path="url(#kc54)">
<ellipse cx="369.1" cy="620.8" rx="3.3" ry="4.2" fill="url(#hs55)"/>
<ellipse cx="377.9" cy="618.7" rx="3" ry="3.8" fill="url(#hs56)"/>
<ellipse cx="374" cy="628.4" rx="3.3" ry="4.2" fill="url(#hs57)"/>
<ellipse cx="385.5" cy="620.8" rx="2.6" ry="3.4" fill="url(#hs58)"/>
<ellipse cx="381.9" cy="636.8" rx="1.6" ry="2.1" fill="url(#hs59)"/>
<ellipse cx="380.6" cy="640.1" rx="1.6" ry="2.1" fill="url(#hs60)"/>
<ellipse cx="378.9" cy="631.3" rx="3" ry="3.8" fill="url(#hs61)"/>
<ellipse cx="365.8" cy="662.8" rx="2.6" ry="3.4" fill="url(#hs62)"/>
<ellipse cx="371.4" cy="656.5" rx="2.6" ry="3.4" fill="url(#hs63)"/>
<ellipse cx="366.8" cy="655.2" rx="2.6" ry="3.4" fill="url(#hs64)"/>
</g>
<path d="M388.3 621.4h0M386.2 618.2h0M383.2 636.7h0M386.5 630.7h0M379.9 639.1h0M380.2 638.5h0M367.7 618.2h0M378.1 615.8h0M384.4 617.1h0M380.1 640.6h0M382.1 637.9h0M381.8 616.3h0M381.2 639.1h0M376.3 638.1h0M368.6 617.9h0M366.4 626.7h0M366.3 621h0M383.7 634.5h0M385.1 631.9h0M365.7 623.4h0M378.4 615.4h0M388.7 624.7h0M366 627.3h0M370.3 616.9h0M373.4 616.1h0M370.1 633.2h0M389 628.8h0M366.2 626.5h0M388.2 630.3h0M378.6 639.3h0M389.2 622.6h0M383.4 615.8h0M380 639.7h0M388.7 625.4h0M387.5 631.1h0M382.8 616.3h0M379.3 639.4h0M374.6 636.1h0M373.3 635h0M382 615.5h0M381 637.9h0M366.1 624.9h0M369.8 633.2h0M381.4 615.6h0M367.4 632h0M387.9 629.5h0M366.5 619.1h0M378.3 615.8h0M371.9 635.1h0M375.8 616.5h0M376 616.2h0M382.6 635.5h0M374.9 636.8h0M373.2 634.8h0M368.3 618.5h0M384.4 616.7h0M385.9 631.8h0M384.1 635h0M368 632.3h0M371.4 616.5h0M377.5 615.4h0M376.4 636.9h0M375.6 615.4h0M366 623.3h0M377.3 615.7h0M381.6 615.3h0M379.5 640.4h0M374.2 616.2h0M365.3 623.4h0M374.3 636.3h0" stroke="#440154" stroke-width="0.9" stroke-linecap="round"/>
<path d="M362.3 648.2h0M360.5 650h0M359 656.4h0M367.4 648.9h0M378.4 651.6h0M369.8 649.6h0M364.9 649.4h0M367 649.9h0M366.3 649h0M359.2 650.6h0M377 654.3h0M359.6 649.9h0M365.5 649.6h0M367.9 664.3h0M377.7 650.3h0M362.8 648.9h0M374 659.4h0M362.8 664.1h0M377.9 650.1h0M378.5 649.7h0M359.4 650.3h0M366.9 649h0M360.3 650.4h0M366.8 649.7h0M359.7 653.7h0M372.6 662.2h0M368.4 663.8h0M370.5 648.5h0M378 651.7h0M360 657.4h0M373.9 648.3h0M367.4 648.9h0M359.9 650h0M373.1 661.4h0M374.4 660.7h0M370.8 649.1h0M378.2 651.3h0M359.5 655.8h0M364.7 665h0M376.7 657.3h0M370.1 648.6h0M378.5 650h0M359.1 654.4h0M375.8 646.7h0M377.5 649.2h0M374 659.5h0M371.2 662.7h0M377.4 652.6h0M377.7 654.5h0M371.6 649.2h0" stroke="#440154" stroke-width="0.9" stroke-linecap="round"/>
<line x1="357.5" y1="613.6" x2="357.5" y2="666.6" stroke="#777" stroke-width="0.8"/>
<line x1="357.5" y1="666.6" x2="404" y2="666.6" stroke="#777" stroke-width="0.8"/>
<text x="351.9" y="627.5" font-size="7.2" text-anchor="end">3</text>
<line x1="355.5" y1="625" x2="357.5" y2="625" stroke="#777" stroke-width="0.7"/>
<text x="351.9" y="640.1" font-size="7.2" text-anchor="end">0</text>
<line x1="355.5" y1="637.6" x2="357.5" y2="637.6" stroke="#777" stroke-width="0.7"/>
<text x="351.9" y="652.7" font-size="7.2" text-anchor="end">&#8211;3</text>
<line x1="355.5" y1="650.2" x2="357.5" y2="650.2" stroke="#777" stroke-width="0.7"/>
<text x="351.9" y="665.3" font-size="7.2" text-anchor="end">&#8211;6</text>
<line x1="355.5" y1="662.8" x2="357.5" y2="662.8" stroke="#777" stroke-width="0.7"/>
<text x="374" y="677.2" font-size="7.2" text-anchor="middle">0</text>
<line x1="374" y1="666.6" x2="374" y2="668.6" stroke="#777" stroke-width="0.7"/>
<text x="390.4" y="677.2" font-size="7.2" text-anchor="middle">5</text>
<line x1="390.4" y1="666.6" x2="390.4" y2="668.6" stroke="#777" stroke-width="0.7"/>
<text x="357.1" y="608.6" font-size="8.8" textLength="23.5" lengthAdjust="spacingAndGlyphs">ITGA1</text>
<text x="384" y="686.6" font-size="8.4" text-anchor="middle" textLength="31" lengthAdjust="spacingAndGlyphs">UMAP-<tspan font-style="italic">X</tspan></text>
<text x="338.7" y="636.1" font-size="8.4" text-anchor="middle" textLength="30" lengthAdjust="spacingAndGlyphs" transform="rotate(-90 338.7 636.1)">UMAP-<tspan font-style="italic">Y</tspan></text>
<rect x="405.9" y="627.6" width="6" height="32" fill="url(#vg65)" stroke="none" stroke-width="0"/>
<text x="402.9" y="624.6" font-size="7.6" textLength="24" lengthAdjust="spacingAndGlyphs">Density</text>
<text x="414.9" y="637.8" font-size="6.4" textLength="13" lengthAdjust="spacingAndGlyphs">0.10</text>
<line x1="405.9" y1="635.6" x2="407.1" y2="635.6" stroke="#fff" stroke-width="0.5"/>
<line x1="410.7" y1="635.6" x2="411.9" y2="635.6" stroke="#fff" stroke-width="0.5"/>
<text x="414.9" y="649.8" font-size="6.4" textLength="13" lengthAdjust="spacingAndGlyphs">0.05</text>
<line x1="405.9" y1="647.6" x2="407.1" y2="647.6" stroke="#fff" stroke-width="0.5"/>
<line x1="410.7" y1="647.6" x2="411.9" y2="647.6" stroke="#fff" stroke-width="0.5"/>
<text x="414.9" y="661.2" font-size="6.4" textLength="4" lengthAdjust="spacingAndGlyphs">0</text>
<line x1="405.9" y1="659" x2="407.1" y2="659" stroke="#fff" stroke-width="0.5"/>
<line x1="410.7" y1="659" x2="411.9" y2="659" stroke="#fff" stroke-width="0.5"/>
<path d="M473.1 645.9h0M482.9 637.5h0M480.1 638h0M479.3 639h0M479.3 635.1h0M486.7 645.1h0M474.4 642.1h0M487.3 640.8h0M478.8 643.8h0M481.1 636.7h0M474 638h0M487 641h0M479.4 638.1h0M475.4 645.2h0M474.1 637.8h0M474.9 643.8h0M484 646.7h0M478.5 638.5h0M486.5 645.7h0M481.7 638.8h0M476.2 637.7h0M476.5 639.3h0M486.1 645.5h0M486.7 641.3h0M479 638.6h0M477.3 648.1h0M480.4 648.2h0M477.3 634.8h0M475 643h0M479.8 646.6h0M485.9 646.3h0M474.1 640.6h0M475.5 647.7h0M476.3 633.8h0M475.1 640.7h0M484.6 638.8h0M473.3 648.1h0M475.3 633.1h0M487.5 643.9h0M473 638.3h0M475.5 634h0M486.3 642.6h0M482.1 638.6h0M476.6 637.1h0M485.1 638.3h0M474.6 644.7h0M482.1 636.3h0M479.3 637.3h0M477.9 643.7h0M479.2 639.2h0M483.8 643.4h0M483.3 639.4h0M474.9 641.7h0M473.7 640.1h0M484.7 647.8h0M476.1 645.2h0M477.7 645h0M476.5 640.5h0M483 644.5h0M476.5 643.8h0M486.6 641h0M473.1 645h0M474.6 647h0M474.5 643.6h0M473 644h0" stroke="#440154" stroke-width="0.8" stroke-linecap="round"/>
<path d="M507.5 630.3h0M503.3 626.7h0M497.3 627.4h0M503.7 631.5h0M507.9 627h0M498.3 626.1h0M504.1 628h0M499.7 631.5h0M505.6 627.5h0M499.3 631.5h0M504.1 629.9h0M501.3 626.6h0" stroke="#440154" stroke-width="0.8" stroke-linecap="round"/>
<path d="M473.8 620.5 C474.3 619.2 475.2 617.8 476.4 617 C477.7 616.2 479.7 616.1 481.3 615.8 C483 615.4 484.7 615 486.5 615.1 C488.2 615.2 490.2 615.6 491.8 616.2 C493.4 616.8 495.2 617.5 496.1 618.7 C497 619.9 497.3 621.5 497.4 623.1 C497.6 624.7 497.3 627 497 628.4 C496.6 629.7 496 630.1 495.3 631 C494.5 631.9 493.4 632.4 492.5 633.6 C491.6 634.8 490.8 636.9 490 638 C489.2 639.1 488.5 640.1 487.8 640.2 C487.1 640.3 486.4 639.5 485.6 638.9 C484.8 638.2 484 637.1 483 636.3 C482 635.6 480.7 635.1 479.5 634.5 C478.3 633.9 476.9 633.7 476 632.8 C475 631.9 474.2 630.6 473.8 629.3 C473.4 628 473.5 626.5 473.5 625 C473.5 623.5 473.3 621.8 473.8 620.5 Z" fill="#2a788e" stroke="#440154" stroke-width="0.6" stroke-opacity="0.6"/>
<path d="M467.3 649.8 C467.9 648.8 469.5 648.6 470.8 648.5 C472.1 648.5 473.7 649.4 475.1 649.4 C476.6 649.4 478.2 648.9 479.5 648.5 C480.8 648.2 482 647.5 483 647.3 C484 647 485 646.2 485.6 646.8 C486.2 647.5 486.6 649.6 486.5 651.2 C486.4 652.8 485.5 654.8 484.8 656.4 C484.1 658 483.1 659.5 482.1 660.8 C481.1 662 479.9 663.2 478.6 663.9 C477.3 664.6 475.6 665.2 474.3 665.2 C473 665.2 471.8 664.8 470.8 663.9 C469.8 663 468.7 661.4 468.1 659.9 C467.5 658.4 467.2 656.4 467.1 654.7 C467 653 466.7 650.8 467.3 649.8 Z" fill="#461667" stroke="#440154" stroke-width="0.6" stroke-opacity="0.6"/>
<g clip-path="url(#kc66)">
<ellipse cx="476.8" cy="620.8" rx="3.3" ry="4.2" fill="url(#hs67)"/>
<ellipse cx="492.8" cy="619.5" rx="3.3" ry="4.2" fill="url(#hs68)"/>
<ellipse cx="486.9" cy="622.9" rx="3" ry="3.8" fill="url(#hs69)"/>
<ellipse cx="486.3" cy="630" rx="3" ry="3.8" fill="url(#hs70)"/>
<ellipse cx="478.7" cy="631.3" rx="3.3" ry="4.2" fill="url(#hs71)"/>
<ellipse cx="483.6" cy="625" rx="2.6" ry="3.4" fill="url(#hs72)"/>
<ellipse cx="473.8" cy="661.5" rx="3.3" ry="4.2" fill="url(#hs73)"/>
<ellipse cx="478.7" cy="654.4" rx="3.3" ry="4.2" fill="url(#hs74)"/>
</g>
<path d="M492.2 634.7h0M485.5 638h0M491.3 634.1h0M496.2 628.8h0M476.5 617h0M492.9 617h0M495 631.7h0M485.5 639.3h0M489.8 616.2h0M474.9 619h0M478.7 633.4h0M496.9 620.7h0M482.5 635.2h0M478.2 616.7h0M492.6 632.8h0M486.5 615.9h0M489.8 637.1h0M473.9 625h0M486.9 639.7h0M491.2 616.1h0M478.6 633.6h0M491.5 617h0M494.1 630.9h0M487.7 639.6h0M495.4 619.4h0M496 629.1h0M497.2 623.2h0M484.7 615.4h0M496.9 623.8h0M483.4 615.3h0M488.4 639.4h0M474.3 630.8h0M496.5 626.4h0M482 635.8h0M494.5 631.6h0M473.8 619.9h0M488.1 616.3h0M485.7 615.1h0M492 633.6h0M488.2 639.8h0M495.7 617.9h0M479.5 634.4h0M492.5 616.3h0M495.9 630.5h0M494.7 617.5h0M485.6 615.5h0M494.8 617.5h0M474.7 631.5h0M497.4 623.9h0M476.6 616.9h0M496.7 626.3h0M490.3 615.9h0M474.2 629.2h0M497.3 626.7h0M480.3 633.9h0M488.9 616.4h0M496.5 620.7h0M474.9 618.8h0M489 615.4h0M477.7 632.6h0M493.9 618.2h0M492.9 617.2h0M486 616.1h0M494.4 631.3h0M479.6 634.2h0M495.5 629.7h0M496.3 628.8h0M493 616.5h0M487.7 616.4h0M491.3 636.5h0" stroke="#440154" stroke-width="0.9" stroke-linecap="round"/>
<path d="M477.5 649.3h0M483.1 657.5h0M467.2 656.7h0M470.5 661.9h0M472.9 663.6h0M485.9 650h0M475.8 664h0M474.4 664.4h0M485.1 647h0M479.9 661.5h0M484.9 647.4h0M468.5 659.4h0M475.3 665.2h0M475.7 649.2h0M477.8 664.6h0M477.4 664.6h0M477.8 648.8h0M482.1 659.8h0M467 653.5h0M471.8 649.5h0M480.3 661.3h0M474.2 665.5h0M486.1 648.5h0M485.5 654.5h0M468.7 659.3h0M477.7 649.9h0M467.3 652.5h0M468.6 658.4h0M473.3 664.8h0M478.6 663.1h0M485.5 647.1h0M472.1 648.5h0M470.2 663.1h0M475 664.8h0M474.5 665.2h0M471.9 649.3h0M481.2 647.7h0M485 655.2h0M468.1 657.3h0M485.6 653.4h0M480.4 662.7h0M483.5 647.6h0M467.5 654.1h0M478.8 649.7h0M470.1 663.2h0M486.4 648.9h0M471.8 664.4h0M469.5 661h0M471.1 663.6h0M480.4 647.7h0" stroke="#440154" stroke-width="0.9" stroke-linecap="round"/>
<line x1="465.5" y1="613.6" x2="465.5" y2="666.6" stroke="#777" stroke-width="0.8"/>
<line x1="465.5" y1="666.6" x2="512" y2="666.6" stroke="#777" stroke-width="0.8"/>
<text x="459.9" y="627.5" font-size="7.2" text-anchor="end">3</text>
<line x1="463.5" y1="625" x2="465.5" y2="625" stroke="#777" stroke-width="0.7"/>
<text x="459.9" y="640.1" font-size="7.2" text-anchor="end">0</text>
<line x1="463.5" y1="637.6" x2="465.5" y2="637.6" stroke="#777" stroke-width="0.7"/>
<text x="459.9" y="652.7" font-size="7.2" text-anchor="end">&#8211;3</text>
<line x1="463.5" y1="650.2" x2="465.5" y2="650.2" stroke="#777" stroke-width="0.7"/>
<text x="459.9" y="665.3" font-size="7.2" text-anchor="end">&#8211;6</text>
<line x1="463.5" y1="662.8" x2="465.5" y2="662.8" stroke="#777" stroke-width="0.7"/>
<text x="482" y="677.2" font-size="7.2" text-anchor="middle">0</text>
<line x1="482" y1="666.6" x2="482" y2="668.6" stroke="#777" stroke-width="0.7"/>
<text x="498.4" y="677.2" font-size="7.2" text-anchor="middle">5</text>
<line x1="498.4" y1="666.6" x2="498.4" y2="668.6" stroke="#777" stroke-width="0.7"/>
<text x="465.1" y="608.6" font-size="8.8" textLength="29.5" lengthAdjust="spacingAndGlyphs">CXCR6</text>
<text x="492" y="686.6" font-size="8.4" text-anchor="middle" textLength="31" lengthAdjust="spacingAndGlyphs">UMAP-<tspan font-style="italic">X</tspan></text>
<text x="446.7" y="636.1" font-size="8.4" text-anchor="middle" textLength="30" lengthAdjust="spacingAndGlyphs" transform="rotate(-90 446.7 636.1)">UMAP-<tspan font-style="italic">Y</tspan></text>
<rect x="515.1" y="627.6" width="6" height="32" fill="url(#vg75)" stroke="none" stroke-width="0"/>
<text x="509.1" y="624.6" font-size="8.6" textLength="29" lengthAdjust="spacingAndGlyphs">Density</text>
<text x="524.1" y="634.2" font-size="6.4" textLength="13" lengthAdjust="spacingAndGlyphs">0.05</text>
<line x1="515.1" y1="632" x2="516.3" y2="632" stroke="#fff" stroke-width="0.5"/>
<line x1="519.9" y1="632" x2="521.1" y2="632" stroke="#fff" stroke-width="0.5"/>
<text x="524.1" y="639.8" font-size="6.4" textLength="13" lengthAdjust="spacingAndGlyphs">0.04</text>
<line x1="515.1" y1="637.6" x2="516.3" y2="637.6" stroke="#fff" stroke-width="0.5"/>
<line x1="519.9" y1="637.6" x2="521.1" y2="637.6" stroke="#fff" stroke-width="0.5"/>
<text x="524.1" y="645.6" font-size="6.4" textLength="13" lengthAdjust="spacingAndGlyphs">0.03</text>
<line x1="515.1" y1="643.4" x2="516.3" y2="643.4" stroke="#fff" stroke-width="0.5"/>
<line x1="519.9" y1="643.4" x2="521.1" y2="643.4" stroke="#fff" stroke-width="0.5"/>
<text x="524.1" y="651.2" font-size="6.4" textLength="13" lengthAdjust="spacingAndGlyphs">0.02</text>
<line x1="515.1" y1="649" x2="516.3" y2="649" stroke="#fff" stroke-width="0.5"/>
<line x1="519.9" y1="649" x2="521.1" y2="649" stroke="#fff" stroke-width="0.5"/>
<text x="524.1" y="657.2" font-size="6.4" textLength="13" lengthAdjust="spacingAndGlyphs">0.01</text>
<line x1="515.1" y1="655" x2="516.3" y2="655" stroke="#fff" stroke-width="0.5"/>
<line x1="519.9" y1="655" x2="521.1" y2="655" stroke="#fff" stroke-width="0.5"/>
</svg></body></html>
